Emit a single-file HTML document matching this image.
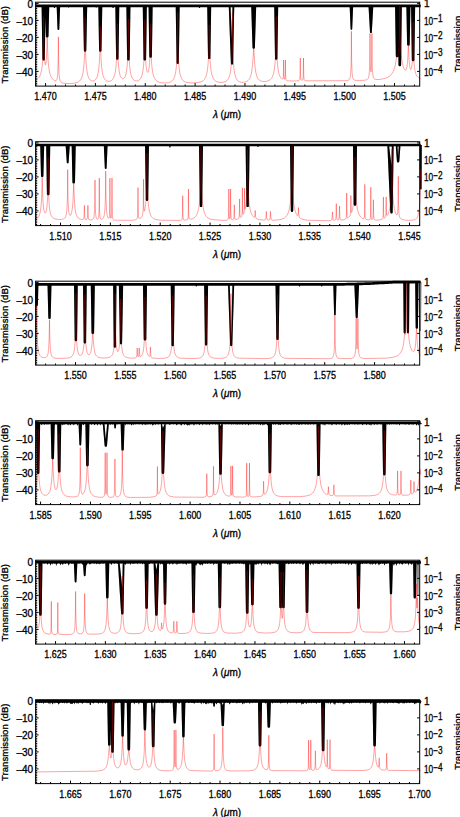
<!DOCTYPE html>
<html><head><meta charset="utf-8"><style>
html,body{margin:0;padding:0;background:#fff;width:460px;height:817px;overflow:hidden}
svg{display:block}
text{font-family:"Liberation Sans", sans-serif;font-size:10px;fill:#000;stroke:#000;stroke-width:0.3px}
.al{font-size:9.6px}
</style></head><body>
<svg width="460" height="817" viewBox="0 0 460 817">
<rect width="460" height="817" fill="#fff"/>
<path d="M35.6,5.9 37.6,5.9 39.6,5.9 41.6,5.9 43.6,5.9 45.6,5.9 47.6,5.9 49.6,5.9 51.6,5.9 53.6,5.9 55.6,5.9 57.6,5.9 59.6,5.9 61.6,5.9 63.6,5.9 65.6,5.9 67.6,5.9 69.6,5.9 71.6,5.9 73.6,5.9 75.6,5.9 77.6,5.9 79.6,5.9 81.6,5.9 83.6,5.9 85.6,5.9 87.6,5.9 89.6,5.9 91.6,5.9 93.6,5.9 95.6,5.9 97.6,5.9 99.6,5.9 101.6,5.9 103.6,5.9 105.6,5.9 107.6,5.9 109.6,5.9 111.6,5.9 113.6,5.9 115.6,5.9 117.6,5.9 119.6,5.9 121.6,5.9 123.6,5.9 125.6,5.9 127.6,5.9 129.6,5.9 131.6,5.9 133.6,5.9 135.6,5.9 137.6,5.9 139.6,5.9 141.6,5.9 143.6,5.9 145.6,5.9 147.6,5.9 149.6,5.9 151.6,5.9 153.6,5.9 155.6,5.9 157.6,5.9 159.6,5.9 161.6,5.9 163.6,5.9 165.6,5.9 167.6,5.9 169.6,5.9 171.6,5.9 173.6,5.9 175.6,5.9 177.6,5.9 179.6,5.9 181.6,5.9 183.6,5.9 185.6,5.9 187.6,5.9 189.6,5.9 191.6,5.9 193.6,5.9 195.6,5.9 197.6,5.9 199.6,5.9 201.6,5.9 203.6,5.9 205.6,5.9 207.6,5.9 209.6,5.9 211.6,5.9 213.6,5.9 215.6,5.9 217.6,5.9 219.6,5.9 221.6,5.9 223.6,5.9 225.6,5.9 227.6,5.9 229.6,5.9 231.6,5.9 233.6,5.9 235.6,5.9 237.6,5.9 239.6,5.9 241.6,5.9 243.6,5.9 245.6,5.9 247.6,5.9 249.6,5.9 251.6,5.9 253.6,5.9 255.6,5.9 257.6,5.9 259.6,5.9 261.6,5.9 263.6,5.9 265.6,5.9 267.6,5.9 269.6,5.9 271.6,5.9 273.6,5.9 275.6,5.9 277.6,5.9 279.6,5.9 281.6,5.9 283.6,5.9 285.6,5.9 287.6,5.9 289.6,5.9 291.6,5.9 293.6,5.9 295.6,5.9 297.6,5.9 299.6,5.9 301.6,5.9 303.6,5.9 305.6,5.9 307.6,5.9 309.6,5.9 311.6,5.9 313.6,5.9 315.6,5.9 317.6,5.9 319.6,5.9 321.6,5.9 323.6,5.9 325.6,5.9 327.6,5.9 329.6,5.9 331.6,5.9 333.6,5.9 335.6,5.9 337.6,5.9 339.6,5.9 341.6,5.9 343.6,5.9 345.6,5.9 347.6,5.9 349.6,5.9 351.6,5.9 353.6,5.9 355.6,5.9 357.6,5.9 359.6,5.9 361.6,5.9 363.6,5.9 365.6,5.9 367.6,5.9 369.6,5.9 371.6,5.9 373.6,5.9 375.6,5.9 377.6,5.9 379.6,5.9 381.6,5.9 383.6,5.9 385.6,5.9 387.6,5.9 389.6,5.9 391.6,5.9 393.6,5.9 395.6,5.9 397.6,5.9 399.6,5.9 401.6,5.9 403.6,5.9 405.6,5.9 407.6,5.9 409.6,5.9 411.6,5.9 413.6,5.9 415.6,5.9 417.6,5.9 419.6,5.9 420.7,5.9" fill="none" stroke="#000" stroke-width="2.7"/>
<path d="M41.6,5.9L42.4,59.3A1.2,1.2 0 0 0 44.8,59.3L45.6,5.9ZM45.15,5.9L45.9,36.2A1.3,1.3 0 0 0 48.5,36.2L49.25,5.9ZM56.65,5.9L57.5,29A0.9,0.9 0 0 0 59.3,29L60.15,5.9ZM83,5.9L83.9,50.5A1.2,1.2 0 0 0 86.3,50.5L87.2,5.9ZM98.3,5.9L99.1,50.5A1.2,1.2 0 0 0 101.5,50.5L102.3,5.9ZM115.3,5.9L116.1,58.6A1.2,1.2 0 0 0 118.5,58.6L119.3,5.9ZM126.35,5.9L127.1,59.2A1.3,1.3 0 0 0 129.7,59.2L130.45,5.9ZM142.75,5.9L143.5,59.2A1.3,1.3 0 0 0 146.1,59.2L146.85,5.9ZM148.55,5.9L149.3,56.4A1.3,1.3 0 0 0 151.9,56.4L152.65,5.9ZM175.7,5.9L176.6,62.9A1.1,1.1 0 0 0 178.8,62.9L179.7,5.9ZM207.2,5.9L208,57.9A1.2,1.2 0 0 0 210.4,57.9L211.2,5.9ZM228.75,5.9L230.9,63.6A1.1,1.1 0 0 0 233.1,63.6L234.25,5.9ZM251.2,5.9L252.5,47.5A1.2,1.2 0 0 0 254.9,47.5L256.2,5.9ZM274.2,5.9L275,58.6A1.2,1.2 0 0 0 277.4,58.6L278.2,5.9ZM349.65,5.9L350.6,29.1A0.8,0.8 0 0 0 352.2,29.1L353.15,5.9ZM368.5,5.9L370,32.2A0.9,0.9 0 0 0 371.8,32.2L373.3,5.9ZM395.05,5.9L395.8,56A1.3,1.3 0 0 0 398.4,56L399.15,5.9ZM397.75,5.9L398.5,64.9A1.3,1.3 0 0 0 401.1,64.9L401.85,5.9ZM406.35,5.9L407.1,44.5A1.3,1.3 0 0 0 409.7,44.5L410.45,5.9ZM411.05,5.9L411.8,59.9A1.3,1.3 0 0 0 414.4,59.9L415.15,5.9ZM53.5,5.9L54,7.5A0.5,0.5 0 0 0 55,7.5L55.5,5.9ZM67.4,5.9L67.9,7A0.5,0.5 0 0 0 68.9,7L69.4,5.9ZM95.2,5.9L95.7,7A0.5,0.5 0 0 0 96.7,7L97.2,5.9ZM112,5.9L112.5,7.5A0.5,0.5 0 0 0 113.5,7.5L114,5.9ZM198.25,5.9L199,7.5A0.5,0.5 0 0 0 200,7.5L200.75,5.9Z" fill="#000"/>
<path d="M230.55,7.3L232.45,7.3L232,40Z" fill="#fff"/>
<path d="M35.6,80.1 36.6,79.64 37.6,78.97 38.1,78.53 38.6,77.98 39.1,77.31 39.6,76.48 40.1,75.42 40.6,74.06 41.19,71.91 41.6,69.85 42.1,66.41 42.6,61.12 42.85,57.24 43.1,51.45 43.22,47.4 43.41,37.58 43.6,16.7 43.79,37.58 43.98,47.37 44.19,53.74 44.35,56.98 44.6,60.52 45.11,64.35 45.6,64.76 45.7,64.49 46.1,61.98 46.45,57.63 46.82,49.18 47.11,39.1 47.2,37.46 47.29,39.1 47.6,49.95 47.95,57.94 48.1,60.3 48.7,66.85 49.1,69.64 49.63,72.34 50.21,74.49 50.6,75.61 51.1,76.77 51.6,77.7 52.6,79.08 53.21,79.69 54.1,80.34 54.6,80.59 55.1,80.75 55.65,80.78 56.1,80.63 56.6,80.12 56.91,79.46 57.1,78.81 57.6,75.34 58.03,66.8 58.21,57.56 58.4,36.89 58.6,58.49 58.77,66.83 59.15,74.87 59.23,75.86 59.6,78.79 59.89,80.09 60.1,80.71 60.6,81.67 61.1,82.23 61.6,82.58 62.1,82.82 63.1,83.13 66.1,83.52 71.6,83.5 74.6,83.15 76.6,82.66 77.6,82.28 78.6,81.74 79.6,80.94 80.1,80.41 80.6,79.75 81.1,78.91 81.6,77.84 82.16,76.27 82.6,74.6 83.1,72.08 83.63,68.25 84.1,63.03 84.36,58.72 84.6,53.17 84.73,48.76 84.92,38.9 85.1,18 85.28,38.9 85.47,48.76 85.6,53.17 85.84,58.72 86.1,63.02 86.6,68.47 87.1,72.02 87.6,74.49 88.1,76.28 88.6,77.6 89.1,78.59 89.6,79.33 90.1,79.89 90.6,80.3 91.1,80.6 91.6,80.8 92.1,80.92 92.6,80.96 93.1,80.94 93.6,80.83 94.1,80.66 94.6,80.39 95.32,79.82 95.6,79.51 96.1,78.85 96.6,77.97 97.1,76.79 97.7,74.84 98.1,73.06 98.6,70.03 99.1,65.52 99.65,57.02 99.97,47.26 100.3,26.4 100.63,47.26 100.95,57.02 101.1,59.94 101.6,66.59 102.1,70.73 102.6,73.56 103.1,75.59 103.6,77.08 104.1,78.2 104.6,79.05 105.1,79.7 105.6,80.19 106.1,80.57 106.6,80.86 107.1,81.07 108.1,81.31 109.1,81.33 110.1,81.15 111.1,80.75 111.6,80.43 112.1,80.02 112.6,79.48 113.1,78.79 113.6,77.9 114.1,76.72 114.6,75.14 115.15,72.75 115.6,69.97 116.1,65.48 116.6,58.01 116.76,54.27 117.1,40.46 117.3,23.6 117.6,46 117.84,54.27 118.1,59.89 118.38,63.98 118.6,66.51 119.1,70.58 119.6,73.32 120.1,75.22 120.6,76.56 121.11,77.51 121.6,78.14 122.18,78.57 122.6,78.72 123.1,78.71 123.6,78.52 124.1,78.13 124.6,77.49 125.1,76.55 125.6,75.2 126.1,73.3 126.6,70.56 127.1,66.49 127.62,59.45 128.01,49.54 128.21,39.7 128.4,18.8 128.6,40.1 128.79,49.54 129.18,59.46 129.6,65.45 130.1,69.94 130.6,72.95 131.1,75.08 131.76,77.04 132.1,77.79 132.6,78.66 133.39,79.63 134.1,80.2 134.62,80.49 135.1,80.69 135.6,80.82 136.6,80.9 137.6,80.75 138.6,80.35 139.1,80.04 139.6,79.63 140.1,79.1 140.84,78.03 141.6,76.37 142.1,74.82 142.6,72.72 143.17,69.24 143.6,65.33 144.1,57.93 144.39,50.21 144.6,40.13 144.8,19.5 145,40.39 145.21,50.2 145.61,59.98 146.1,66.08 146.6,69.66 147.1,71.62 147.6,72.37 148.06,72.12 148.45,71.18 148.6,70.62 149.1,67.77 149.6,62.76 150.1,53.18 150.33,44.46 150.6,23.6 150.87,44.47 151.14,54.24 151.32,58.35 151.68,63.9 152.1,68.26 152.75,72.56 153.1,74.18 153.6,75.97 154.1,77.32 154.6,78.37 155.1,79.2 155.6,79.86 156.1,80.4 157.1,81.21 158.1,81.78 159.6,82.35 161.6,82.78 164.6,83.02 167.1,82.9 168.6,82.65 169.6,82.38 170.6,81.96 171.6,81.33 172.1,80.92 172.6,80.4 173.1,79.76 173.6,78.96 174.1,77.93 174.6,76.6 175.1,74.84 175.64,72.25 176.1,69.11 176.67,63.23 177.18,53.35 177.44,43.29 177.7,12.5 177.83,33.41 177.96,43.29 178.22,53.35 178.6,61.31 179.1,67.36 179.76,72.24 180.1,73.95 180.6,75.92 181.1,77.39 181.83,78.94 182.6,80.06 183.1,80.6 183.6,81.04 184.6,81.68 186.1,82.27 188.1,82.69 192.6,82.92 197.1,82.63 199.6,82.18 201.1,81.77 202.1,81.36 203.1,80.76 203.6,80.35 204.22,79.72 204.6,79.22 205.1,78.42 205.6,77.41 206.1,76.08 206.71,73.88 207.1,71.95 207.6,68.61 208.1,63.63 208.6,55.12 208.89,45.87 209.2,25 209.51,45.87 209.82,55.65 210.1,60.85 210.6,66.88 211.1,70.76 211.69,73.89 212.1,75.46 212.6,76.95 213.1,78.08 213.6,78.97 214.18,79.77 214.6,80.22 215.1,80.67 216.1,81.34 217.1,81.78 218.6,82.19 220.6,82.41 222.6,82.35 224.18,82.07 225.1,81.76 226.1,81.25 226.6,80.9 227.1,80.46 227.6,79.91 228.29,78.89 228.87,77.72 229.14,77.04 229.6,75.59 230.1,73.51 230.6,70.63 231.1,66.43 231.37,63.22 231.6,59.71 231.89,53.35 232.14,43.29 232.4,12.5 232.66,43.29 232.91,53.35 233.1,57.81 233.43,63.23 233.6,65.35 234.1,69.92 234.6,73.02 235.1,75.25 235.6,76.89 236.1,78.14 236.6,79.1 237.1,79.85 237.6,80.44 238.1,80.92 238.6,81.29 239.6,81.84 240.1,82.04 241.6,82.32 243.1,82.34 244.6,82.14 245.6,81.87 246.6,81.45 247.6,80.84 248.1,80.42 248.6,79.91 249.1,79.27 249.6,78.47 250.1,77.46 250.6,76.14 251.1,74.42 251.6,72.12 252.15,68.57 252.6,64.38 253.1,57.49 253.6,49.1 253.7,48.63 253.89,50.26 254.6,61.97 255.25,68.55 255.6,70.94 256.1,73.52 256.8,76.04 257.1,76.83 257.6,77.91 258.1,78.74 258.6,79.38 259.1,79.89 260.1,80.6 261.1,81.04 262.1,81.31 264.1,81.49 266.15,81.34 268.1,80.84 269.1,80.39 270.1,79.75 270.6,79.31 271.1,78.78 271.6,78.12 272.1,77.29 272.6,76.24 273.1,74.88 273.6,73.1 274.1,70.69 274.65,66.93 275.1,62.31 275.42,57.42 275.6,53.73 275.81,47.45 276.01,37.6 276.2,16.7 276.39,37.6 276.6,47.89 276.98,57.42 277.1,59.5 277.6,65.56 278.1,69.45 278.6,72.16 279.31,74.79 279.6,75.61 280.1,76.72 280.6,77.58 281.1,78.23 281.6,78.73 282.1,79.06 282.51,79.16 282.6,79.14 283.05,78.4 283.2,77.45 283.33,75.51 283.46,70.12 283.6,59.99 283.74,70.14 283.9,76.21 284.15,78.59 284.3,79.08 284.6,79.28 284.69,79.18 284.85,78.75 285.12,75.78 285.26,70.25 285.4,60.03 285.6,73.52 285.78,77.74 285.95,79.12 286.1,79.71 286.5,80.37 287.1,80.71 288.1,80.93 296.6,80.93 298.25,80.75 298.6,80.66 299.1,80.42 299.4,80.09 299.6,79.64 299.79,78.75 300.04,74.9 300.3,58.05 300.43,68.69 300.6,76.02 300.81,78.72 301.1,79.83 301.32,80.16 301.6,80.33 302.1,80.37 302.48,80.17 302.6,80.03 303,78.63 303.1,77.71 303.24,74.91 303.5,58.05 303.63,68.7 303.76,74.92 304.01,78.79 304.1,79.29 304.4,80.12 304.6,80.36 305.1,80.63 306.1,80.8 345.1,80.71 347.1,80.49 348.1,80.23 348.6,80 349.22,79.49 349.6,78.94 350.1,77.54 350.31,76.49 350.6,74.11 350.85,70.25 351.13,61.55 351.26,52.07 351.4,31.29 351.6,57.33 351.67,61.55 351.95,70.25 352.1,72.87 352.49,76.47 352.6,77.07 353.1,78.7 353.6,79.46 354.1,79.87 354.6,80.11 356.1,80.42 362.6,80.41 365.1,80.14 366.1,79.91 367.1,79.48 367.6,79.1 368.1,78.45 368.6,77.24 368.74,76.69 369.1,74.52 369.39,71.12 369.6,66.33 369.84,54.06 370,33.38 370.16,54.04 370.31,63.17 370.64,70.67 371.1,71.93 371.27,70.49 371.6,62.59 371.74,54.04 371.9,33.38 372.1,57.31 372.21,63.29 372.6,72.34 373.16,76.56 373.6,77.87 374.1,78.62 374.6,79.03 375.1,79.26 376.1,79.49 378.1,79.54 382.1,79.09 385.1,78.37 387.1,77.61 388.6,76.81 389.6,76.11 391.1,74.71 392.1,73.44 392.6,72.65 393.25,71.44 394.1,69.39 394.6,67.85 395.1,65.94 395.6,63.54 396.67,56.59 397.1,54.88 397.53,55.2 397.6,55.32 397.95,55.48 398.16,54.96 398.6,52.07 398.98,47.15 399.16,43.67 399.39,37.34 399.6,27.18 399.8,6.6 400,27.5 400.21,37.36 400.62,47.37 401.1,53.94 401.6,58.42 402.1,61.65 402.6,64.12 403.1,66.04 403.6,67.55 404.1,68.7 404.6,69.54 405.1,70.05 405.6,70.16 406.13,69.72 406.35,69.3 406.6,68.59 407.1,66.09 407.31,64.43 407.6,61.15 407.85,56.96 408.26,47.26 408.4,45.65 408.54,47.26 408.95,56.98 409.1,59.71 409.62,65.55 410.1,68.28 410.6,69.43 410.73,69.5 411.1,69.21 411.36,68.54 411.6,67.47 412.1,63.41 412.23,61.76 412.66,52.51 412.9,41.8 413.1,22 413.32,42.85 413.6,54.48 413.97,61.99 414.1,63.75 414.6,68.5 415.1,71.38 415.6,73.27 416.1,74.59 416.6,75.56 417.13,76.33 417.6,76.86 418.1,77.31 419.1,78 420.6,78.69" fill="none" stroke="rgb(255,0,0)" stroke-opacity="0.36" stroke-width="1"/>
<path d="M41.6,5.9L42.4,59.3A1.2,1.2 0 0 0 44.8,59.3L45.6,5.9ZM45.15,5.9L45.9,36.2A1.3,1.3 0 0 0 48.5,36.2L49.25,5.9ZM56.65,5.9L57.5,29A0.9,0.9 0 0 0 59.3,29L60.15,5.9ZM83,5.9L83.9,50.5A1.2,1.2 0 0 0 86.3,50.5L87.2,5.9ZM98.3,5.9L99.1,50.5A1.2,1.2 0 0 0 101.5,50.5L102.3,5.9ZM115.3,5.9L116.1,58.6A1.2,1.2 0 0 0 118.5,58.6L119.3,5.9ZM126.35,5.9L127.1,59.2A1.3,1.3 0 0 0 129.7,59.2L130.45,5.9ZM142.75,5.9L143.5,59.2A1.3,1.3 0 0 0 146.1,59.2L146.85,5.9ZM148.55,5.9L149.3,56.4A1.3,1.3 0 0 0 151.9,56.4L152.65,5.9ZM175.7,5.9L176.6,62.9A1.1,1.1 0 0 0 178.8,62.9L179.7,5.9ZM207.2,5.9L208,57.9A1.2,1.2 0 0 0 210.4,57.9L211.2,5.9ZM228.75,5.9L230.9,63.6A1.1,1.1 0 0 0 233.1,63.6L234.25,5.9ZM251.2,5.9L252.5,47.5A1.2,1.2 0 0 0 254.9,47.5L256.2,5.9ZM274.2,5.9L275,58.6A1.2,1.2 0 0 0 277.4,58.6L278.2,5.9ZM349.65,5.9L350.6,29.1A0.8,0.8 0 0 0 352.2,29.1L353.15,5.9ZM368.5,5.9L370,32.2A0.9,0.9 0 0 0 371.8,32.2L373.3,5.9ZM395.05,5.9L395.8,56A1.3,1.3 0 0 0 398.4,56L399.15,5.9ZM397.75,5.9L398.5,64.9A1.3,1.3 0 0 0 401.1,64.9L401.85,5.9ZM406.35,5.9L407.1,44.5A1.3,1.3 0 0 0 409.7,44.5L410.45,5.9ZM411.05,5.9L411.8,59.9A1.3,1.3 0 0 0 414.4,59.9L415.15,5.9ZM53.5,5.9L54,7.5A0.5,0.5 0 0 0 55,7.5L55.5,5.9ZM67.4,5.9L67.9,7A0.5,0.5 0 0 0 68.9,7L69.4,5.9ZM95.2,5.9L95.7,7A0.5,0.5 0 0 0 96.7,7L97.2,5.9ZM112,5.9L112.5,7.5A0.5,0.5 0 0 0 113.5,7.5L114,5.9ZM198.25,5.9L199,7.5A0.5,0.5 0 0 0 200,7.5L200.75,5.9ZM230.55,7.3L232.45,7.3L232,40Z" fill="#000" fill-opacity="0.3" fill-rule="evenodd"/>
<rect x="35.6" y="2.2" width="384.1" height="83.9" fill="none" stroke="#000" stroke-width="1"/>
<path d="M35.6,3.4h3M35.6,5.1h1.6M35.6,6.8h1.6M35.6,8.5h1.6M35.6,10.2h1.6M35.6,11.9h1.6M35.6,13.6h1.6M35.6,15.3h1.6M35.6,17h1.6M35.6,18.7h1.6M35.6,20.4h3M35.6,22.1h1.6M35.6,23.8h1.6M35.6,25.5h1.6M35.6,27.2h1.6M35.6,28.9h1.6M35.6,30.6h1.6M35.6,32.3h1.6M35.6,34h1.6M35.6,35.7h1.6M35.6,37.4h3M35.6,39.1h1.6M35.6,40.8h1.6M35.6,42.5h1.6M35.6,44.2h1.6M35.6,45.9h1.6M35.6,47.6h1.6M35.6,49.3h1.6M35.6,51h1.6M35.6,52.7h1.6M35.6,54.4h3M35.6,56.1h1.6M35.6,57.8h1.6M35.6,59.5h1.6M35.6,61.2h1.6M35.6,62.9h1.6M35.6,64.6h1.6M35.6,66.3h1.6M35.6,68h1.6M35.6,69.7h1.6M35.6,71.4h3M35.6,73.1h1.6M35.6,74.8h1.6M35.6,76.5h1.6M35.6,78.2h1.6M35.6,79.9h1.6M35.6,81.6h1.6M35.6,83.3h1.6M35.6,85h1.6M419.7,3.4h-2.6M419.7,20.4h-2.6M419.7,37.4h-2.6M419.7,54.4h-2.6M419.7,71.4h-2.6M35.6,86.1v-1.6M45.57,86.1v-3M55.54,86.1v-1.6M65.51,86.1v-1.6M75.48,86.1v-1.6M85.45,86.1v-1.6M95.42,86.1v-3M105.39,86.1v-1.6M115.36,86.1v-1.6M125.33,86.1v-1.6M135.3,86.1v-1.6M145.27,86.1v-3M155.24,86.1v-1.6M165.21,86.1v-1.6M175.18,86.1v-1.6M185.15,86.1v-1.6M195.12,86.1v-3M205.09,86.1v-1.6M215.06,86.1v-1.6M225.03,86.1v-1.6M235,86.1v-1.6M244.97,86.1v-3M254.94,86.1v-1.6M264.91,86.1v-1.6M274.88,86.1v-1.6M284.85,86.1v-1.6M294.82,86.1v-3M304.79,86.1v-1.6M314.76,86.1v-1.6M324.73,86.1v-1.6M334.7,86.1v-1.6M344.67,86.1v-3M354.64,86.1v-1.6M364.61,86.1v-1.6M374.58,86.1v-1.6M384.55,86.1v-1.6M394.52,86.1v-3M404.49,86.1v-1.6M414.46,86.1v-1.6" stroke="#000" stroke-width="1" fill="none"/>
<g><text x="34.37" y="100.3" textLength="22.4" lengthAdjust="spacingAndGlyphs">1.470</text><text x="84.22" y="100.3" textLength="22.4" lengthAdjust="spacingAndGlyphs">1.475</text><text x="134.07" y="100.3" textLength="22.4" lengthAdjust="spacingAndGlyphs">1.480</text><text x="183.92" y="100.3" textLength="22.4" lengthAdjust="spacingAndGlyphs">1.485</text><text x="233.77" y="100.3" textLength="22.4" lengthAdjust="spacingAndGlyphs">1.490</text><text x="283.62" y="100.3" textLength="22.4" lengthAdjust="spacingAndGlyphs">1.495</text><text x="333.47" y="100.3" textLength="22.4" lengthAdjust="spacingAndGlyphs">1.500</text><text x="383.32" y="100.3" textLength="22.4" lengthAdjust="spacingAndGlyphs">1.505</text><text x="33.1" y="7.7" text-anchor="end">0</text><text x="33.1" y="24.7" text-anchor="end">–10</text><text x="33.1" y="41.7" text-anchor="end">–20</text><text x="33.1" y="58.7" text-anchor="end">–30</text><text x="33.1" y="75.7" text-anchor="end">–40</text><text x="423.9" y="7">1</text><text x="423.9" y="24.6" textLength="9.2" lengthAdjust="spacingAndGlyphs">10</text><text x="433.2" y="22.4" font-size="7.8" textLength="9.4" lengthAdjust="spacingAndGlyphs">−1</text><text x="423.9" y="41.6" textLength="9.2" lengthAdjust="spacingAndGlyphs">10</text><text x="433.2" y="39.4" font-size="7.8" textLength="9.4" lengthAdjust="spacingAndGlyphs">−2</text><text x="423.9" y="58.6" textLength="9.2" lengthAdjust="spacingAndGlyphs">10</text><text x="433.2" y="56.4" font-size="7.8" textLength="9.4" lengthAdjust="spacingAndGlyphs">−3</text><text x="423.9" y="75.6" textLength="9.2" lengthAdjust="spacingAndGlyphs">10</text><text x="433.2" y="73.4" font-size="7.8" textLength="9.4" lengthAdjust="spacingAndGlyphs">−4</text><text x="227" y="118" text-anchor="middle"><tspan font-style="italic">λ</tspan> (<tspan font-style="italic">μ</tspan>m)</text><text transform="translate(8.0,44.7) rotate(-90)" text-anchor="middle" class="al">Transmission (dB)</text><text transform="translate(460.8,44) rotate(-90)" text-anchor="middle" class="al">Transmission</text></g>
<path d="M35.6,145 37.6,145 39.6,145 41.6,145 43.6,145 45.6,145 47.6,145 49.6,145 51.6,145 53.6,145 55.6,145 57.6,145 59.6,145 61.6,145 63.6,145 65.6,145 67.6,145 69.6,145 71.6,145 73.6,145 75.6,145 77.6,145 79.6,145 81.6,145 83.6,145 85.6,145 87.6,145 89.6,145 91.6,145 93.6,145 95.6,145 97.6,145 99.6,145 101.6,145 103.6,145 105.6,145 107.6,145 109.6,145 111.6,145 113.6,145 115.6,145 117.6,145 119.6,145 121.6,145 123.6,145 125.6,145 127.6,145 129.6,145 131.6,145 133.6,145 135.6,145 137.6,145 139.6,145 141.6,145 143.6,145 145.6,145 147.6,145 149.6,145 151.6,145 153.6,145 155.6,145 157.6,145 159.6,145 161.6,145 163.6,145 165.6,145 167.6,145 169.6,145 171.6,145 173.6,145 175.6,145 177.6,145 179.6,145 181.6,145 183.6,145 185.6,145 187.6,145 189.6,145 191.6,145 193.6,145 195.6,145 197.6,145 199.6,145 201.6,145 203.6,145 205.6,145 207.6,145 209.6,145 211.6,145 213.6,145 215.6,145 217.6,145 219.6,145 221.6,145 223.6,145 225.6,145 227.6,145 229.6,145 231.6,145 233.6,145 235.6,145 237.6,145 239.6,145 241.6,145 243.6,145 245.6,145 247.6,145 249.6,145 251.6,145 253.6,145 255.6,145 257.6,145 259.6,145 261.6,145 263.6,145 265.6,145 267.6,145 269.6,145 271.6,145 273.6,145 275.6,145 277.6,145 279.6,145 281.6,145 283.6,145 285.6,145 287.6,145 289.6,145 291.6,145 293.6,145 295.6,145 297.6,145 299.6,145 301.6,145 303.6,145 305.6,145 307.6,145 309.6,145 311.6,145 313.6,145 315.6,145 317.6,145 319.6,145 321.6,145 323.6,145 325.6,145 327.6,145 329.6,145 331.6,145 333.6,145 335.6,145 337.6,145 339.6,145 341.6,145 343.6,145 345.6,145 347.6,145 349.6,145 351.6,145 353.6,145 355.6,145 357.6,145 359.6,145 361.6,145 363.6,145 365.6,145 367.6,145 369.6,145 371.6,145 373.6,145 375.6,145 377.6,145 379.6,145 381.6,145 383.6,145 385.6,145 387.6,145 389.6,145 391.6,145 393.6,145 395.6,145 397.6,145 399.6,145 401.6,145 403.6,145 405.6,145 407.6,145 409.6,145 411.6,145 413.6,145 415.6,145 417.6,145 419.6,145 420.7,145" fill="none" stroke="#000" stroke-width="2.7"/>
<path d="M40.2,145L41,176A1.2,1.2 0 0 0 43.4,176L44.2,145ZM46.15,145L46.9,194A1.3,1.3 0 0 0 49.5,194L50.25,145ZM65.6,145L66.8,162.4A0.9,0.9 0 0 0 68.6,162.4L69.8,145ZM71.65,145L72.4,182.2A1.3,1.3 0 0 0 75,182.2L75.75,145ZM103.8,145L104.8,168A0.9,0.9 0 0 0 106.6,168L107.6,145ZM145,145L145.8,199.7A1.2,1.2 0 0 0 148.2,199.7L149,145ZM199,145L199.8,205.9A1.2,1.2 0 0 0 202.2,205.9L203,145ZM245.6,145L246.4,205.9A1.2,1.2 0 0 0 248.8,205.9L249.6,145ZM290,145L290.8,210.8A1.2,1.2 0 0 0 293.2,210.8L294,145ZM352.95,145L353.7,204.5A1.3,1.3 0 0 0 356.3,204.5L357.05,145ZM387.35,145L390.3,212.3A1.2,1.2 0 0 0 392.7,212.3L393.65,145ZM395.7,145L396.9,161.3A1.2,1.2 0 0 0 399.3,161.3L400.5,145ZM419.8,145L420,188.7A0.8,0.8 0 0 0 421.6,188.7L421.8,145ZM168.9,145L169.4,147A0.5,0.5 0 0 0 170.4,147L170.9,145ZM257,145L257.5,146.5A0.5,0.5 0 0 0 258.5,146.5L259,145Z" fill="#000"/>
<path d="M389.15,146.4L391.85,146.4L391.5,165.5ZM397.5,146.4L398.7,146.4L398.1,156.5Z" fill="#fff"/>
<path d="M35.6,218.91 36.6,218.46 37.21,218.08 37.6,217.76 38.1,217.26 38.6,216.6 39.1,215.7 39.7,214.14 40.1,212.66 40.6,209.96 41.1,205.63 41.6,197.85 41.89,189.64 42.12,179.51 42.2,177.87 42.6,192.63 42.82,198.33 43.1,203.02 43.45,206.93 43.6,208.17 44.1,211 44.6,212.48 44.78,212.78 45.1,213.04 45.6,212.8 45.76,212.55 46.1,211.71 46.6,209.47 47.1,205.37 47.6,197.41 47.9,187.81 48.12,168.98 48.2,157.1 48.35,177.99 48.6,191.71 48.81,197.66 49.1,202.95 49.42,206.8 49.6,208.43 50.1,211.69 50.64,213.92 51.1,215.23 51.6,216.24 52.19,217.08 52.6,217.52 53.1,217.95 54.1,218.53 55.1,218.91 57.1,219.31 59.6,219.47 61.65,219.35 62.6,219.19 63.6,218.87 64.1,218.61 64.67,218.18 65.1,217.69 65.6,216.82 66.19,214.93 66.6,212.39 66.94,208.57 67.1,205.83 67.32,199.85 67.51,190.36 67.7,169.59 67.89,190.36 68.1,200.57 68.46,208.42 68.6,210.21 69.1,213.72 69.21,214.16 69.6,215.08 69.74,215.26 70.1,215.43 70.6,215.13 71.1,214.26 71.6,212.7 72.1,210.15 72.6,205.95 72.8,203.55 73.1,198.48 73.6,184.76 73.7,183.45 73.81,185.08 74.15,195.13 74.6,203.58 75.1,208.83 75.6,212.06 76.1,214.17 76.6,215.61 77.31,216.97 77.6,217.36 78.1,217.91 78.6,218.32 79.1,218.65 80.1,219.1 81.1,219.39 82.15,219.54 82.6,219.55 83.1,219.46 83.48,219.18 83.6,218.99 83.94,217.61 84.1,215.63 84.4,205.39 84.63,213.99 84.86,217.65 85.1,218.84 85.32,219.27 85.6,219.53 86.23,219.69 86.6,219.63 86.98,219.34 87.1,219.16 87.44,217.74 87.6,215.73 87.9,205.41 88.16,214.88 88.36,217.77 88.6,218.98 88.82,219.42 89.1,219.69 89.73,219.91 90.6,219.97 91.76,219.84 92.6,219.54 93.1,219.14 93.38,218.75 93.6,218.3 94.1,216.19 94.19,215.49 94.6,208.86 94.8,200.39 95,179.97 95.22,201.73 95.4,208.99 95.6,213.04 95.81,215.44 96.11,217.26 96.62,218.58 97.1,219.04 97.6,219.11 97.7,219.08 98.1,218.75 98.24,218.51 98.5,217.66 98.6,217.13 98.9,213.47 99.12,204.97 99.31,178.13 99.4,197.07 99.5,206.09 99.7,213.47 100.1,217.68 100.6,218.91 100.9,219.15 101.1,219.23 101.6,219.26 102.1,219.13 102.62,218.82 103.1,218.34 103.6,217.48 104.1,215.93 104.6,212.92 104.88,209.93 105.1,206.17 105.29,201.25 105.49,191.76 105.7,170.99 105.91,191.76 106.11,201.25 106.6,210.9 106.91,213.8 107.1,214.95 107.36,216.11 107.6,216.9 107.96,217.67 108.1,217.89 108.63,218.28 108.99,218.06 109.1,217.83 109.26,217.22 109.46,215.58 109.6,212.76 109.74,206.01 109.91,178.11 109.98,197.05 110.1,208.72 110.22,213.3 110.54,217.36 110.73,218.06 111.1,218.24 111.17,218.13 111.36,217.48 111.6,215.18 111.68,213.43 111.84,206.08 112.01,178.11 112.16,206.1 112.32,213.53 112.44,216.03 112.64,217.85 113.1,219.35 113.27,219.58 113.73,219.92 114.6,220.18 131.6,220.27 134.6,219.96 135.6,219.75 136.1,219.58 136.65,219.22 136.82,219.04 137.1,218.53 137.33,217.71 137.6,215.13 137.83,207.1 138,187.6 138.17,207.08 138.34,213.8 138.6,217.03 138.67,217.41 138.93,218.14 139.1,218.34 139.35,218.47 139.6,218.5 140.1,218.37 140.69,218.03 141.22,217.59 141.6,217.15 142.1,216.32 142.36,215.69 142.6,214.84 142.93,212.65 143.1,210.19 143.21,207.17 143.39,196.34 143.5,179.24 143.64,199.2 143.79,206.69 144.1,210.89 144.46,210.96 144.64,210.43 145.1,208.28 145.78,202.7 146.1,198.58 146.36,193.67 146.68,183.67 146.84,173.81 147,152.9 147.16,173.81 147.32,183.67 147.64,193.68 148.1,201.38 148.6,206.33 149.1,209.63 149.6,211.96 150.1,213.68 150.6,214.96 151.1,215.95 151.6,216.73 152.1,217.34 152.64,217.86 153.6,218.56 154.6,219.05 156.1,219.55 160.1,220.18 179.18,220.43 180.6,220.3 181.1,220.18 181.6,219.91 181.82,219.64 182.1,218.87 182.26,217.79 182.48,213.32 182.7,195.73 182.92,213.31 183.14,217.76 183.6,219.58 184.1,219.95 184.6,220.05 185.6,220.03 186.6,219.88 187.1,219.7 187.4,219.5 187.6,219.26 187.95,218.23 188.1,217 188.22,214.77 188.36,208.29 188.5,188.99 188.64,208.28 188.78,214.73 189.1,218.32 189.6,219.19 190.1,219.31 191.1,219.18 193.1,218.45 194.1,217.84 195.1,216.98 195.6,216.42 196.1,215.73 196.77,214.56 197.31,213.33 197.6,212.53 198.1,210.86 198.6,208.69 199.1,205.79 199.6,201.73 200.1,195.54 200.46,188.18 200.73,178.1 201,147.3 201.14,168.21 201.27,178.1 201.6,189.7 202.1,198.39 202.6,203.54 203.16,207.42 203.6,209.63 204.1,211.58 204.6,213.09 205.32,214.74 206.1,216.02 206.6,216.66 207.15,217.23 208.1,217.99 209.1,218.56 210.6,219.15 213.1,219.73 223.1,220.35 226.61,220.2 227.1,220.1 227.7,219.79 228.1,219.12 228.25,218.49 228.41,217.13 228.53,214.93 228.66,208.35 228.8,188.99 228.94,208.34 229.1,215.49 229.35,218.24 229.5,218.75 229.6,218.89 229.9,218.74 230.1,217.94 230.33,214.83 230.46,208.31 230.6,188.99 230.75,209.08 230.91,215.64 231.15,218.35 231.6,219.47 231.7,219.55 232.1,219.72 232.79,219.68 233.18,219.49 233.45,219.18 233.6,218.86 233.88,217.42 234.1,213.18 234.3,204.77 234.6,215.72 234.72,217.36 234.98,218.69 235.17,219.06 235.6,219.35 236.1,219.4 237.69,219.05 238.1,218.85 238.6,218.43 238.78,218.15 239.1,217.03 239.32,214.33 239.46,209 239.6,198.95 239.74,208.96 239.88,214.16 240.15,216.82 240.6,217.38 240.71,217.36 241.1,217.13 241.5,216.62 241.81,215.78 241.95,215.07 242.1,213.35 242.17,211.62 242.29,205.31 242.41,187.78 242.51,205.24 242.63,211.29 242.85,214.05 243.1,214.39 243.31,214.21 243.6,213.64 243.8,213.07 244.1,211.58 244.26,209.47 244.38,204.56 244.51,188.32 244.62,204.26 244.74,208.35 244.97,209.19 245.11,208.85 245.6,206.43 246.1,202.72 246.6,197.12 246.98,190.35 247.29,180.29 247.44,170.41 247.6,149.5 247.76,170.41 247.91,180.29 248.29,191.91 248.6,197.12 249.1,202.74 249.64,206.76 250.1,209.24 250.6,211.28 251.1,212.86 251.6,214.1 252.35,215.5 253.1,216.5 253.77,217.1 254.1,217.25 254.44,217.18 254.6,216.93 254.84,215.77 255.2,210.41 255.6,216.45 255.91,217.86 256.1,218.23 256.63,218.75 257.6,219.21 259.6,219.7 263.6,220.08 264.6,220.02 265.1,219.85 265.6,219.22 265.93,217.46 266.3,211.44 266.67,217.47 267.04,219.33 267.1,219.45 267.6,219.93 268.1,220.06 268.6,220.08 269.26,219.91 269.6,219.63 269.76,219.35 270.13,217.49 270.5,211.45 270.87,217.5 271.1,218.95 271.24,219.36 271.6,219.85 272.23,220.1 275.1,220.15 279.1,219.76 281.6,219.22 283.6,218.44 284.6,217.85 285.6,217.04 286.1,216.52 286.6,215.89 287.1,215.14 287.7,214.03 288.1,213.1 288.6,211.71 289.1,209.95 289.61,207.63 290.1,204.71 290.6,200.59 291.1,194.34 291.46,186.9 291.73,176.8 292,146 292.13,166.91 292.27,176.8 292.6,188.48 293.1,197.21 293.6,202.42 294.2,206.63 294.6,208.67 295.1,210.7 295.6,212.29 296.3,214 296.6,214.56 297.1,215.33 297.39,215.65 297.6,215.79 297.94,215.6 298.1,214.99 298.22,213.83 298.5,207.56 298.78,214.17 299.1,216.68 299.61,217.71 300.1,218.17 301.1,218.77 303.1,219.48 307.6,220.25 328.6,220.75 330.6,220.59 331.1,220.45 331.6,220.04 331.74,219.78 332.14,217.76 332.5,211.85 332.88,217.87 333.1,219.27 333.26,219.71 333.6,220.15 334.1,220.33 334.78,220.29 335.1,220.15 335.3,219.99 335.6,219.44 335.82,218.41 335.92,217.43 336.11,212.99 336.3,203.61 336.49,212.98 336.68,217.4 337.12,219.64 337.66,220.04 338.1,220.03 338.6,219.68 339.04,218.14 339.27,214.57 339.5,206.05 339.73,214.56 339.96,218.11 340.1,218.9 340.42,219.64 340.6,219.81 341.1,219.99 342.6,219.95 344.1,219.65 345.27,219.18 345.6,218.92 345.99,218.27 346.1,217.89 346.34,216 346.52,211.03 346.7,192.98 346.88,210.98 347.1,216.27 347.46,217.74 347.6,217.86 348.13,217.82 348.6,217.52 349.18,216.97 349.6,216.43 350.1,215.48 350.47,213.95 350.6,212.56 350.68,210.77 350.9,195.42 351.12,210.24 351.33,212.4 351.6,212.38 351.76,212.05 352.1,211.02 352.62,208.81 353.1,206.05 353.6,202.01 354.1,195.85 354.49,187.84 354.74,178 355,157.1 355.26,178 355.6,190.05 356.1,198.68 356.67,204.36 357.1,207.33 357.79,210.69 358.1,211.85 358.6,213.34 359.17,214.69 359.6,215.48 360.1,216.24 360.68,216.95 361.6,217.8 362.1,218.14 362.6,218.41 363.39,218.66 363.6,218.66 364.01,218.4 364.1,218.23 364.27,217.64 364.45,216.08 364.62,210.82 364.81,184.39 364.89,202.89 364.98,210.85 365.15,216.2 365.5,218.59 365.6,218.82 366.1,219.39 366.6,219.62 367.61,219.84 369.1,219.89 369.6,219.74 369.95,219.4 370.1,219.08 370.38,217.57 370.6,212.38 370.81,187.17 370.91,205.44 371.01,212.93 371.12,216.09 371.22,217.56 371.47,218.96 371.65,219.36 372.1,219.64 372.26,219.62 372.5,219.45 372.6,219.31 372.83,218.64 373.11,215.53 373.26,209.96 373.4,199.73 373.6,212.9 373.69,215.55 373.97,218.71 374.2,219.42 374.6,219.88 375.1,220.06 376.1,220.15 379.1,219.97 381.1,219.58 381.6,219.41 382.1,219.14 382.6,218.54 382.93,217.26 383.1,215.17 383.28,207.53 383.4,197.01 383.64,213.46 383.87,216.93 384.1,217.74 384.34,217.97 384.6,217.97 385.1,217.63 385.29,217.38 385.6,216.62 385.73,215.98 385.96,212.69 386.2,196.91 386.32,207.05 386.44,212.43 386.6,214.79 386.67,215.19 387.1,215.61 387.3,215.44 387.6,215.02 388.1,214.07 388.62,212.75 389.1,211.16 389.65,208.76 390.1,206.12 390.6,202.07 391.1,195.89 391.41,189.76 391.71,179.69 391.85,169.81 392,148.9 392.15,169.81 392.29,179.69 392.6,190.06 393.18,199.66 393.74,204.96 394.35,208.73 394.6,209.9 395.1,211.79 395.6,213.21 396.1,214.24 396.6,214.87 396.7,214.94 397.1,214.87 397.6,213.02 397.69,212.11 398,205.56 398.15,196.86 398.3,176.37 398.48,199.46 398.6,205.67 398.91,212.64 399.1,214.6 399.51,216.66 399.6,216.92 400.1,217.92 400.72,218.59 401.6,219.14 402.6,219.54 404.6,220 408.6,220.35 411.6,220.27 413.6,219.97 414.6,219.66 415.6,219.16 416.1,218.78 416.6,218.29 417.1,217.61 417.6,216.68 418.1,215.34 418.6,213.38 419.1,210.36 419.6,205.42 419.94,199.9 420.27,190.3 420.6,169.49 420.77,181.35" fill="none" stroke="rgb(255,0,0)" stroke-opacity="0.36" stroke-width="1"/>
<path d="M40.2,145L41,176A1.2,1.2 0 0 0 43.4,176L44.2,145ZM46.15,145L46.9,194A1.3,1.3 0 0 0 49.5,194L50.25,145ZM65.6,145L66.8,162.4A0.9,0.9 0 0 0 68.6,162.4L69.8,145ZM71.65,145L72.4,182.2A1.3,1.3 0 0 0 75,182.2L75.75,145ZM103.8,145L104.8,168A0.9,0.9 0 0 0 106.6,168L107.6,145ZM145,145L145.8,199.7A1.2,1.2 0 0 0 148.2,199.7L149,145ZM199,145L199.8,205.9A1.2,1.2 0 0 0 202.2,205.9L203,145ZM245.6,145L246.4,205.9A1.2,1.2 0 0 0 248.8,205.9L249.6,145ZM290,145L290.8,210.8A1.2,1.2 0 0 0 293.2,210.8L294,145ZM352.95,145L353.7,204.5A1.3,1.3 0 0 0 356.3,204.5L357.05,145ZM387.35,145L390.3,212.3A1.2,1.2 0 0 0 392.7,212.3L393.65,145ZM395.7,145L396.9,161.3A1.2,1.2 0 0 0 399.3,161.3L400.5,145ZM419.8,145L420,188.7A0.8,0.8 0 0 0 421.6,188.7L421.8,145ZM168.9,145L169.4,147A0.5,0.5 0 0 0 170.4,147L170.9,145ZM257,145L257.5,146.5A0.5,0.5 0 0 0 258.5,146.5L259,145ZM389.15,146.4L391.85,146.4L391.5,165.5ZM397.5,146.4L398.7,146.4L398.1,156.5Z" fill="#000" fill-opacity="0.3" fill-rule="evenodd"/>
<rect x="35.6" y="141.7" width="384.1" height="83.9" fill="none" stroke="#000" stroke-width="1"/>
<path d="M35.6,142.9h3M35.6,144.6h1.6M35.6,146.3h1.6M35.6,148h1.6M35.6,149.7h1.6M35.6,151.4h1.6M35.6,153.1h1.6M35.6,154.8h1.6M35.6,156.5h1.6M35.6,158.2h1.6M35.6,159.9h3M35.6,161.6h1.6M35.6,163.3h1.6M35.6,165h1.6M35.6,166.7h1.6M35.6,168.4h1.6M35.6,170.1h1.6M35.6,171.8h1.6M35.6,173.5h1.6M35.6,175.2h1.6M35.6,176.9h3M35.6,178.6h1.6M35.6,180.3h1.6M35.6,182h1.6M35.6,183.7h1.6M35.6,185.4h1.6M35.6,187.1h1.6M35.6,188.8h1.6M35.6,190.5h1.6M35.6,192.2h1.6M35.6,193.9h3M35.6,195.6h1.6M35.6,197.3h1.6M35.6,199h1.6M35.6,200.7h1.6M35.6,202.4h1.6M35.6,204.1h1.6M35.6,205.8h1.6M35.6,207.5h1.6M35.6,209.2h1.6M35.6,210.9h3M35.6,212.6h1.6M35.6,214.3h1.6M35.6,216h1.6M35.6,217.7h1.6M35.6,219.4h1.6M35.6,221.1h1.6M35.6,222.8h1.6M35.6,224.5h1.6M419.7,142.9h-2.6M419.7,159.9h-2.6M419.7,176.9h-2.6M419.7,193.9h-2.6M419.7,210.9h-2.6M40.58,225.6v-1.6M50.55,225.6v-1.6M60.52,225.6v-3M70.49,225.6v-1.6M80.46,225.6v-1.6M90.43,225.6v-1.6M100.4,225.6v-1.6M110.37,225.6v-3M120.34,225.6v-1.6M130.31,225.6v-1.6M140.28,225.6v-1.6M150.25,225.6v-1.6M160.22,225.6v-3M170.19,225.6v-1.6M180.16,225.6v-1.6M190.13,225.6v-1.6M200.1,225.6v-1.6M210.07,225.6v-3M220.04,225.6v-1.6M230.01,225.6v-1.6M239.98,225.6v-1.6M249.95,225.6v-1.6M259.92,225.6v-3M269.89,225.6v-1.6M279.86,225.6v-1.6M289.83,225.6v-1.6M299.8,225.6v-1.6M309.77,225.6v-3M319.74,225.6v-1.6M329.71,225.6v-1.6M339.68,225.6v-1.6M349.65,225.6v-1.6M359.62,225.6v-3M369.59,225.6v-1.6M379.56,225.6v-1.6M389.53,225.6v-1.6M399.5,225.6v-1.6M409.47,225.6v-3M419.44,225.6v-1.6" stroke="#000" stroke-width="1" fill="none"/>
<g><text x="49.32" y="239.8" textLength="22.4" lengthAdjust="spacingAndGlyphs">1.510</text><text x="99.17" y="239.8" textLength="22.4" lengthAdjust="spacingAndGlyphs">1.515</text><text x="149.02" y="239.8" textLength="22.4" lengthAdjust="spacingAndGlyphs">1.520</text><text x="198.87" y="239.8" textLength="22.4" lengthAdjust="spacingAndGlyphs">1.525</text><text x="248.72" y="239.8" textLength="22.4" lengthAdjust="spacingAndGlyphs">1.530</text><text x="298.57" y="239.8" textLength="22.4" lengthAdjust="spacingAndGlyphs">1.535</text><text x="348.42" y="239.8" textLength="22.4" lengthAdjust="spacingAndGlyphs">1.540</text><text x="398.27" y="239.8" textLength="22.4" lengthAdjust="spacingAndGlyphs">1.545</text><text x="33.1" y="147.2" text-anchor="end">0</text><text x="33.1" y="164.2" text-anchor="end">–10</text><text x="33.1" y="181.2" text-anchor="end">–20</text><text x="33.1" y="198.2" text-anchor="end">–30</text><text x="33.1" y="215.2" text-anchor="end">–40</text><text x="423.9" y="146.5">1</text><text x="423.9" y="164.1" textLength="9.2" lengthAdjust="spacingAndGlyphs">10</text><text x="433.2" y="161.9" font-size="7.8" textLength="9.4" lengthAdjust="spacingAndGlyphs">−1</text><text x="423.9" y="181.1" textLength="9.2" lengthAdjust="spacingAndGlyphs">10</text><text x="433.2" y="178.9" font-size="7.8" textLength="9.4" lengthAdjust="spacingAndGlyphs">−2</text><text x="423.9" y="198.1" textLength="9.2" lengthAdjust="spacingAndGlyphs">10</text><text x="433.2" y="195.9" font-size="7.8" textLength="9.4" lengthAdjust="spacingAndGlyphs">−3</text><text x="423.9" y="215.1" textLength="9.2" lengthAdjust="spacingAndGlyphs">10</text><text x="433.2" y="212.9" font-size="7.8" textLength="9.4" lengthAdjust="spacingAndGlyphs">−4</text><text x="227" y="257.5" text-anchor="middle"><tspan font-style="italic">λ</tspan> (<tspan font-style="italic">μ</tspan>m)</text><text transform="translate(8.0,184.2) rotate(-90)" text-anchor="middle" class="al">Transmission (dB)</text><text transform="translate(460.8,183.5) rotate(-90)" text-anchor="middle" class="al">Transmission</text></g>
<path d="M35.6,284.3 37.6,284.3 39.6,284.3 41.6,284.3 43.6,284.3 45.6,284.3 47.6,284.3 49.6,284.3 51.6,284.31 53.6,284.31 55.6,284.31 57.6,284.31 59.6,284.31 61.6,284.31 63.6,284.31 65.6,284.31 67.6,284.31 69.6,284.31 71.6,284.31 73.6,284.31 75.6,284.31 77.6,284.31 79.6,284.31 81.6,284.32 83.6,284.32 85.6,284.32 87.6,284.32 89.6,284.32 91.6,284.32 93.6,284.32 95.6,284.32 97.6,284.32 99.6,284.32 101.6,284.32 103.6,284.32 105.6,284.32 107.6,284.32 109.6,284.32 111.6,284.33 113.6,284.33 115.6,284.33 117.6,284.33 119.6,284.33 121.6,284.33 123.6,284.33 125.6,284.33 127.6,284.33 129.6,284.33 131.6,284.33 133.6,284.33 135.6,284.33 137.6,284.33 139.6,284.33 141.6,284.33 143.6,284.34 145.6,284.34 147.6,284.34 149.6,284.34 151.6,284.34 153.6,284.34 155.6,284.34 157.6,284.34 159.6,284.34 161.6,284.34 163.6,284.34 165.6,284.34 167.6,284.34 169.6,284.34 171.6,284.34 173.6,284.35 175.6,284.35 177.6,284.35 179.6,284.35 181.6,284.35 183.6,284.35 185.6,284.35 187.6,284.35 189.6,284.35 191.6,284.35 193.6,284.35 195.6,284.35 197.6,284.35 199.6,284.35 201.6,284.35 203.6,284.36 205.6,284.36 207.6,284.36 209.6,284.36 211.6,284.36 213.6,284.36 215.6,284.36 217.6,284.36 219.6,284.36 221.6,284.36 223.6,284.36 225.6,284.36 227.6,284.36 229.6,284.36 231.6,284.36 233.6,284.37 235.6,284.37 237.6,284.37 239.6,284.37 241.6,284.37 243.6,284.37 245.6,284.37 247.6,284.37 249.6,284.37 251.6,284.37 253.6,284.37 255.6,284.37 257.6,284.37 259.6,284.37 261.6,284.37 263.6,284.37 265.6,284.38 267.6,284.38 269.6,284.38 271.6,284.38 273.6,284.38 275.6,284.38 277.6,284.38 279.6,284.38 281.6,284.38 283.6,284.38 285.6,284.38 287.6,284.38 289.6,284.38 291.6,284.38 293.6,284.38 295.6,284.39 297.6,284.39 299.6,284.39 301.6,284.39 303.6,284.39 305.6,284.39 307.6,284.39 309.6,284.39 311.6,284.39 313.6,284.39 315.6,284.39 317.6,284.39 319.6,284.39 321.6,284.39 323.6,284.39 325.6,284.4 327.6,284.4 329.6,284.4 331.6,284.4 333.6,284.4 335.6,284.4 337.6,284.4 339.6,284.4 341.6,284.36 343.6,284.3 345.6,284.25 347.6,284.2 349.6,284.14 351.6,284.09 353.6,284.04 355.6,283.98 357.6,283.93 359.6,283.88 361.6,283.82 363.6,283.77 365.6,283.72 367.6,283.66 369.6,283.61 371.6,283.5 373.6,283.38 375.6,283.26 377.6,283.14 379.6,283.02 381.6,282.9 383.6,282.78 385.6,282.66 387.6,282.54 389.6,282.42 391.6,282.3 393.6,282.18 395.6,282.1 397.6,282.09 399.6,282.08 401.6,282.07 403.6,282.07 405.6,282.06 407.6,282.05 409.6,282.04 411.6,282.03 413.6,282.03 415.6,282.02 417.6,282.01 419.6,282 420.7,282" fill="none" stroke="#000" stroke-width="2.7"/>
<path d="M35,284.3L35.5,304.8A1.2,1.2 0 0 0 37.9,304.8L38.4,284.3ZM47.5,284.3L48.3,317.8A1.2,1.2 0 0 0 50.7,317.8L51.5,284.3ZM74,284.31L74.7,340.1A1.2,1.2 0 0 0 77.1,340.1L77.8,284.31ZM83,284.32L83.7,342.2A1.2,1.2 0 0 0 86.1,342.2L86.8,284.32ZM90.75,284.32L91.5,332.7A1.3,1.3 0 0 0 94.1,332.7L94.85,284.32ZM113.1,284.33L113.7,346.7A1.1,1.1 0 0 0 115.9,346.7L116.5,284.33ZM118.85,284.33L119.9,343.3A1.1,1.1 0 0 0 122.1,343.3L123.15,284.33ZM142.95,284.34L143.7,339.3A1.3,1.3 0 0 0 146.3,339.3L147.05,284.34ZM170.7,284.35L171.5,345A1.2,1.2 0 0 0 173.9,345L174.7,284.35ZM204.1,284.36L204.9,344.3A1.2,1.2 0 0 0 207.3,344.3L208.1,284.36ZM228,284.36L230.1,345.1A1.1,1.1 0 0 0 232.3,345.1L234.2,284.36ZM275.5,284.38L276.3,338.7A1.2,1.2 0 0 0 278.7,338.7L279.5,284.38ZM333.3,284.4L334.1,314.8A0.8,0.8 0 0 0 335.7,314.8L336.5,284.4ZM354.3,283.95L355.7,317.3A1,1 0 0 0 357.7,317.3L359.1,283.95ZM403.25,282.06L403.65,332.35A1.05,1.05 0 0 0 405.75,332.35L406.15,282.06ZM406.55,282.05L406.95,332.35A1.05,1.05 0 0 0 409.05,332.35L409.45,282.05ZM415.15,282.01L415.65,327.65A1.15,1.15 0 0 0 417.95,327.65L418.45,282.01ZM195.3,284.35L195.8,286A0.5,0.5 0 0 0 196.8,286L197.3,284.35ZM298.4,284.39L298.9,286A0.5,0.5 0 0 0 299.9,286L300.4,284.39ZM320.7,284.39L321.2,286A0.5,0.5 0 0 0 322.2,286L322.7,284.39Z" fill="#000"/>
<path d="M229.8,285.76L232.4,285.76L231.2,337Z" fill="#fff"/>
<path d="M418.6,282.01L421.6,282.01L421,331L419.2,331Z" fill="#000" fill-opacity="0.45"/>
<path d="M35.6,346.07 36.1,338.16 36.29,332.88 36.43,326.82 36.7,305.99 36.97,326.82 37.23,336.45 37.6,343.56 37.76,345.61 38.1,348.84 38.6,351.88 39.1,353.76 39.6,354.99 40.1,355.83 40.6,356.41 41.1,356.82 41.6,357.12 42.8,357.53 43.6,357.65 44.6,357.64 45.18,357.55 45.6,357.43 46.15,357.17 46.6,356.82 47.1,356.2 47.6,355.13 47.82,354.41 48.1,353.16 48.66,348.38 49.1,339.4 49.5,319.66 49.71,331.39 49.92,340 50.1,344.51 50.34,348.39 50.6,351.15 51.18,354.47 51.6,355.73 52.1,356.62 52.6,357.17 53.1,357.53 53.67,357.8 54.6,358.08 58.1,358.44 65.6,358.3 68.6,357.91 70.1,357.49 71.1,357 71.6,356.65 72.1,356.18 72.63,355.48 73.1,354.63 73.6,353.29 74.1,351.24 74.6,347.9 75.1,341.94 75.49,332.64 75.7,322.66 75.91,293.56 76,312.8 76.1,322.66 76.32,333.02 76.72,342.18 77.1,346.92 77.6,350.55 77.86,351.8 78.1,352.67 78.67,354.09 79.17,354.81 79.6,355.19 80.1,355.4 80.6,355.4 81.1,355.21 81.6,354.79 82.1,354.06 82.6,352.88 83.14,350.76 83.6,347.75 84.1,341.88 84.46,333.68 84.68,323.74 84.91,294.64 85.01,313.9 85.12,323.74 85.34,333.68 85.6,340.1 85.78,343.08 86.1,346.83 86.66,350.69 87.1,352.44 87.6,353.65 88.1,354.34 88.42,354.58 88.6,354.66 89.1,354.68 89.27,354.62 89.6,354.39 90.1,353.76 90.6,352.62 91.1,350.73 91.6,347.57 92.1,342.33 92.6,335.04 92.8,333.72 93.02,335.3 93.68,344.6 94.1,348.46 94.6,351.44 95.1,353.34 95.6,354.6 96.1,355.47 96.6,356.09 97.1,356.54 97.6,356.88 98.6,357.34 100.1,357.72 103.1,358 107.1,357.82 109.1,357.41 110.1,357.01 110.6,356.72 111.38,356.08 112.1,355.16 112.6,354.18 113.1,352.75 113.67,350.14 114.1,346.87 114.48,342.13 114.89,332.61 115.1,322.36 115.31,293.56 115.4,312.8 115.6,328.2 115.9,337.89 116.12,342.02 116.6,347.39 116.93,349.45 117.1,350.17 117.6,351.38 117.9,351.57 118.1,351.49 118.6,350.52 119.1,348.12 119.6,343.25 119.84,339.27 120.17,329.64 120.33,319.87 120.5,299 120.67,319.87 120.83,329.65 121.16,339.33 121.6,345.86 121.83,348.03 122.1,349.96 122.6,352.4 123.14,354.06 123.6,355.02 124.1,355.76 124.6,356.3 125.1,356.7 126.1,357.25 127.1,357.59 129.1,357.97 133.1,358.17 134.6,358.09 135.6,357.89 136.1,357.61 136.54,356.86 136.87,354.65 137.2,348.04 137.6,355.23 137.87,356.52 138.1,356.8 138.53,356.4 138.6,356.2 138.87,354.35 139.2,347.92 139.6,354.94 139.87,356.19 140.1,356.52 140.39,356.61 140.65,356.55 141.1,356.27 141.6,355.73 142.1,354.93 142.69,353.42 143.1,351.83 143.6,348.8 143.85,346.59 144.1,343.52 144.42,337.54 144.71,327.71 144.86,317.89 145,297 145.14,317.89 145.29,327.71 145.6,338.09 146.15,346.59 146.6,350.21 147.1,352.7 147.6,354.27 148.1,355.31 148.6,355.98 149.18,356.4 149.31,356.43 149.61,356.29 149.85,355.74 150.1,353.7 150.4,346.96 150.7,353.94 151.01,356.41 151.1,356.71 151.62,357.51 152.1,357.79 153.1,358.07 159.1,358.45 164.1,358.24 166.1,357.9 167.1,357.59 167.6,357.37 168.1,357.07 168.6,356.69 169.1,356.16 169.6,355.42 170.1,354.35 170.6,352.76 171.1,350.25 171.6,346.05 171.76,344.1 172.1,338.09 172.23,334.68 172.46,324.75 172.71,295.65 172.82,314.9 172.94,324.75 173.17,334.68 173.64,344.1 174.1,348.84 174.6,351.9 175.1,353.8 175.6,355.05 176.1,355.91 176.6,356.51 177.1,356.95 177.6,357.28 178.6,357.73 180.6,358.2 193.6,358.55 198.1,358.22 199.6,357.92 200.6,357.58 201.1,357.34 201.6,357.03 202.34,356.37 202.6,356.05 203.1,355.25 203.6,354.1 204.22,351.81 204.6,349.58 205.16,344.1 205.63,334.68 205.86,324.75 206.11,295.65 206.22,314.9 206.34,324.75 206.6,335.54 207.1,344.87 207.6,349.58 208.1,352.35 208.6,354.09 209.1,355.24 209.6,356.04 210.1,356.6 210.6,357.01 211.1,357.32 212.1,357.74 214.1,358.16 219.6,358.39 223.1,358.14 224.6,357.83 225.6,357.48 226.1,357.22 226.6,356.87 227.1,356.41 227.63,355.71 228.1,354.85 228.6,353.49 229.1,351.41 229.6,348.02 230.1,341.99 230.49,332.65 230.7,322.67 230.91,293.56 231,312.8 231.1,322.67 231.31,332.65 231.72,342.26 232.1,347.09 232.6,350.86 233.1,353.16 233.6,354.63 234.17,355.73 234.6,356.32 235.1,356.82 235.6,357.2 236.6,357.7 238.1,358.12 265.1,358.64 269.61,358.28 271.1,357.96 272.1,357.61 272.6,357.35 273.1,357.02 273.6,356.58 274.1,355.97 274.6,355.11 275.1,353.85 275.6,351.93 276.1,348.86 276.6,343.54 277.01,335.36 277.25,325.44 277.5,294.7 277.62,315.59 277.75,325.44 277.99,335.36 278.1,338.1 278.6,346.07 279.1,350.28 279.6,352.8 280.1,354.41 280.6,355.49 281.1,356.24 281.6,356.77 282.1,357.17 282.6,357.47 283.6,357.88 285.6,358.32 328.1,358.73 330.6,358.5 331.6,358.24 332.1,358.01 332.6,357.62 333.14,356.85 333.6,355.49 334.02,352.85 334.1,352.02 334.46,345.67 334.68,336.74 334.9,316.18 335.12,336.74 335.34,345.67 335.6,350.78 335.78,352.85 336.1,355.03 336.66,356.84 337.1,357.5 337.6,357.93 338.6,358.34 340.6,358.62 350.1,358.53 352.13,358.2 353.1,357.84 353.6,357.5 354.17,356.85 354.6,355.98 355.1,353.97 355.19,353.39 355.6,348.84 355.87,342.02 356.2,318.26 356.45,338.49 356.71,346.36 356.88,348.56 357.1,349.13 357.22,348.56 357.39,346.36 357.65,338.49 357.9,318.26 358.15,338.59 358.41,347.05 358.6,350.36 358.92,353.43 359.1,354.51 359.6,356.21 360.1,357.07 360.6,357.55 361.1,357.86 362.1,358.2 365.1,358.54 387.1,358.08 392.1,357.45 395.1,356.7 396.63,356.09 397.6,355.57 398.6,354.89 399.6,353.98 400.1,353.41 400.6,352.75 401.6,351 402.1,349.82 402.6,348.34 403.2,345.9 403.6,343.63 404.1,339.3 404.7,331.71 404.8,331.25 405.01,332.18 405.21,333.9 405.6,334.53 406.1,330.11 406.6,318.88 406.76,311.35 407.01,282.24 407.24,311.3 407.47,320.91 407.6,323.72 407.79,326.13 408.1,328.38 408.9,337.95 409.1,339.65 409.65,343.21 410.1,345.35 410.8,347.81 411.6,349.74 412.1,350.58 412.6,351.16 413.1,351.49 413.6,351.5 414.1,351.09 414.6,350.02 415.1,347.86 415.26,346.82 415.6,343.65 415.88,339.76 416.34,330.21 416.5,328.61 416.6,329.33 417.12,339.83 417.6,345.99 418.1,349.64 418.6,351.86 419.1,353.31 419.6,354.3 420.1,355.01 420.6,355.55" fill="none" stroke="rgb(255,0,0)" stroke-opacity="0.36" stroke-width="1"/>
<path d="M35,284.3L35.5,304.8A1.2,1.2 0 0 0 37.9,304.8L38.4,284.3ZM47.5,284.3L48.3,317.8A1.2,1.2 0 0 0 50.7,317.8L51.5,284.3ZM74,284.31L74.7,340.1A1.2,1.2 0 0 0 77.1,340.1L77.8,284.31ZM83,284.32L83.7,342.2A1.2,1.2 0 0 0 86.1,342.2L86.8,284.32ZM90.75,284.32L91.5,332.7A1.3,1.3 0 0 0 94.1,332.7L94.85,284.32ZM113.1,284.33L113.7,346.7A1.1,1.1 0 0 0 115.9,346.7L116.5,284.33ZM118.85,284.33L119.9,343.3A1.1,1.1 0 0 0 122.1,343.3L123.15,284.33ZM142.95,284.34L143.7,339.3A1.3,1.3 0 0 0 146.3,339.3L147.05,284.34ZM170.7,284.35L171.5,345A1.2,1.2 0 0 0 173.9,345L174.7,284.35ZM204.1,284.36L204.9,344.3A1.2,1.2 0 0 0 207.3,344.3L208.1,284.36ZM228,284.36L230.1,345.1A1.1,1.1 0 0 0 232.3,345.1L234.2,284.36ZM275.5,284.38L276.3,338.7A1.2,1.2 0 0 0 278.7,338.7L279.5,284.38ZM333.3,284.4L334.1,314.8A0.8,0.8 0 0 0 335.7,314.8L336.5,284.4ZM354.3,283.95L355.7,317.3A1,1 0 0 0 357.7,317.3L359.1,283.95ZM403.25,282.06L403.65,332.35A1.05,1.05 0 0 0 405.75,332.35L406.15,282.06ZM406.55,282.05L406.95,332.35A1.05,1.05 0 0 0 409.05,332.35L409.45,282.05ZM415.15,282.01L415.65,327.65A1.15,1.15 0 0 0 417.95,327.65L418.45,282.01ZM195.3,284.35L195.8,286A0.5,0.5 0 0 0 196.8,286L197.3,284.35ZM298.4,284.39L298.9,286A0.5,0.5 0 0 0 299.9,286L300.4,284.39ZM320.7,284.39L321.2,286A0.5,0.5 0 0 0 322.2,286L322.7,284.39ZM229.8,285.76L232.4,285.76L231.2,337Z" fill="#000" fill-opacity="0.3" fill-rule="evenodd"/>
<rect x="35.6" y="281.2" width="384.1" height="83.9" fill="none" stroke="#000" stroke-width="1"/>
<path d="M35.6,282.4h3M35.6,284.1h1.6M35.6,285.8h1.6M35.6,287.5h1.6M35.6,289.2h1.6M35.6,290.9h1.6M35.6,292.6h1.6M35.6,294.3h1.6M35.6,296h1.6M35.6,297.7h1.6M35.6,299.4h3M35.6,301.1h1.6M35.6,302.8h1.6M35.6,304.5h1.6M35.6,306.2h1.6M35.6,307.9h1.6M35.6,309.6h1.6M35.6,311.3h1.6M35.6,313h1.6M35.6,314.7h1.6M35.6,316.4h3M35.6,318.1h1.6M35.6,319.8h1.6M35.6,321.5h1.6M35.6,323.2h1.6M35.6,324.9h1.6M35.6,326.6h1.6M35.6,328.3h1.6M35.6,330h1.6M35.6,331.7h1.6M35.6,333.4h3M35.6,335.1h1.6M35.6,336.8h1.6M35.6,338.5h1.6M35.6,340.2h1.6M35.6,341.9h1.6M35.6,343.6h1.6M35.6,345.3h1.6M35.6,347h1.6M35.6,348.7h1.6M35.6,350.4h3M35.6,352.1h1.6M35.6,353.8h1.6M35.6,355.5h1.6M35.6,357.2h1.6M35.6,358.9h1.6M35.6,360.6h1.6M35.6,362.3h1.6M35.6,364h1.6M419.7,282.4h-2.6M419.7,299.4h-2.6M419.7,316.4h-2.6M419.7,333.4h-2.6M419.7,350.4h-2.6M35.6,365.1v-1.6M45.57,365.1v-1.6M55.54,365.1v-1.6M65.51,365.1v-1.6M75.48,365.1v-3M85.45,365.1v-1.6M95.42,365.1v-1.6M105.39,365.1v-1.6M115.36,365.1v-1.6M125.33,365.1v-3M135.3,365.1v-1.6M145.27,365.1v-1.6M155.24,365.1v-1.6M165.21,365.1v-1.6M175.18,365.1v-3M185.15,365.1v-1.6M195.12,365.1v-1.6M205.09,365.1v-1.6M215.06,365.1v-1.6M225.03,365.1v-3M235,365.1v-1.6M244.97,365.1v-1.6M254.94,365.1v-1.6M264.91,365.1v-1.6M274.88,365.1v-3M284.85,365.1v-1.6M294.82,365.1v-1.6M304.79,365.1v-1.6M314.76,365.1v-1.6M324.73,365.1v-3M334.7,365.1v-1.6M344.67,365.1v-1.6M354.64,365.1v-1.6M364.61,365.1v-1.6M374.58,365.1v-3M384.55,365.1v-1.6M394.52,365.1v-1.6M404.49,365.1v-1.6M414.46,365.1v-1.6" stroke="#000" stroke-width="1" fill="none"/>
<g><text x="64.28" y="379.3" textLength="22.4" lengthAdjust="spacingAndGlyphs">1.550</text><text x="114.13" y="379.3" textLength="22.4" lengthAdjust="spacingAndGlyphs">1.555</text><text x="163.98" y="379.3" textLength="22.4" lengthAdjust="spacingAndGlyphs">1.560</text><text x="213.83" y="379.3" textLength="22.4" lengthAdjust="spacingAndGlyphs">1.565</text><text x="263.68" y="379.3" textLength="22.4" lengthAdjust="spacingAndGlyphs">1.570</text><text x="313.53" y="379.3" textLength="22.4" lengthAdjust="spacingAndGlyphs">1.575</text><text x="363.38" y="379.3" textLength="22.4" lengthAdjust="spacingAndGlyphs">1.580</text><text x="33.1" y="286.7" text-anchor="end">0</text><text x="33.1" y="303.7" text-anchor="end">–10</text><text x="33.1" y="320.7" text-anchor="end">–20</text><text x="33.1" y="337.7" text-anchor="end">–30</text><text x="33.1" y="354.7" text-anchor="end">–40</text><text x="423.9" y="286">1</text><text x="423.9" y="303.6" textLength="9.2" lengthAdjust="spacingAndGlyphs">10</text><text x="433.2" y="301.4" font-size="7.8" textLength="9.4" lengthAdjust="spacingAndGlyphs">−1</text><text x="423.9" y="320.6" textLength="9.2" lengthAdjust="spacingAndGlyphs">10</text><text x="433.2" y="318.4" font-size="7.8" textLength="9.4" lengthAdjust="spacingAndGlyphs">−2</text><text x="423.9" y="337.6" textLength="9.2" lengthAdjust="spacingAndGlyphs">10</text><text x="433.2" y="335.4" font-size="7.8" textLength="9.4" lengthAdjust="spacingAndGlyphs">−3</text><text x="423.9" y="354.6" textLength="9.2" lengthAdjust="spacingAndGlyphs">10</text><text x="433.2" y="352.4" font-size="7.8" textLength="9.4" lengthAdjust="spacingAndGlyphs">−4</text><text x="227" y="397" text-anchor="middle"><tspan font-style="italic">λ</tspan> (<tspan font-style="italic">μ</tspan>m)</text><text transform="translate(8.0,323.7) rotate(-90)" text-anchor="middle" class="al">Transmission (dB)</text><text transform="translate(460.8,323) rotate(-90)" text-anchor="middle" class="al">Transmission</text></g>
<path d="M35.6,422.9 37.6,422.9 39.6,422.9 41.6,422.9 43.6,422.9 45.6,422.9 47.6,422.9 49.6,422.9 51.6,422.9 53.6,422.9 55.6,422.9 57.6,422.9 59.6,422.9 61.6,422.9 63.6,422.9 65.6,422.9 67.6,422.9 69.6,422.9 71.6,422.9 73.6,422.9 75.6,422.9 77.6,422.9 79.6,422.9 81.6,422.9 83.6,422.9 85.6,422.9 87.6,422.9 89.6,422.9 91.6,422.9 93.6,422.9 95.6,422.9 97.6,422.9 99.6,422.9 101.6,422.9 103.6,422.9 105.6,422.9 107.6,422.9 109.6,422.9 111.6,422.9 113.6,422.9 115.6,422.9 117.6,422.9 119.6,422.9 121.6,422.9 123.6,422.9 125.6,422.9 127.6,422.9 129.6,422.9 131.6,422.9 133.6,422.9 135.6,422.9 137.6,422.9 139.6,422.9 141.6,422.9 143.6,422.9 145.6,422.9 147.6,422.9 149.6,422.9 151.6,422.9 153.6,422.9 155.6,422.9 157.6,422.9 159.6,422.9 161.6,422.9 163.6,422.9 165.6,422.9 167.6,422.9 169.6,422.9 171.6,422.9 173.6,422.9 175.6,422.9 177.6,422.9 179.6,422.9 181.6,422.9 183.6,422.9 185.6,422.9 187.6,422.9 189.6,422.9 191.6,422.9 193.6,422.9 195.6,422.9 197.6,422.9 199.6,422.9 201.6,422.9 203.6,422.9 205.6,422.9 207.6,422.9 209.6,422.9 211.6,422.9 213.6,422.9 215.6,422.9 217.6,422.9 219.6,422.9 221.6,422.9 223.6,422.9 225.6,422.9 227.6,422.9 229.6,422.9 231.6,422.9 233.6,422.9 235.6,422.9 237.6,422.9 239.6,422.9 241.6,422.9 243.6,422.9 245.6,422.9 247.6,422.9 249.6,422.9 251.6,422.9 253.6,422.9 255.6,422.9 257.6,422.9 259.6,422.9 261.6,422.9 263.6,422.9 265.6,422.9 267.6,422.9 269.6,422.9 271.6,422.9 273.6,422.9 275.6,422.9 277.6,422.9 279.6,422.9 281.6,422.9 283.6,422.9 285.6,422.9 287.6,422.9 289.6,422.9 291.6,422.9 293.6,422.9 295.6,422.9 297.6,422.9 299.6,422.9 301.6,422.9 303.6,422.9 305.6,422.9 307.6,422.9 309.6,422.9 311.6,422.9 313.6,422.9 315.6,422.9 317.6,422.9 319.6,422.9 321.6,422.9 323.6,422.9 325.6,422.9 327.6,422.9 329.6,422.9 331.6,422.9 333.6,422.9 335.6,422.9 337.6,422.9 339.6,422.9 341.6,422.9 343.6,422.9 345.6,422.9 347.6,422.9 349.6,422.9 351.6,422.9 353.6,422.9 355.6,422.9 357.6,422.9 359.6,422.9 361.6,422.9 363.6,422.9 365.6,422.9 367.6,422.9 369.6,422.9 371.6,422.9 373.6,422.9 375.6,422.9 377.6,422.9 379.6,422.9 381.6,422.9 383.6,422.9 385.6,422.9 387.6,422.9 389.6,422.9 391.6,422.9 393.6,422.9 395.6,422.9 397.6,422.9 399.6,422.9 401.6,422.9 403.6,422.9 405.6,422.9 407.6,422.9 409.6,422.9 411.6,422.9 413.6,422.9 415.6,422.9 417.6,422.9 419.6,422.9 420.7,422.9" fill="none" stroke="#000" stroke-width="2.7"/>
<path d="M36.05,422.9L36.8,472.7A1.3,1.3 0 0 0 39.4,472.7L40.15,422.9ZM50.65,422.9L51.4,458.1A1.3,1.3 0 0 0 54,458.1L54.75,422.9ZM57.15,422.9L57.9,471.3A1.3,1.3 0 0 0 60.5,471.3L61.25,422.9ZM78.5,422.9L79.4,444.6A0.9,0.9 0 0 0 81.2,444.6L82.1,422.9ZM85.35,422.9L86.1,465.1A1.3,1.3 0 0 0 88.7,465.1L89.45,422.9ZM102.7,422.9L104.6,445.5A1.2,1.2 0 0 0 107,445.5L108.9,422.9ZM113.8,422.9L114.35,427.65A0.75,0.75 0 0 0 115.85,427.65L116.4,422.9ZM120.6,422.9L121.4,449.4A1.2,1.2 0 0 0 123.8,449.4L124.6,422.9ZM160.9,422.9L161.6,472.7A1.3,1.3 0 0 0 164.2,472.7L165.7,422.9ZM218.4,422.9L219.2,473.4A1.3,1.3 0 0 0 221.8,473.4L222.8,422.9ZM267.85,422.9L268.6,472A1.3,1.3 0 0 0 271.2,472L271.95,422.9ZM316.45,422.9L317.2,474.8A1.3,1.3 0 0 0 319.8,474.8L320.55,422.9ZM382.25,422.9L383,474.1A1.3,1.3 0 0 0 385.6,474.1L386.35,422.9ZM37.92,422.9L38.76,424.53L39.61,422.9ZM40.42,422.9L41.66,425.31L42.9,422.9ZM43.27,422.9L44.25,425.33L45.23,422.9ZM45.77,422.9L47,424.82L48.23,422.9ZM47.1,422.9L48.31,424.55L49.53,422.9ZM49.73,422.9L51.17,424.47L52.61,422.9ZM51.15,422.9L52.48,424.44L53.81,422.9ZM53.73,422.9L54.79,425.35L55.86,422.9ZM55.3,422.9L56.42,424.76L57.55,422.9ZM57.8,422.9L58.76,425.46L59.72,422.9ZM60.34,422.9L61.19,425.39L62.04,422.9ZM61.55,422.9L62.89,425.52L64.24,422.9ZM63.37,422.9L64.8,424.77L66.23,422.9ZM66.04,422.9L67.44,424.75L68.85,422.9ZM67.86,422.9L68.79,425.48L69.73,422.9ZM69.16,422.9L70.47,425.47L71.77,422.9ZM72.28,422.9L73.26,425.51L74.25,422.9ZM73.5,422.9L74.5,424.73L75.5,422.9ZM76.33,422.9L77.52,425.65L78.71,422.9ZM77.93,422.9L78.99,424.8L80.06,422.9ZM81.06,422.9L81.86,424.54L82.67,422.9ZM81.84,422.9L83.34,425.23L84.85,422.9ZM85.72,422.9L86.61,424.99L87.51,422.9ZM86.98,422.9L88.31,425.04L89.64,422.9ZM90.26,422.9L91.39,425.11L92.51,422.9ZM93.12,422.9L94.57,425.31L96.03,422.9ZM96.43,422.9L97.42,425.79L98.41,422.9ZM99.32,422.9L100.28,425.52L101.24,422.9ZM100.76,422.9L102.21,424.44L103.65,422.9ZM102.61,422.9L103.61,425.1L104.61,422.9ZM105.53,422.9L106.97,425.19L108.42,422.9ZM109.09,422.9L110.19,425.15L111.29,422.9ZM111.44,422.9L112.69,424.68L113.94,422.9ZM112.95,422.9L114.18,424.81L115.41,422.9ZM116.53,422.9L117.64,424.48L118.76,422.9ZM120,422.9L121.07,425.15L122.14,422.9ZM122.24,422.9L123.36,424.45L124.49,422.9ZM124.64,422.9L125.44,425.62L126.25,422.9ZM126.45,422.9L127.28,424.59L128.1,422.9ZM128.29,422.9L129.16,424.69L130.04,422.9ZM130.46,422.9L131.43,425.7L132.4,422.9ZM131.65,422.9L133.24,424.96L134.82,422.9ZM134.3,422.9L135.75,424.48L137.2,422.9ZM137.47,422.9L139.06,424.45L140.65,422.9ZM141.34,422.9L142.24,425.38L143.15,422.9ZM143.85,422.9L145.14,425.16L146.44,422.9ZM145.66,422.9L146.95,424.63L148.24,422.9ZM146.71,422.9L148.16,424.43L149.61,422.9ZM149.07,422.9L150.52,424.56L151.96,422.9ZM151.28,422.9L152.83,425.74L154.37,422.9ZM154.34,422.9L155.24,425.18L156.15,422.9ZM157.11,422.9L158.14,424.81L159.17,422.9ZM160.71,422.9L161.54,425.32L162.38,422.9ZM161.96,422.9L163.35,425.1L164.75,422.9ZM165.47,422.9L166.47,424.41L167.46,422.9ZM168.05,422.9L169.48,425.12L170.91,422.9ZM169.51,422.9L170.7,424.42L171.88,422.9ZM172.48,422.9L173.31,424.44L174.14,422.9ZM175.54,422.9L176.66,425.6L177.78,422.9ZM177.05,422.9L177.87,424.68L178.7,422.9ZM179.72,422.9L181.16,425.65L182.61,422.9ZM183.34,422.9L184.58,425L185.82,422.9ZM185.75,422.9L187.23,425.65L188.7,422.9ZM187.64,422.9L189.07,425.82L190.49,422.9ZM189.33,422.9L190.32,424.47L191.3,422.9ZM190.77,422.9L191.88,424.58L193,422.9ZM192.75,422.9L193.94,425.65L195.13,422.9ZM195.11,422.9L196.48,424.44L197.84,422.9ZM198.04,422.9L199.28,425.37L200.51,422.9ZM201.86,422.9L202.76,425.49L203.67,422.9ZM204.94,422.9L206.13,425.03L207.31,422.9ZM206.21,422.9L207.47,424.62L208.74,422.9ZM208.25,422.9L209.27,425.54L210.29,422.9ZM210.83,422.9L212.41,424.54L213.99,422.9ZM214.22,422.9L215.63,424.67L217.05,422.9ZM216.43,422.9L217.24,425.06L218.04,422.9ZM217.95,422.9L218.77,425.12L219.6,422.9ZM220.67,422.9L222.14,424.4L223.61,422.9ZM224.31,422.9L225.41,424.49L226.51,422.9ZM227.64,422.9L228.51,424.55L229.38,422.9ZM230.68,422.9L231.67,424.68L232.67,422.9ZM232.3,422.9L233.47,424.46L234.64,422.9ZM234.67,422.9L235.86,424.61L237.06,422.9ZM236.36,422.9L237.17,425.26L237.97,422.9ZM238.75,422.9L239.89,424.69L241.04,422.9ZM241.07,422.9L242.29,424.99L243.52,422.9ZM243.68,422.9L245.28,424.64L246.88,422.9ZM247.17,422.9L248.52,425.42L249.87,422.9ZM249.7,422.9L250.9,424.8L252.1,422.9ZM252.32,422.9L253.71,424.5L255.11,422.9ZM255.7,422.9L256.55,424.78L257.4,422.9ZM257.72,422.9L258.77,424.7L259.81,422.9ZM259.28,422.9L260.33,425.42L261.39,422.9ZM261.85,422.9L262.87,425.65L263.89,422.9ZM262.96,422.9L264.14,424.91L265.32,422.9ZM266.01,422.9L267.56,425.39L269.12,422.9ZM268.92,422.9L270.35,425.17L271.77,422.9ZM272.25,422.9L273.45,424.64L274.65,422.9ZM274.34,422.9L275.62,424.7L276.91,422.9ZM277.41,422.9L278.8,425.33L280.2,422.9ZM279.01,422.9L280.31,425.33L281.61,422.9ZM282.29,422.9L283.15,425.27L284,422.9ZM285.02,422.9L286.2,424.46L287.39,422.9ZM286.34,422.9L287.88,424.68L289.41,422.9ZM289.97,422.9L291.14,425.15L292.31,422.9ZM291.35,422.9L292.49,424.48L293.63,422.9ZM293.48,422.9L294.67,424.43L295.86,422.9ZM295.85,422.9L296.84,424.97L297.84,422.9ZM297.48,422.9L299.01,425.36L300.54,422.9ZM300.23,422.9L301.77,424.73L303.32,422.9ZM304.15,422.9L305.14,424.9L306.12,422.9ZM306.63,422.9L308.06,424.88L309.49,422.9ZM309.25,422.9L310.41,424.7L311.57,422.9ZM312.47,422.9L313.77,424.72L315.06,422.9ZM316.07,422.9L317.07,425.03L318.08,422.9ZM318.21,422.9L319.73,424.98L321.25,422.9ZM322.11,422.9L323.07,425.22L324.02,422.9ZM323.87,422.9L324.95,425.72L326.04,422.9ZM327.28,422.9L328.31,424.59L329.33,422.9ZM328.55,422.9L329.94,424.61L331.33,422.9ZM330.64,422.9L331.95,425.55L333.26,422.9ZM333.81,422.9L335.19,424.55L336.58,422.9ZM335.54,422.9L336.41,425.15L337.28,422.9ZM337.73,422.9L339.1,424.68L340.47,422.9ZM340.8,422.9L341.91,425.67L343.02,422.9ZM343.3,422.9L344.79,425.56L346.29,422.9ZM345.68,422.9L347.14,425.2L348.59,422.9ZM347.73,422.9L349.31,424.88L350.89,422.9ZM351.79,422.9L352.66,424.41L353.52,422.9ZM353.47,422.9L354.58,424.69L355.69,422.9ZM354.69,422.9L355.8,424.45L356.91,422.9ZM356.22,422.9L357.47,424.84L358.73,422.9ZM357.81,422.9L359,424.64L360.18,422.9ZM361.03,422.9L362.37,425.27L363.71,422.9ZM362.92,422.9L363.97,424.8L365.03,422.9ZM365.35,422.9L366.7,425.14L368.04,422.9ZM367.26,422.9L368.3,424.48L369.34,422.9ZM368.64,422.9L369.56,425.37L370.48,422.9ZM369.83,422.9L371.02,425.73L372.22,422.9ZM372.76,422.9L374.3,425.02L375.85,422.9ZM375.05,422.9L376.59,424.54L378.13,422.9ZM377.05,422.9L377.91,424.89L378.77,422.9ZM379.78,422.9L381.02,424.7L382.26,422.9ZM383.34,422.9L384.23,425.48L385.13,422.9ZM386.29,422.9L387.26,424.64L388.22,422.9ZM388.09,422.9L389.52,424.73L390.96,422.9ZM389.95,422.9L391.34,424.6L392.73,422.9ZM392.55,422.9L393.42,424.45L394.28,422.9ZM394.03,422.9L395.06,424.55L396.1,422.9ZM395.66,422.9L396.95,424.65L398.24,422.9ZM398.55,422.9L399.58,425.52L400.61,422.9ZM402.07,422.9L402.95,424.48L403.82,422.9ZM403.31,422.9L404.53,424.46L405.74,422.9ZM405.06,422.9L405.96,424.89L406.86,422.9ZM407.71,422.9L409.01,425.19L410.32,422.9ZM411.07,422.9L411.96,424.93L412.86,422.9ZM411.91,422.9L413.26,424.64L414.61,422.9ZM415.44,422.9L416.65,425.73L417.87,422.9ZM417.49,422.9L418.48,425.81L419.47,422.9ZM420.2,422.9L421.01,424.41L421.83,422.9Z" fill="#000"/>
<path d="M104.5,424.3L107.1,424.3L105.8,439.5ZM162,424.3L164.6,424.3L162.9,428ZM219.7,424.3L221.5,424.3L220.5,426Z" fill="#fff"/>
<path d="M35.6,490.39 36.22,487.43 36.6,484.81 37.16,478.7 37.63,468.92 37.87,458.88 38.11,429.76 38.22,449.01 38.33,458.88 38.6,469.84 39.1,479.55 39.6,484.77 40.1,488.05 40.6,490.24 41.1,491.77 41.6,492.86 42.1,493.64 42.6,494.2 43.1,494.61 43.6,494.9 44.1,495.09 45.1,495.25 45.61,495.23 46.1,495.15 46.6,495 47.1,494.78 47.6,494.47 48.17,493.97 48.78,493.24 49.1,492.73 49.6,491.71 50.1,490.31 50.74,487.63 51.1,485.42 51.6,480.96 52.1,473.42 52.6,460.48 52.7,459.35 52.82,460.98 53.19,471.02 53.69,479.52 54.1,483.63 54.66,486.99 55.1,488.51 55.6,489.38 56.1,489.52 56.44,489.2 56.62,488.89 57.14,487.34 57.6,484.93 57.82,483.27 58.1,480.52 58.6,472.32 58.86,464.42 59.03,454.59 59.2,433.7 59.37,454.59 59.6,466.56 59.89,474.29 60.1,477.98 60.6,483.71 61.1,487.25 61.6,489.63 62.1,491.29 62.6,492.51 63.1,493.42 63.6,494.11 64.1,494.65 64.71,495.17 65.6,495.71 66.6,496.13 68.6,496.63 72.6,496.95 75.1,496.83 76.12,496.66 77.1,496.35 77.6,496.07 78.21,495.5 78.6,494.87 79.1,493.32 79.26,492.49 79.6,489.35 79.84,485.06 80.1,474.18 80.3,447.59 80.43,468.35 80.6,479.61 80.82,486.29 81.1,490.26 81.34,492.04 81.6,493.07 82.1,493.92 82.39,494.05 82.6,494.04 83.1,493.79 83.62,493.21 84.1,492.38 84.6,491.15 85.1,489.37 85.6,486.79 86.1,482.89 86.45,478.73 86.6,476.47 86.93,469.26 87.16,460.34 87.4,448.49 87.64,460.34 87.87,469.26 88.1,474.64 88.35,478.73 88.66,482.48 89.1,486.18 89.6,489.01 90.1,490.97 90.6,492.38 91.18,493.56 91.6,494.2 92.1,494.8 92.6,495.27 93.1,495.64 94.1,496.18 95.6,496.68 98.6,497.16 101.67,497.25 102.6,497.16 103.1,497.02 103.6,496.75 103.87,496.47 104.1,496.06 104.33,495.36 104.6,493.68 104.87,489.08 105.03,481.04 105.21,452.73 105.28,471.77 105.37,481.01 105.6,490.56 105.67,491.72 105.87,493.61 106.1,494.2 106.33,493.61 106.53,491.73 106.67,488.95 106.83,481.02 107.01,452.72 107.17,481.04 107.33,489.08 107.67,494.26 107.87,495.38 108.1,496.1 108.33,496.51 108.6,496.79 109.1,497.08 109.67,497.23 111.1,497.34 112.33,497.24 113.1,496.98 113.6,496.53 113.88,495.98 114.1,495.18 114.39,492.73 114.65,486.28 114.77,477.69 114.92,458.91 115.15,486.27 115.44,493.14 115.6,494.54 115.92,495.87 116.1,496.24 116.6,496.7 117.1,496.84 117.66,496.82 118.6,496.55 119.1,496.24 119.6,495.76 120.1,494.96 120.39,494.27 120.6,493.57 121.1,490.93 121.34,488.76 121.6,485.26 121.82,480.47 122.1,468.71 122.3,450.39 122.6,474.18 122.78,480.47 123.1,486.82 123.26,488.77 123.6,491.63 124.1,493.94 124.6,495.19 125.1,495.93 125.6,496.4 126.13,496.72 127.1,497.08 129.1,497.4 149.1,497.32 153.6,496.79 155.32,496.28 156.1,495.81 156.36,495.53 156.6,495.12 156.88,494.07 157.1,491.54 157.27,484.13 157.42,466.49 157.53,484.08 157.66,490.37 157.92,493.45 158.1,493.92 158.22,494.02 158.44,494.01 158.6,493.91 159.1,493.31 159.6,492.37 160.1,491.06 160.6,489.22 161.1,486.57 161.6,482.6 162.1,476.06 162.31,471.65 162.61,461.66 162.75,451.8 162.9,430.9 163.1,456.2 163.19,461.66 163.49,471.65 163.6,474.19 164.1,481.57 164.6,485.91 165.24,489.41 165.71,491.11 166.1,492.19 166.6,493.23 167.1,494.03 167.6,494.63 168.1,495.11 168.6,495.48 169.6,496.03 171.1,496.53 174.6,497.08 203.1,497.23 205.1,496.98 205.6,496.75 205.83,496.52 206.1,495.98 206.32,494.89 206.56,490.81 206.8,473.68 206.92,484.42 207.1,492.38 207.28,494.84 207.6,496.14 207.77,496.4 208.1,496.64 208.87,496.77 210.1,496.68 211.18,496.48 211.6,496.35 212.1,496.11 212.42,495.85 212.6,495.61 212.92,494.7 213.1,493.34 213.21,491.5 213.36,485.34 213.5,466.27 213.64,485.31 213.79,491.38 214.1,494.4 214.54,495 214.66,495.02 215.1,494.88 215.82,494.33 216.6,493.33 217.1,492.41 217.6,491.16 218.13,489.29 218.6,486.97 219.1,483.33 219.6,477.47 220,469.3 220.25,459.28 220.5,428.5 220.63,449.4 220.75,459.28 221.1,471.78 221.6,480.19 222.1,484.97 222.6,488.06 223.1,490.19 223.6,491.7 224.1,492.81 224.6,493.64 225.1,494.27 225.6,494.76 226.1,495.15 227.1,495.69 228.1,496.03 229.1,496.17 229.6,496.1 229.89,495.93 230.1,495.64 230.4,494.54 230.6,491.94 230.77,483.77 230.92,465.84 231.03,483.77 231.15,490.64 231.4,494.42 231.6,495.16 231.91,495.16 232.1,494.44 232.35,490.69 232.47,483.79 232.62,465.84 232.73,483.8 232.92,492.46 233.1,494.75 233.61,496.29 234.1,496.65 235.1,496.89 243.6,497.07 244.6,496.99 245.1,496.88 245.6,496.61 245.86,496.26 246.14,495.3 246.28,494.18 246.49,489.21 246.71,463.07 246.8,481.47 246.91,489.2 247.12,494.14 247.54,496.15 247.82,496.44 248.1,496.51 248.38,496.44 248.66,496.13 249.1,493.9 249.29,489.18 249.51,463.07 249.6,481.47 249.73,490.07 249.92,494.15 250.1,495.49 250.34,496.21 250.6,496.55 251.18,496.83 253.6,496.95 259.1,496.58 261.1,496.2 262.1,495.79 262.6,495.35 262.73,495.15 263.1,493.9 263.17,493.41 263.38,489.77 263.6,481.23 263.82,489.66 264.03,493.07 264.16,493.75 264.47,494.29 264.6,494.34 265.1,494.14 265.6,493.65 266.1,492.94 266.6,491.97 267.1,490.65 267.6,488.81 268.1,486.16 268.6,482.2 269.18,474.14 269.36,470.23 269.6,461.67 269.81,445.38 269.9,433.5 270.1,455.91 270.26,464.23 270.62,474.14 271.1,481.16 271.6,485.5 272.1,488.36 272.77,490.87 273.1,491.75 273.6,492.8 274.1,493.58 274.6,494.19 275.1,494.66 275.64,495.05 276.6,495.57 278.1,496.07 282.1,496.64 300.1,496.63 305.6,496.07 308.1,495.55 309.6,495.04 310.6,494.57 311.6,493.93 312.6,493.05 313.12,492.45 313.6,491.77 314.1,490.92 314.85,489.25 315.6,486.86 316.1,484.68 316.6,481.76 317.15,477.16 317.6,471.51 317.83,467.34 318.16,457.29 318.33,447.41 318.5,426.5 318.67,447.41 318.84,457.29 319.17,467.33 319.6,474.35 320.1,479.5 320.6,483.03 321.19,486 321.6,487.55 322.1,489.07 322.6,490.26 323.1,491.22 324.1,492.61 324.6,493.13 325.6,493.9 326.1,494.18 326.6,494.38 327.1,494.46 327.6,494.22 327.67,494.11 328.04,492.46 328.4,486.69 328.76,492.6 329.14,494.49 329.27,494.74 329.6,495.11 330.1,495.37 331.6,495.66 332.1,495.67 332.71,495.52 333.1,495.12 333.3,494.56 333.6,491.98 333.9,484.71 334.21,492.17 334.5,494.64 334.6,495 335.1,495.72 335.6,495.94 369.6,495.86 375.1,495.24 376.6,494.85 377.6,494.46 378.6,493.9 379.21,493.42 379.6,493.03 380.1,492.42 380.6,491.62 381.1,490.56 381.75,488.59 382.34,485.91 382.66,483.89 383.1,479.93 383.28,477.78 383.66,471.21 383.98,461.25 384.14,451.4 384.3,430.5 384.46,451.4 384.62,461.25 384.94,471.21 385.1,474.42 385.6,480.96 386.1,484.93 386.63,487.72 387.1,489.41 387.6,490.74 388.1,491.72 388.6,492.46 389.6,493.47 390.6,494.09 391.6,494.5 393.1,494.86 395.1,495.07 395.81,495.03 396.1,494.97 396.6,494.68 396.73,494.52 397.1,493.21 397.38,488.42 397.6,470.92 397.82,488.42 398.1,493.22 398.5,494.56 398.6,494.69 399.1,494.95 399.6,494.93 400.1,494.58 400.55,492.82 400.78,488.43 401,470.92 401.22,488.44 401.45,492.83 401.6,493.83 401.9,494.63 402.1,494.86 402.6,495.11 404.1,495.25 407.6,495.06 408.6,494.9 409.1,494.76 409.6,494.5 409.93,494.12 410.1,493.74 410.36,492.39 410.6,487.99 410.8,479.92 411.1,490.48 411.24,492.25 411.6,493.66 411.97,493.94 412.1,493.96 412.6,493.84 412.98,493.53 413.1,493.37 413.49,492.17 413.6,491.35 413.75,489.2 414,481.5 414.32,490.13 414.51,491.71 414.6,492.04 415.02,492.44 415.37,492.28 415.6,492.08 416.1,491.47 416.6,490.6 417.1,489.42 417.65,487.63 418.1,485.58 418.6,482.44 419.1,477.99 419.71,471.17 420,469.58 420.1,469.78 420.29,471.17 420.6,474.62" fill="none" stroke="rgb(255,0,0)" stroke-opacity="0.36" stroke-width="1"/>
<path d="M36.05,422.9L36.8,472.7A1.3,1.3 0 0 0 39.4,472.7L40.15,422.9ZM50.65,422.9L51.4,458.1A1.3,1.3 0 0 0 54,458.1L54.75,422.9ZM57.15,422.9L57.9,471.3A1.3,1.3 0 0 0 60.5,471.3L61.25,422.9ZM78.5,422.9L79.4,444.6A0.9,0.9 0 0 0 81.2,444.6L82.1,422.9ZM85.35,422.9L86.1,465.1A1.3,1.3 0 0 0 88.7,465.1L89.45,422.9ZM102.7,422.9L104.6,445.5A1.2,1.2 0 0 0 107,445.5L108.9,422.9ZM113.8,422.9L114.35,427.65A0.75,0.75 0 0 0 115.85,427.65L116.4,422.9ZM120.6,422.9L121.4,449.4A1.2,1.2 0 0 0 123.8,449.4L124.6,422.9ZM160.9,422.9L161.6,472.7A1.3,1.3 0 0 0 164.2,472.7L165.7,422.9ZM218.4,422.9L219.2,473.4A1.3,1.3 0 0 0 221.8,473.4L222.8,422.9ZM267.85,422.9L268.6,472A1.3,1.3 0 0 0 271.2,472L271.95,422.9ZM316.45,422.9L317.2,474.8A1.3,1.3 0 0 0 319.8,474.8L320.55,422.9ZM382.25,422.9L383,474.1A1.3,1.3 0 0 0 385.6,474.1L386.35,422.9ZM37.92,422.9L38.76,424.53L39.61,422.9ZM40.42,422.9L41.66,425.31L42.9,422.9ZM43.27,422.9L44.25,425.33L45.23,422.9ZM45.77,422.9L47,424.82L48.23,422.9ZM47.1,422.9L48.31,424.55L49.53,422.9ZM49.73,422.9L51.17,424.47L52.61,422.9ZM51.15,422.9L52.48,424.44L53.81,422.9ZM53.73,422.9L54.79,425.35L55.86,422.9ZM55.3,422.9L56.42,424.76L57.55,422.9ZM57.8,422.9L58.76,425.46L59.72,422.9ZM60.34,422.9L61.19,425.39L62.04,422.9ZM61.55,422.9L62.89,425.52L64.24,422.9ZM63.37,422.9L64.8,424.77L66.23,422.9ZM66.04,422.9L67.44,424.75L68.85,422.9ZM67.86,422.9L68.79,425.48L69.73,422.9ZM69.16,422.9L70.47,425.47L71.77,422.9ZM72.28,422.9L73.26,425.51L74.25,422.9ZM73.5,422.9L74.5,424.73L75.5,422.9ZM76.33,422.9L77.52,425.65L78.71,422.9ZM77.93,422.9L78.99,424.8L80.06,422.9ZM81.06,422.9L81.86,424.54L82.67,422.9ZM81.84,422.9L83.34,425.23L84.85,422.9ZM85.72,422.9L86.61,424.99L87.51,422.9ZM86.98,422.9L88.31,425.04L89.64,422.9ZM90.26,422.9L91.39,425.11L92.51,422.9ZM93.12,422.9L94.57,425.31L96.03,422.9ZM96.43,422.9L97.42,425.79L98.41,422.9ZM99.32,422.9L100.28,425.52L101.24,422.9ZM100.76,422.9L102.21,424.44L103.65,422.9ZM102.61,422.9L103.61,425.1L104.61,422.9ZM105.53,422.9L106.97,425.19L108.42,422.9ZM109.09,422.9L110.19,425.15L111.29,422.9ZM111.44,422.9L112.69,424.68L113.94,422.9ZM112.95,422.9L114.18,424.81L115.41,422.9ZM116.53,422.9L117.64,424.48L118.76,422.9ZM120,422.9L121.07,425.15L122.14,422.9ZM122.24,422.9L123.36,424.45L124.49,422.9ZM124.64,422.9L125.44,425.62L126.25,422.9ZM126.45,422.9L127.28,424.59L128.1,422.9ZM128.29,422.9L129.16,424.69L130.04,422.9ZM130.46,422.9L131.43,425.7L132.4,422.9ZM131.65,422.9L133.24,424.96L134.82,422.9ZM134.3,422.9L135.75,424.48L137.2,422.9ZM137.47,422.9L139.06,424.45L140.65,422.9ZM141.34,422.9L142.24,425.38L143.15,422.9ZM143.85,422.9L145.14,425.16L146.44,422.9ZM145.66,422.9L146.95,424.63L148.24,422.9ZM146.71,422.9L148.16,424.43L149.61,422.9ZM149.07,422.9L150.52,424.56L151.96,422.9ZM151.28,422.9L152.83,425.74L154.37,422.9ZM154.34,422.9L155.24,425.18L156.15,422.9ZM157.11,422.9L158.14,424.81L159.17,422.9ZM160.71,422.9L161.54,425.32L162.38,422.9ZM161.96,422.9L163.35,425.1L164.75,422.9ZM165.47,422.9L166.47,424.41L167.46,422.9ZM168.05,422.9L169.48,425.12L170.91,422.9ZM169.51,422.9L170.7,424.42L171.88,422.9ZM172.48,422.9L173.31,424.44L174.14,422.9ZM175.54,422.9L176.66,425.6L177.78,422.9ZM177.05,422.9L177.87,424.68L178.7,422.9ZM179.72,422.9L181.16,425.65L182.61,422.9ZM183.34,422.9L184.58,425L185.82,422.9ZM185.75,422.9L187.23,425.65L188.7,422.9ZM187.64,422.9L189.07,425.82L190.49,422.9ZM189.33,422.9L190.32,424.47L191.3,422.9ZM190.77,422.9L191.88,424.58L193,422.9ZM192.75,422.9L193.94,425.65L195.13,422.9ZM195.11,422.9L196.48,424.44L197.84,422.9ZM198.04,422.9L199.28,425.37L200.51,422.9ZM201.86,422.9L202.76,425.49L203.67,422.9ZM204.94,422.9L206.13,425.03L207.31,422.9ZM206.21,422.9L207.47,424.62L208.74,422.9ZM208.25,422.9L209.27,425.54L210.29,422.9ZM210.83,422.9L212.41,424.54L213.99,422.9ZM214.22,422.9L215.63,424.67L217.05,422.9ZM216.43,422.9L217.24,425.06L218.04,422.9ZM217.95,422.9L218.77,425.12L219.6,422.9ZM220.67,422.9L222.14,424.4L223.61,422.9ZM224.31,422.9L225.41,424.49L226.51,422.9ZM227.64,422.9L228.51,424.55L229.38,422.9ZM230.68,422.9L231.67,424.68L232.67,422.9ZM232.3,422.9L233.47,424.46L234.64,422.9ZM234.67,422.9L235.86,424.61L237.06,422.9ZM236.36,422.9L237.17,425.26L237.97,422.9ZM238.75,422.9L239.89,424.69L241.04,422.9ZM241.07,422.9L242.29,424.99L243.52,422.9ZM243.68,422.9L245.28,424.64L246.88,422.9ZM247.17,422.9L248.52,425.42L249.87,422.9ZM249.7,422.9L250.9,424.8L252.1,422.9ZM252.32,422.9L253.71,424.5L255.11,422.9ZM255.7,422.9L256.55,424.78L257.4,422.9ZM257.72,422.9L258.77,424.7L259.81,422.9ZM259.28,422.9L260.33,425.42L261.39,422.9ZM261.85,422.9L262.87,425.65L263.89,422.9ZM262.96,422.9L264.14,424.91L265.32,422.9ZM266.01,422.9L267.56,425.39L269.12,422.9ZM268.92,422.9L270.35,425.17L271.77,422.9ZM272.25,422.9L273.45,424.64L274.65,422.9ZM274.34,422.9L275.62,424.7L276.91,422.9ZM277.41,422.9L278.8,425.33L280.2,422.9ZM279.01,422.9L280.31,425.33L281.61,422.9ZM282.29,422.9L283.15,425.27L284,422.9ZM285.02,422.9L286.2,424.46L287.39,422.9ZM286.34,422.9L287.88,424.68L289.41,422.9ZM289.97,422.9L291.14,425.15L292.31,422.9ZM291.35,422.9L292.49,424.48L293.63,422.9ZM293.48,422.9L294.67,424.43L295.86,422.9ZM295.85,422.9L296.84,424.97L297.84,422.9ZM297.48,422.9L299.01,425.36L300.54,422.9ZM300.23,422.9L301.77,424.73L303.32,422.9ZM304.15,422.9L305.14,424.9L306.12,422.9ZM306.63,422.9L308.06,424.88L309.49,422.9ZM309.25,422.9L310.41,424.7L311.57,422.9ZM312.47,422.9L313.77,424.72L315.06,422.9ZM316.07,422.9L317.07,425.03L318.08,422.9ZM318.21,422.9L319.73,424.98L321.25,422.9ZM322.11,422.9L323.07,425.22L324.02,422.9ZM323.87,422.9L324.95,425.72L326.04,422.9ZM327.28,422.9L328.31,424.59L329.33,422.9ZM328.55,422.9L329.94,424.61L331.33,422.9ZM330.64,422.9L331.95,425.55L333.26,422.9ZM333.81,422.9L335.19,424.55L336.58,422.9ZM335.54,422.9L336.41,425.15L337.28,422.9ZM337.73,422.9L339.1,424.68L340.47,422.9ZM340.8,422.9L341.91,425.67L343.02,422.9ZM343.3,422.9L344.79,425.56L346.29,422.9ZM345.68,422.9L347.14,425.2L348.59,422.9ZM347.73,422.9L349.31,424.88L350.89,422.9ZM351.79,422.9L352.66,424.41L353.52,422.9ZM353.47,422.9L354.58,424.69L355.69,422.9ZM354.69,422.9L355.8,424.45L356.91,422.9ZM356.22,422.9L357.47,424.84L358.73,422.9ZM357.81,422.9L359,424.64L360.18,422.9ZM361.03,422.9L362.37,425.27L363.71,422.9ZM362.92,422.9L363.97,424.8L365.03,422.9ZM365.35,422.9L366.7,425.14L368.04,422.9ZM367.26,422.9L368.3,424.48L369.34,422.9ZM368.64,422.9L369.56,425.37L370.48,422.9ZM369.83,422.9L371.02,425.73L372.22,422.9ZM372.76,422.9L374.3,425.02L375.85,422.9ZM375.05,422.9L376.59,424.54L378.13,422.9ZM377.05,422.9L377.91,424.89L378.77,422.9ZM379.78,422.9L381.02,424.7L382.26,422.9ZM383.34,422.9L384.23,425.48L385.13,422.9ZM386.29,422.9L387.26,424.64L388.22,422.9ZM388.09,422.9L389.52,424.73L390.96,422.9ZM389.95,422.9L391.34,424.6L392.73,422.9ZM392.55,422.9L393.42,424.45L394.28,422.9ZM394.03,422.9L395.06,424.55L396.1,422.9ZM395.66,422.9L396.95,424.65L398.24,422.9ZM398.55,422.9L399.58,425.52L400.61,422.9ZM402.07,422.9L402.95,424.48L403.82,422.9ZM403.31,422.9L404.53,424.46L405.74,422.9ZM405.06,422.9L405.96,424.89L406.86,422.9ZM407.71,422.9L409.01,425.19L410.32,422.9ZM411.07,422.9L411.96,424.93L412.86,422.9ZM411.91,422.9L413.26,424.64L414.61,422.9ZM415.44,422.9L416.65,425.73L417.87,422.9ZM417.49,422.9L418.48,425.81L419.47,422.9ZM420.2,422.9L421.01,424.41L421.83,422.9ZM104.5,424.3L107.1,424.3L105.8,439.5ZM162,424.3L164.6,424.3L162.9,428ZM219.7,424.3L221.5,424.3L220.5,426Z" fill="#000" fill-opacity="0.3" fill-rule="evenodd"/>
<rect x="35.6" y="420.7" width="384.1" height="83.9" fill="none" stroke="#000" stroke-width="1"/>
<path d="M35.6,421.9h3M35.6,423.6h1.6M35.6,425.3h1.6M35.6,427h1.6M35.6,428.7h1.6M35.6,430.4h1.6M35.6,432.1h1.6M35.6,433.8h1.6M35.6,435.5h1.6M35.6,437.2h1.6M35.6,438.9h3M35.6,440.6h1.6M35.6,442.3h1.6M35.6,444h1.6M35.6,445.7h1.6M35.6,447.4h1.6M35.6,449.1h1.6M35.6,450.8h1.6M35.6,452.5h1.6M35.6,454.2h1.6M35.6,455.9h3M35.6,457.6h1.6M35.6,459.3h1.6M35.6,461h1.6M35.6,462.7h1.6M35.6,464.4h1.6M35.6,466.1h1.6M35.6,467.8h1.6M35.6,469.5h1.6M35.6,471.2h1.6M35.6,472.9h3M35.6,474.6h1.6M35.6,476.3h1.6M35.6,478h1.6M35.6,479.7h1.6M35.6,481.4h1.6M35.6,483.1h1.6M35.6,484.8h1.6M35.6,486.5h1.6M35.6,488.2h1.6M35.6,489.9h3M35.6,491.6h1.6M35.6,493.3h1.6M35.6,495h1.6M35.6,496.7h1.6M35.6,498.4h1.6M35.6,500.1h1.6M35.6,501.8h1.6M35.6,503.5h1.6M419.7,421.9h-2.6M419.7,438.9h-2.6M419.7,455.9h-2.6M419.7,472.9h-2.6M419.7,489.9h-2.6M40.58,504.6v-3M50.56,504.6v-1.6M60.52,504.6v-1.6M70.5,504.6v-1.6M80.46,504.6v-1.6M90.44,504.6v-3M100.4,504.6v-1.6M110.38,504.6v-1.6M120.34,504.6v-1.6M130.32,504.6v-1.6M140.28,504.6v-3M150.26,504.6v-1.6M160.22,504.6v-1.6M170.2,504.6v-1.6M180.16,504.6v-1.6M190.14,504.6v-3M200.1,504.6v-1.6M210.08,504.6v-1.6M220.04,504.6v-1.6M230.02,504.6v-1.6M239.98,504.6v-3M249.96,504.6v-1.6M259.92,504.6v-1.6M269.9,504.6v-1.6M279.86,504.6v-1.6M289.84,504.6v-3M299.8,504.6v-1.6M309.78,504.6v-1.6M319.74,504.6v-1.6M329.72,504.6v-1.6M339.68,504.6v-3M349.66,504.6v-1.6M359.62,504.6v-1.6M369.6,504.6v-1.6M379.56,504.6v-1.6M389.54,504.6v-3M399.5,504.6v-1.6M409.48,504.6v-1.6M419.44,504.6v-1.6" stroke="#000" stroke-width="1" fill="none"/>
<g><text x="29.38" y="518.8" textLength="22.4" lengthAdjust="spacingAndGlyphs">1.585</text><text x="79.24" y="518.8" textLength="22.4" lengthAdjust="spacingAndGlyphs">1.590</text><text x="129.08" y="518.8" textLength="22.4" lengthAdjust="spacingAndGlyphs">1.595</text><text x="178.94" y="518.8" textLength="22.4" lengthAdjust="spacingAndGlyphs">1.600</text><text x="228.78" y="518.8" textLength="22.4" lengthAdjust="spacingAndGlyphs">1.605</text><text x="278.64" y="518.8" textLength="22.4" lengthAdjust="spacingAndGlyphs">1.610</text><text x="328.48" y="518.8" textLength="22.4" lengthAdjust="spacingAndGlyphs">1.615</text><text x="378.34" y="518.8" textLength="22.4" lengthAdjust="spacingAndGlyphs">1.620</text><text x="33.1" y="426.2" text-anchor="end">0</text><text x="33.1" y="443.2" text-anchor="end">–10</text><text x="33.1" y="460.2" text-anchor="end">–20</text><text x="33.1" y="477.2" text-anchor="end">–30</text><text x="33.1" y="494.2" text-anchor="end">–40</text><text x="423.9" y="425.5">1</text><text x="423.9" y="443.1" textLength="9.2" lengthAdjust="spacingAndGlyphs">10</text><text x="433.2" y="440.9" font-size="7.8" textLength="9.4" lengthAdjust="spacingAndGlyphs">−1</text><text x="423.9" y="460.1" textLength="9.2" lengthAdjust="spacingAndGlyphs">10</text><text x="433.2" y="457.9" font-size="7.8" textLength="9.4" lengthAdjust="spacingAndGlyphs">−2</text><text x="423.9" y="477.1" textLength="9.2" lengthAdjust="spacingAndGlyphs">10</text><text x="433.2" y="474.9" font-size="7.8" textLength="9.4" lengthAdjust="spacingAndGlyphs">−3</text><text x="423.9" y="494.1" textLength="9.2" lengthAdjust="spacingAndGlyphs">10</text><text x="433.2" y="491.9" font-size="7.8" textLength="9.4" lengthAdjust="spacingAndGlyphs">−4</text><text x="227" y="536.5" text-anchor="middle"><tspan font-style="italic">λ</tspan> (<tspan font-style="italic">μ</tspan>m)</text><text transform="translate(8.0,463.2) rotate(-90)" text-anchor="middle" class="al">Transmission (dB)</text><text transform="translate(460.8,462.5) rotate(-90)" text-anchor="middle" class="al">Transmission</text></g>
<path d="M35.6,562.1 37.6,562.1 39.6,562.1 41.6,562.1 43.6,562.1 45.6,562.1 47.6,562.1 49.6,562.1 51.6,562.1 53.6,562.1 55.6,562.1 57.6,562.1 59.6,562.1 61.6,562.1 63.6,562.1 65.6,562.1 67.6,562.1 69.6,562.1 71.6,562.1 73.6,562.1 75.6,562.1 77.6,562.1 79.6,562.1 81.6,562.1 83.6,562.1 85.6,562.1 87.6,562.1 89.6,562.1 91.6,562.1 93.6,562.1 95.6,562.1 97.6,562.1 99.6,562.1 101.6,562.1 103.6,562.1 105.6,562.1 107.6,562.1 109.6,562.1 111.6,562.1 113.6,562.1 115.6,562.1 117.6,562.1 119.6,562.1 121.6,562.1 123.6,562.1 125.6,562.1 127.6,562.1 129.6,562.1 131.6,562.1 133.6,562.1 135.6,562.1 137.6,562.1 139.6,562.1 141.6,562.1 143.6,562.1 145.6,562.1 147.6,562.1 149.6,562.1 151.6,562.1 153.6,562.1 155.6,562.1 157.6,562.1 159.6,562.1 161.6,562.1 163.6,562.1 165.6,562.1 167.6,562.1 169.6,562.1 171.6,562.1 173.6,562.1 175.6,562.1 177.6,562.1 179.6,562.1 181.6,562.1 183.6,562.1 185.6,562.1 187.6,562.1 189.6,562.1 191.6,562.1 193.6,562.1 195.6,562.1 197.6,562.1 199.6,562.1 201.6,562.1 203.6,562.1 205.6,562.1 207.6,562.1 209.6,562.1 211.6,562.1 213.6,562.1 215.6,562.1 217.6,562.1 219.6,562.1 221.6,562.1 223.6,562.1 225.6,562.1 227.6,562.1 229.6,562.1 231.6,562.1 233.6,562.1 235.6,562.1 237.6,562.1 239.6,562.1 241.6,562.1 243.6,562.1 245.6,562.1 247.6,562.1 249.6,562.1 251.6,562.1 253.6,562.1 255.6,562.1 257.6,562.1 259.6,562.1 261.6,562.1 263.6,562.1 265.6,562.1 267.6,562.1 269.6,562.1 271.6,562.1 273.6,562.1 275.6,562.1 277.6,562.1 279.6,562.1 281.6,562.1 283.6,562.1 285.6,562.1 287.6,562.1 289.6,562.1 291.6,562.1 293.6,562.1 295.6,562.1 297.6,562.1 299.6,562.1 301.6,562.1 303.6,562.1 305.6,562.1 307.6,562.1 309.6,562.1 311.6,562.1 313.6,562.1 315.6,562.1 317.6,562.1 319.6,562.1 321.6,562.1 323.6,562.1 325.6,562.1 327.6,562.1 329.6,562.1 331.6,562.1 333.6,562.1 335.6,562.1 337.6,562.1 339.6,562.1 341.6,562.1 343.6,562.1 345.6,562.1 347.6,562.1 349.6,562.1 351.6,562.1 353.6,562.1 355.6,562.1 357.6,562.1 359.6,562.1 361.6,562.1 363.6,562.1 365.6,562.1 367.6,562.1 369.6,562.1 371.6,562.1 373.6,562.1 375.6,562.1 377.6,562.1 379.6,562.1 381.6,562.1 383.6,562.1 385.6,562.1 387.6,562.1 389.6,562.1 391.6,562.1 393.6,562.1 395.6,562.1 397.6,562.1 399.6,562.1 401.6,562.1 403.6,562.1 405.6,562.1 407.6,562.1 409.6,562.1 411.6,562.1 413.6,562.1 415.6,562.1 417.6,562.1 419.6,562.1 420.7,562.1" fill="none" stroke="#000" stroke-width="2.7"/>
<path d="M38.35,562.1L39.1,614.5A1.3,1.3 0 0 0 41.7,614.5L42.45,562.1ZM73.8,562.1L74.7,581.5A0.9,0.9 0 0 0 76.5,581.5L77.4,562.1ZM82.9,562.1L83.8,575.3A0.9,0.9 0 0 0 85.6,575.3L86.5,562.1ZM105.3,562.1L106.1,597.2A1.2,1.2 0 0 0 108.5,597.2L109.3,562.1ZM117.9,562.1L121.1,613.2A1.2,1.2 0 0 0 123.5,613.2L124.5,562.1ZM144.55,562.1L145.3,607.6A1.3,1.3 0 0 0 147.9,607.6L148.65,562.1ZM153.6,562.1L155.1,614.5A1.3,1.3 0 0 0 157.7,614.5L159.2,562.1ZM163,562.1L163.8,603.5A1.2,1.2 0 0 0 166.2,603.5L167,562.1ZM191.45,562.1L192.2,611.7A1.3,1.3 0 0 0 194.8,611.7L195.55,562.1ZM217.75,562.1L218.5,606.9A1.3,1.3 0 0 0 221.1,606.9L221.85,562.1ZM245.15,562.1L245.9,612.4A1.3,1.3 0 0 0 248.5,612.4L249.25,562.1ZM250.35,562.1L251.1,604.1A1.3,1.3 0 0 0 253.7,604.1L254.45,562.1ZM278.55,562.1L279.3,606.9A1.3,1.3 0 0 0 281.9,606.9L282.65,562.1ZM281.35,562.1L282.1,606.9A1.3,1.3 0 0 0 284.7,606.9L285.45,562.1ZM304.95,562.1L305.7,611.7A1.3,1.3 0 0 0 308.3,611.7L309.05,562.1ZM356.45,562.1L357.2,607.6A1.3,1.3 0 0 0 359.8,607.6L360.55,562.1ZM389.05,562.1L389.9,593.4A1.1,1.1 0 0 0 392.1,593.4L392.95,562.1ZM413.1,562.1L413.6,597.2A1.2,1.2 0 0 0 416,597.2L416.5,562.1ZM38.78,562.1L39.96,565.31L41.14,562.1ZM40.57,562.1L41.9,564.25L43.24,562.1ZM43.19,562.1L44.09,564.13L44.98,562.1ZM46.08,562.1L47.54,564.8L49,562.1ZM49.28,562.1L50.43,565.64L51.58,562.1ZM51.22,562.1L52.14,564.8L53.07,562.1ZM52.94,562.1L54.51,563.81L56.08,562.1ZM55.27,562.1L56.31,565.93L57.36,562.1ZM56.74,562.1L57.64,563.87L58.54,562.1ZM59.03,562.1L60.57,565.27L62.1,562.1ZM61.62,562.1L62.83,565.31L64.04,562.1ZM63.78,562.1L65.31,564.05L66.84,562.1ZM67.44,562.1L68.75,565.79L70.05,562.1ZM70.47,562.1L71.33,564.01L72.2,562.1ZM71.29,562.1L72.6,563.84L73.91,562.1ZM72.59,562.1L74.1,564.49L75.6,562.1ZM74.21,562.1L75.52,564.81L76.82,562.1ZM77.01,562.1L78.04,563.79L79.06,562.1ZM78.58,562.1L79.4,563.77L80.22,562.1ZM81.19,562.1L82.73,565.05L84.27,562.1ZM84.25,562.1L85.34,565.83L86.43,562.1ZM85.28,562.1L86.66,565.47L88.03,562.1ZM88.63,562.1L89.62,564.67L90.6,562.1ZM89.75,562.1L90.83,564.55L91.91,562.1ZM92.77,562.1L94.14,563.69L95.51,562.1ZM95.6,562.1L96.79,564.46L97.99,562.1ZM97.55,562.1L99.08,564.54L100.61,562.1ZM99.5,562.1L100.57,563.97L101.64,562.1ZM102.07,562.1L103.03,564.15L103.99,562.1ZM104.13,562.1L105.7,563.79L107.28,562.1ZM107.54,562.1L108.6,563.75L109.66,562.1ZM110.19,562.1L111.34,565.32L112.49,562.1ZM113.55,562.1L114.37,564.07L115.2,562.1ZM116.39,562.1L117.27,564.32L118.15,562.1ZM117.88,562.1L119.18,564.69L120.48,562.1ZM121.22,562.1L122.56,564.43L123.9,562.1ZM123.1,562.1L124.35,564.69L125.6,562.1ZM124.56,562.1L125.7,565.35L126.84,562.1ZM126.77,562.1L128.01,564.09L129.25,562.1ZM129.44,562.1L130.29,565.27L131.13,562.1ZM131.24,562.1L132.44,563.81L133.64,562.1ZM132.75,562.1L133.97,564.3L135.19,562.1ZM136.54,562.1L137.35,564.6L138.17,562.1ZM139.42,562.1L140.43,563.85L141.44,562.1ZM141.42,562.1L142.73,564.41L144.05,562.1ZM142.97,562.1L144.35,563.85L145.73,562.1ZM145.45,562.1L146.56,564.47L147.66,562.1ZM147.86,562.1L149.45,564.27L151.03,562.1ZM151.49,562.1L152.47,563.68L153.44,562.1ZM153.39,562.1L154.89,565.49L156.39,562.1ZM155.99,562.1L157.32,564.91L158.65,562.1ZM159.39,562.1L160.81,564.8L162.22,562.1ZM161.63,562.1L162.44,564.81L163.25,562.1ZM162.32,562.1L163.74,565.17L165.16,562.1ZM165.41,562.1L166.24,564.33L167.06,562.1ZM166.45,562.1L167.94,563.89L169.43,562.1ZM168.45,562.1L169.73,564.76L171.01,562.1ZM171.46,562.1L172.84,564.84L174.22,562.1ZM175.24,562.1L176.17,564.99L177.11,562.1ZM176.79,562.1L177.87,564.85L178.95,562.1ZM178.97,562.1L180.03,564.22L181.1,562.1ZM181.98,562.1L183.02,564.42L184.06,562.1ZM183.96,562.1L185.08,564.13L186.2,562.1ZM185.33,562.1L186.31,565.3L187.29,562.1ZM187.73,562.1L189.01,563.82L190.3,562.1ZM190.05,562.1L191.57,563.79L193.09,562.1ZM193.06,562.1L194.37,564.77L195.69,562.1ZM194.65,562.1L196.09,565.93L197.53,562.1ZM198.47,562.1L199.34,565.34L200.22,562.1ZM199.24,562.1L200.78,565.42L202.33,562.1ZM201.04,562.1L202.36,565.81L203.67,562.1ZM203.06,562.1L203.93,563.71L204.8,562.1ZM204.37,562.1L205.28,564.27L206.2,562.1ZM206.4,562.1L207.43,564.28L208.45,562.1ZM209.58,562.1L210.87,564.07L212.16,562.1ZM212.75,562.1L213.66,565.56L214.57,562.1ZM213.4,562.1L214.89,563.73L216.38,562.1ZM215.38,562.1L216.29,564.2L217.2,562.1ZM218.52,562.1L219.7,564.89L220.87,562.1ZM220.48,562.1L221.4,565.16L222.31,562.1ZM223.62,562.1L224.82,564.09L226.02,562.1ZM226.58,562.1L227.85,564.94L229.13,562.1ZM228.46,562.1L229.85,564.91L231.25,562.1ZM230.56,562.1L231.51,563.82L232.45,562.1ZM231.72,562.1L232.75,564.25L233.79,562.1ZM234.7,562.1L235.92,564.11L237.13,562.1ZM238.25,562.1L239.33,563.9L240.42,562.1ZM239.93,562.1L241.37,563.75L242.81,562.1ZM241.79,562.1L243.27,564.45L244.75,562.1ZM243.92,562.1L244.92,564.61L245.91,562.1ZM245.81,562.1L247.3,564.79L248.79,562.1ZM249.12,562.1L249.96,565.21L250.8,562.1ZM251.24,562.1L252.6,564.95L253.96,562.1ZM253.83,562.1L255.12,565.31L256.41,562.1ZM255.46,562.1L256.76,564.92L258.07,562.1ZM257.46,562.1L258.35,564.63L259.24,562.1ZM260.78,562.1L261.69,565.74L262.6,562.1ZM264.16,562.1L264.99,564.83L265.83,562.1ZM265.86,562.1L267.4,564.72L268.94,562.1ZM268.55,562.1L270.07,565.41L271.59,562.1ZM271.12,562.1L272.68,563.7L274.25,562.1ZM274.73,562.1L275.82,563.83L276.91,562.1ZM275.8,562.1L277.33,564.62L278.86,562.1ZM277.72,562.1L278.62,564.45L279.52,562.1ZM279.74,562.1L281.13,565.83L282.53,562.1ZM283.08,562.1L284.26,564.93L285.44,562.1ZM284.76,562.1L286.3,563.97L287.84,562.1ZM287.25,562.1L288.76,564.54L290.27,562.1ZM290.71,562.1L291.68,564.29L292.66,562.1ZM292.7,562.1L293.58,564.36L294.45,562.1ZM295.72,562.1L296.68,564.22L297.64,562.1ZM298.82,562.1L299.99,564.55L301.17,562.1ZM301.57,562.1L302.96,565.13L304.35,562.1ZM304.56,562.1L305.67,565.6L306.77,562.1ZM305.43,562.1L306.89,564.03L308.35,562.1ZM309.19,562.1L310.32,565.44L311.44,562.1ZM312.26,562.1L313.15,565.44L314.03,562.1ZM314.6,562.1L315.72,563.7L316.84,562.1ZM316.67,562.1L317.93,564.19L319.18,562.1ZM317.88,562.1L319.33,564.17L320.78,562.1ZM321.66,562.1L322.72,564.35L323.78,562.1ZM324.85,562.1L325.92,565.03L326.98,562.1ZM328.08,562.1L329.15,564.01L330.21,562.1ZM330.33,562.1L331.24,565.58L332.15,562.1ZM331.93,562.1L332.8,563.68L333.67,562.1ZM334.1,562.1L335.47,564.08L336.85,562.1ZM336.61,562.1L337.61,563.88L338.6,562.1ZM339.28,562.1L340.52,563.68L341.76,562.1ZM342.05,562.1L343.11,563.72L344.16,562.1ZM344.3,562.1L345.52,564.48L346.73,562.1ZM347.75,562.1L348.76,565.48L349.77,562.1ZM350.21,562.1L351.59,565.29L352.96,562.1ZM353.04,562.1L353.94,563.84L354.85,562.1ZM354.19,562.1L355.18,564.67L356.17,562.1ZM356.97,562.1L358.18,564.15L359.39,562.1ZM359.66,562.1L360.88,564.14L362.1,562.1ZM361.15,562.1L362.49,564.34L363.83,562.1ZM363.85,562.1L364.93,564.11L366.01,562.1ZM365.68,562.1L366.87,564.03L368.07,562.1ZM368.95,562.1L370.07,565.05L371.18,562.1ZM370.87,562.1L372.2,564.88L373.53,562.1ZM372.25,562.1L373.79,563.99L375.34,562.1ZM374.45,562.1L375.69,565.02L376.94,562.1ZM377.46,562.1L378.97,565.42L380.47,562.1ZM379.58,562.1L380.55,564.22L381.52,562.1ZM381.1,562.1L382.29,564.01L383.49,562.1ZM383.16,562.1L384.54,565.57L385.92,562.1ZM385.47,562.1L386.72,564.04L387.96,562.1ZM388.56,562.1L390.03,563.68L391.51,562.1ZM391.04,562.1L392.35,563.8L393.66,562.1ZM392.43,562.1L393.94,565.67L395.45,562.1ZM395.05,562.1L396.46,565.79L397.88,562.1ZM398.76,562.1L399.61,564.7L400.46,562.1ZM400.6,562.1L402.15,564.96L403.7,562.1ZM403.97,562.1L405.45,563.69L406.92,562.1ZM407.68,562.1L408.5,565.64L409.32,562.1ZM409.12,562.1L410.55,563.75L411.97,562.1ZM410.67,562.1L411.79,565.31L412.91,562.1ZM412.59,562.1L413.46,564.59L414.34,562.1ZM414.17,562.1L415,565.9L415.84,562.1ZM416.54,562.1L418,565.43L419.46,562.1ZM418.99,562.1L420.05,564.3L421.11,562.1Z" fill="#000"/>
<path d="M119.7,563.5L122.7,563.5L122.3,588ZM155.4,563.5L157.4,563.5L156.4,570Z" fill="#fff"/>
<path d="M416.5,562.1L419.2,562.1L418.6,596L417.1,596Z" fill="#000" fill-opacity="0.45"/>
<path d="M35.6,610.3 36.32,620.58 36.6,623.33 37.14,626.51 37.6,627.71 38.05,627.9 38.6,626.88 38.78,626.16 39.1,624.31 39.22,623.31 39.6,618.87 39.81,614.85 40.11,605.11 40.25,595.08 40.41,565.95 40.6,599.55 40.69,605.11 40.99,614.89 41.1,617.24 41.6,623.87 42.1,627.38 42.6,629.47 43.1,630.81 43.6,631.7 44.17,632.4 44.6,632.78 45.1,633.12 46.1,633.58 47.74,633.98 49.16,634.1 49.6,634.07 50.1,633.91 50.41,633.61 50.6,633.2 50.85,631.78 51.1,626.13 51.31,601.36 51.41,619.65 51.52,627.16 51.6,629.57 51.75,631.82 52.1,633.53 52.19,633.7 52.6,634.1 53.1,634.28 55.1,634.43 56.1,634.33 56.6,634.13 56.72,634.04 57.1,633.37 57.26,632.66 57.53,628.86 57.66,622.03 57.8,602.5 57.94,622.03 58.1,629.65 58.34,632.67 58.43,633.13 58.65,633.76 58.88,634.07 59.1,634.23 59.6,634.4 69.1,634.45 71.1,634.25 72.18,634 72.6,633.83 73.1,633.51 73.6,632.96 73.89,632.44 74.1,631.91 74.6,629.55 74.75,628.32 75.1,622.9 75.39,612.06 75.6,591.48 75.81,612.05 76.1,622.89 76.45,628.3 76.79,630.64 77.1,631.85 77.31,632.37 77.6,632.87 78.1,633.38 78.6,633.66 79.1,633.81 80.1,633.91 81.1,633.82 81.6,633.67 82.1,633.42 82.72,632.8 83.1,632.07 83.6,630.12 83.71,629.39 84.1,624.87 84.21,622.73 84.45,614.04 84.7,593.57 84.95,614.04 85.19,622.73 85.6,628.67 85.69,629.39 86.1,631.49 86.68,632.82 87.1,633.3 87.6,633.64 88.1,633.85 89.6,634.13 97.1,634.11 100.1,633.77 101.6,633.4 102.6,632.96 103.1,632.64 103.6,632.19 104.26,631.33 104.6,630.69 105.1,629.37 105.6,627.27 106.1,623.77 106.6,617.39 106.92,610 107.2,599.98 107.3,598.34 107.39,599.98 107.68,610 108.1,619.03 108.6,624.62 108.82,626.2 109.1,627.73 109.6,629.61 110.1,630.8 110.6,631.59 111.1,632.12 111.6,632.5 112.1,632.76 113.6,633.17 115.1,633.24 116.1,633.13 117.1,632.87 117.62,632.65 118.1,632.37 118.6,631.96 119.1,631.37 119.62,630.47 120.1,629.19 120.6,627.09 121.1,623.53 121.63,616.28 121.96,606.64 122.13,596.87 122.3,576 122.47,596.87 122.64,606.64 122.97,616.28 123.1,618.6 123.64,624.76 124.1,627.6 124.6,629.52 125.1,630.73 125.6,631.54 126.1,632.1 126.6,632.5 127.1,632.8 128.1,633.19 129.6,633.5 134.6,633.74 138.6,633.49 140.6,633.09 141.6,632.71 142.1,632.44 142.6,632.07 143.14,631.53 143.6,630.87 144.1,629.84 144.6,628.26 144.87,627.04 145.1,625.7 145.6,621.22 145.74,619.43 146.17,610.11 146.38,600.44 146.6,579.6 146.82,600.44 147.1,612.12 147.47,619.41 147.6,621.19 148.1,625.61 148.33,626.92 148.6,628.09 149.1,629.57 149.6,630.48 150.1,631.04 150.61,631.38 151.1,631.54 151.6,631.56 152.25,631.4 152.6,631.2 153.1,630.77 153.6,630.06 154.1,628.94 154.6,627.13 155.1,624.04 155.36,621.52 155.6,618.31 156.01,608.62 156.27,592.89 156.42,573.64 156.66,602.7 156.92,612.51 157.1,616.56 157.44,621.5 157.6,623.15 158.1,626.57 158.6,628.51 159.1,629.66 159.6,630.31 160.1,630.61 160.44,630.61 160.61,630.53 160.91,630.12 161.1,629.51 161.26,628.42 161.6,622.83 161.94,628.01 162.1,628.81 162.29,629.07 162.6,628.79 162.97,627.85 163.1,627.4 163.6,624.73 163.9,622.13 164.1,619.77 164.45,613.32 164.73,603.78 165,582.99 165.27,603.78 165.6,614.54 166.1,622.22 166.6,626.18 167.19,628.8 167.6,629.92 168.1,630.86 168.6,631.51 169.39,632.17 170.1,632.55 171.1,632.86 171.6,632.94 172.1,632.96 172.69,632.79 173.1,632.22 173.24,631.69 173.52,628.86 173.8,621.21 174.1,629.28 174.36,631.74 174.67,632.63 174.91,632.89 175.1,632.98 175.6,633.01 175.79,632.93 176.1,632.58 176.34,631.83 176.62,628.95 176.9,621.25 177.18,628.97 177.46,631.89 177.6,632.44 178.01,633.1 178.25,633.25 178.6,633.38 180.1,633.54 185.1,633.37 187.1,633.05 188.6,632.53 189.1,632.25 189.6,631.86 190.1,631.33 190.6,630.57 191.1,629.44 191.6,627.68 192.1,624.8 192.6,619.68 192.87,615.07 193.18,605.36 193.34,595.58 193.5,574.7 193.66,595.58 193.82,605.36 194.13,615.06 194.6,622.12 194.77,623.72 195.1,626.13 195.6,628.47 196.1,629.93 196.6,630.88 197.1,631.54 197.6,632 198.1,632.33 199.1,632.77 200.6,633.13 207.6,633.44 211.6,633.22 213.62,632.86 214.6,632.53 215.1,632.29 215.6,631.97 216.1,631.53 216.71,630.75 217.1,630.03 217.6,628.69 218.1,626.57 218.6,622.99 219.1,616.29 219.41,608.09 219.61,598.35 219.8,577.5 219.99,598.35 220.19,608.09 220.6,618.05 221.1,623.88 221.34,625.65 221.6,627.07 222.1,628.99 222.6,630.22 223.1,631.03 223.6,631.6 224.1,632 224.6,632.29 225.6,632.69 227.6,633.07 235.6,633.22 239.1,632.92 240.6,632.64 241.6,632.33 242.6,631.84 243.1,631.48 243.69,630.88 244.1,630.32 244.6,629.36 245.1,627.92 245.6,625.62 246.1,621.68 246.32,618.94 246.6,613.98 246.76,609.63 246.98,599.73 247.21,570.65 247.31,589.9 247.42,599.73 247.64,609.61 248.1,619.13 248.6,623.86 248.95,625.64 249.1,626.14 249.6,627.05 250.1,626.95 250.6,625.8 251.1,623.15 251.6,617.68 251.97,609.47 252.18,599.82 252.4,578.99 252.62,599.83 252.83,609.49 253.1,616.05 253.26,618.75 253.6,622.64 254.21,626.7 254.6,628.22 255.1,629.54 255.6,630.42 256.1,631.04 256.6,631.49 257.1,631.82 258.1,632.27 259.6,632.65 265.6,633.06 271.6,632.8 273.6,632.49 275.1,632.06 276.1,631.58 276.65,631.2 277.1,630.79 277.6,630.2 278.1,629.38 278.6,628.22 279.1,626.47 279.6,623.69 279.91,620.98 280.1,618.78 280.46,612.29 280.73,602.63 281,572 281.14,592.86 281.27,602.59 281.6,613.16 282.1,618.35 282.31,618.31 282.6,616.25 282.86,611.95 283.17,600.07 283.4,572 283.6,598.28 283.67,602.63 283.94,612.29 284.1,615.63 284.6,622.07 285.1,625.51 285.6,627.59 286.1,628.94 286.6,629.87 287.1,630.54 287.75,631.15 288.6,631.69 289.69,632.13 291.6,632.54 296.1,632.81 299.1,632.66 300.6,632.42 301.6,632.13 302.1,631.91 302.6,631.63 303.1,631.25 303.65,630.66 304.1,629.96 304.6,628.83 305.1,627.07 305.32,625.97 305.6,624.19 306.16,618.16 306.6,608.04 306.79,598.75 307.01,569.65 307.1,588.9 307.21,598.75 307.42,608.7 307.6,613.71 307.84,618.16 308.1,621.51 308.68,625.97 309.1,627.87 309.6,629.33 310.1,630.29 310.6,630.95 311.1,631.41 311.6,631.75 312.6,632.2 314.1,632.56 347.1,632.64 351.1,632.25 352.6,631.9 353.6,631.49 354.1,631.2 354.6,630.8 355.1,630.26 355.6,629.48 356.1,628.34 356.6,626.57 357.1,623.67 357.6,618.53 357.75,616.15 358.13,606.6 358.31,596.86 358.5,576 358.69,596.86 358.87,606.6 359.1,613.19 359.25,616.15 359.6,620.98 360.1,625 360.63,627.48 361.1,628.82 361.6,629.78 362.1,630.44 362.6,630.9 363.1,631.24 364.1,631.68 365.6,632.04 381.6,632.28 385.1,631.96 386.1,631.75 387.12,631.35 387.6,631.04 388.1,630.57 388.6,629.82 389.1,628.56 389.6,626.24 389.95,623.27 390.1,621.48 390.43,615.16 390.66,606.65 390.9,594.95 391.14,606.65 391.37,615.16 391.6,619.95 391.85,623.27 392.1,625.54 392.6,628.17 392.79,628.81 393.1,629.57 393.6,630.37 394.1,630.87 394.83,631.31 395.6,631.57 397.6,631.86 404.6,631.79 408.1,631.37 409.6,630.99 411.1,630.31 411.6,629.97 412.1,629.54 412.6,628.97 413.1,628.21 413.62,627.14 414.1,625.71 414.6,623.54 415.1,620.09 415.63,613.33 415.96,604.39 416.3,583.95 416.64,603.72 416.97,608.07 417.1,606.67 417.39,599.21 417.5,597.7 418.1,612.54 418.37,616.69 418.6,619.29 419.1,623.02 419.6,625.35 420.1,626.91 420.6,628.01" fill="none" stroke="rgb(255,0,0)" stroke-opacity="0.36" stroke-width="1"/>
<path d="M38.35,562.1L39.1,614.5A1.3,1.3 0 0 0 41.7,614.5L42.45,562.1ZM73.8,562.1L74.7,581.5A0.9,0.9 0 0 0 76.5,581.5L77.4,562.1ZM82.9,562.1L83.8,575.3A0.9,0.9 0 0 0 85.6,575.3L86.5,562.1ZM105.3,562.1L106.1,597.2A1.2,1.2 0 0 0 108.5,597.2L109.3,562.1ZM117.9,562.1L121.1,613.2A1.2,1.2 0 0 0 123.5,613.2L124.5,562.1ZM144.55,562.1L145.3,607.6A1.3,1.3 0 0 0 147.9,607.6L148.65,562.1ZM153.6,562.1L155.1,614.5A1.3,1.3 0 0 0 157.7,614.5L159.2,562.1ZM163,562.1L163.8,603.5A1.2,1.2 0 0 0 166.2,603.5L167,562.1ZM191.45,562.1L192.2,611.7A1.3,1.3 0 0 0 194.8,611.7L195.55,562.1ZM217.75,562.1L218.5,606.9A1.3,1.3 0 0 0 221.1,606.9L221.85,562.1ZM245.15,562.1L245.9,612.4A1.3,1.3 0 0 0 248.5,612.4L249.25,562.1ZM250.35,562.1L251.1,604.1A1.3,1.3 0 0 0 253.7,604.1L254.45,562.1ZM278.55,562.1L279.3,606.9A1.3,1.3 0 0 0 281.9,606.9L282.65,562.1ZM281.35,562.1L282.1,606.9A1.3,1.3 0 0 0 284.7,606.9L285.45,562.1ZM304.95,562.1L305.7,611.7A1.3,1.3 0 0 0 308.3,611.7L309.05,562.1ZM356.45,562.1L357.2,607.6A1.3,1.3 0 0 0 359.8,607.6L360.55,562.1ZM389.05,562.1L389.9,593.4A1.1,1.1 0 0 0 392.1,593.4L392.95,562.1ZM413.1,562.1L413.6,597.2A1.2,1.2 0 0 0 416,597.2L416.5,562.1ZM38.78,562.1L39.96,565.31L41.14,562.1ZM40.57,562.1L41.9,564.25L43.24,562.1ZM43.19,562.1L44.09,564.13L44.98,562.1ZM46.08,562.1L47.54,564.8L49,562.1ZM49.28,562.1L50.43,565.64L51.58,562.1ZM51.22,562.1L52.14,564.8L53.07,562.1ZM52.94,562.1L54.51,563.81L56.08,562.1ZM55.27,562.1L56.31,565.93L57.36,562.1ZM56.74,562.1L57.64,563.87L58.54,562.1ZM59.03,562.1L60.57,565.27L62.1,562.1ZM61.62,562.1L62.83,565.31L64.04,562.1ZM63.78,562.1L65.31,564.05L66.84,562.1ZM67.44,562.1L68.75,565.79L70.05,562.1ZM70.47,562.1L71.33,564.01L72.2,562.1ZM71.29,562.1L72.6,563.84L73.91,562.1ZM72.59,562.1L74.1,564.49L75.6,562.1ZM74.21,562.1L75.52,564.81L76.82,562.1ZM77.01,562.1L78.04,563.79L79.06,562.1ZM78.58,562.1L79.4,563.77L80.22,562.1ZM81.19,562.1L82.73,565.05L84.27,562.1ZM84.25,562.1L85.34,565.83L86.43,562.1ZM85.28,562.1L86.66,565.47L88.03,562.1ZM88.63,562.1L89.62,564.67L90.6,562.1ZM89.75,562.1L90.83,564.55L91.91,562.1ZM92.77,562.1L94.14,563.69L95.51,562.1ZM95.6,562.1L96.79,564.46L97.99,562.1ZM97.55,562.1L99.08,564.54L100.61,562.1ZM99.5,562.1L100.57,563.97L101.64,562.1ZM102.07,562.1L103.03,564.15L103.99,562.1ZM104.13,562.1L105.7,563.79L107.28,562.1ZM107.54,562.1L108.6,563.75L109.66,562.1ZM110.19,562.1L111.34,565.32L112.49,562.1ZM113.55,562.1L114.37,564.07L115.2,562.1ZM116.39,562.1L117.27,564.32L118.15,562.1ZM117.88,562.1L119.18,564.69L120.48,562.1ZM121.22,562.1L122.56,564.43L123.9,562.1ZM123.1,562.1L124.35,564.69L125.6,562.1ZM124.56,562.1L125.7,565.35L126.84,562.1ZM126.77,562.1L128.01,564.09L129.25,562.1ZM129.44,562.1L130.29,565.27L131.13,562.1ZM131.24,562.1L132.44,563.81L133.64,562.1ZM132.75,562.1L133.97,564.3L135.19,562.1ZM136.54,562.1L137.35,564.6L138.17,562.1ZM139.42,562.1L140.43,563.85L141.44,562.1ZM141.42,562.1L142.73,564.41L144.05,562.1ZM142.97,562.1L144.35,563.85L145.73,562.1ZM145.45,562.1L146.56,564.47L147.66,562.1ZM147.86,562.1L149.45,564.27L151.03,562.1ZM151.49,562.1L152.47,563.68L153.44,562.1ZM153.39,562.1L154.89,565.49L156.39,562.1ZM155.99,562.1L157.32,564.91L158.65,562.1ZM159.39,562.1L160.81,564.8L162.22,562.1ZM161.63,562.1L162.44,564.81L163.25,562.1ZM162.32,562.1L163.74,565.17L165.16,562.1ZM165.41,562.1L166.24,564.33L167.06,562.1ZM166.45,562.1L167.94,563.89L169.43,562.1ZM168.45,562.1L169.73,564.76L171.01,562.1ZM171.46,562.1L172.84,564.84L174.22,562.1ZM175.24,562.1L176.17,564.99L177.11,562.1ZM176.79,562.1L177.87,564.85L178.95,562.1ZM178.97,562.1L180.03,564.22L181.1,562.1ZM181.98,562.1L183.02,564.42L184.06,562.1ZM183.96,562.1L185.08,564.13L186.2,562.1ZM185.33,562.1L186.31,565.3L187.29,562.1ZM187.73,562.1L189.01,563.82L190.3,562.1ZM190.05,562.1L191.57,563.79L193.09,562.1ZM193.06,562.1L194.37,564.77L195.69,562.1ZM194.65,562.1L196.09,565.93L197.53,562.1ZM198.47,562.1L199.34,565.34L200.22,562.1ZM199.24,562.1L200.78,565.42L202.33,562.1ZM201.04,562.1L202.36,565.81L203.67,562.1ZM203.06,562.1L203.93,563.71L204.8,562.1ZM204.37,562.1L205.28,564.27L206.2,562.1ZM206.4,562.1L207.43,564.28L208.45,562.1ZM209.58,562.1L210.87,564.07L212.16,562.1ZM212.75,562.1L213.66,565.56L214.57,562.1ZM213.4,562.1L214.89,563.73L216.38,562.1ZM215.38,562.1L216.29,564.2L217.2,562.1ZM218.52,562.1L219.7,564.89L220.87,562.1ZM220.48,562.1L221.4,565.16L222.31,562.1ZM223.62,562.1L224.82,564.09L226.02,562.1ZM226.58,562.1L227.85,564.94L229.13,562.1ZM228.46,562.1L229.85,564.91L231.25,562.1ZM230.56,562.1L231.51,563.82L232.45,562.1ZM231.72,562.1L232.75,564.25L233.79,562.1ZM234.7,562.1L235.92,564.11L237.13,562.1ZM238.25,562.1L239.33,563.9L240.42,562.1ZM239.93,562.1L241.37,563.75L242.81,562.1ZM241.79,562.1L243.27,564.45L244.75,562.1ZM243.92,562.1L244.92,564.61L245.91,562.1ZM245.81,562.1L247.3,564.79L248.79,562.1ZM249.12,562.1L249.96,565.21L250.8,562.1ZM251.24,562.1L252.6,564.95L253.96,562.1ZM253.83,562.1L255.12,565.31L256.41,562.1ZM255.46,562.1L256.76,564.92L258.07,562.1ZM257.46,562.1L258.35,564.63L259.24,562.1ZM260.78,562.1L261.69,565.74L262.6,562.1ZM264.16,562.1L264.99,564.83L265.83,562.1ZM265.86,562.1L267.4,564.72L268.94,562.1ZM268.55,562.1L270.07,565.41L271.59,562.1ZM271.12,562.1L272.68,563.7L274.25,562.1ZM274.73,562.1L275.82,563.83L276.91,562.1ZM275.8,562.1L277.33,564.62L278.86,562.1ZM277.72,562.1L278.62,564.45L279.52,562.1ZM279.74,562.1L281.13,565.83L282.53,562.1ZM283.08,562.1L284.26,564.93L285.44,562.1ZM284.76,562.1L286.3,563.97L287.84,562.1ZM287.25,562.1L288.76,564.54L290.27,562.1ZM290.71,562.1L291.68,564.29L292.66,562.1ZM292.7,562.1L293.58,564.36L294.45,562.1ZM295.72,562.1L296.68,564.22L297.64,562.1ZM298.82,562.1L299.99,564.55L301.17,562.1ZM301.57,562.1L302.96,565.13L304.35,562.1ZM304.56,562.1L305.67,565.6L306.77,562.1ZM305.43,562.1L306.89,564.03L308.35,562.1ZM309.19,562.1L310.32,565.44L311.44,562.1ZM312.26,562.1L313.15,565.44L314.03,562.1ZM314.6,562.1L315.72,563.7L316.84,562.1ZM316.67,562.1L317.93,564.19L319.18,562.1ZM317.88,562.1L319.33,564.17L320.78,562.1ZM321.66,562.1L322.72,564.35L323.78,562.1ZM324.85,562.1L325.92,565.03L326.98,562.1ZM328.08,562.1L329.15,564.01L330.21,562.1ZM330.33,562.1L331.24,565.58L332.15,562.1ZM331.93,562.1L332.8,563.68L333.67,562.1ZM334.1,562.1L335.47,564.08L336.85,562.1ZM336.61,562.1L337.61,563.88L338.6,562.1ZM339.28,562.1L340.52,563.68L341.76,562.1ZM342.05,562.1L343.11,563.72L344.16,562.1ZM344.3,562.1L345.52,564.48L346.73,562.1ZM347.75,562.1L348.76,565.48L349.77,562.1ZM350.21,562.1L351.59,565.29L352.96,562.1ZM353.04,562.1L353.94,563.84L354.85,562.1ZM354.19,562.1L355.18,564.67L356.17,562.1ZM356.97,562.1L358.18,564.15L359.39,562.1ZM359.66,562.1L360.88,564.14L362.1,562.1ZM361.15,562.1L362.49,564.34L363.83,562.1ZM363.85,562.1L364.93,564.11L366.01,562.1ZM365.68,562.1L366.87,564.03L368.07,562.1ZM368.95,562.1L370.07,565.05L371.18,562.1ZM370.87,562.1L372.2,564.88L373.53,562.1ZM372.25,562.1L373.79,563.99L375.34,562.1ZM374.45,562.1L375.69,565.02L376.94,562.1ZM377.46,562.1L378.97,565.42L380.47,562.1ZM379.58,562.1L380.55,564.22L381.52,562.1ZM381.1,562.1L382.29,564.01L383.49,562.1ZM383.16,562.1L384.54,565.57L385.92,562.1ZM385.47,562.1L386.72,564.04L387.96,562.1ZM388.56,562.1L390.03,563.68L391.51,562.1ZM391.04,562.1L392.35,563.8L393.66,562.1ZM392.43,562.1L393.94,565.67L395.45,562.1ZM395.05,562.1L396.46,565.79L397.88,562.1ZM398.76,562.1L399.61,564.7L400.46,562.1ZM400.6,562.1L402.15,564.96L403.7,562.1ZM403.97,562.1L405.45,563.69L406.92,562.1ZM407.68,562.1L408.5,565.64L409.32,562.1ZM409.12,562.1L410.55,563.75L411.97,562.1ZM410.67,562.1L411.79,565.31L412.91,562.1ZM412.59,562.1L413.46,564.59L414.34,562.1ZM414.17,562.1L415,565.9L415.84,562.1ZM416.54,562.1L418,565.43L419.46,562.1ZM418.99,562.1L420.05,564.3L421.11,562.1ZM119.7,563.5L122.7,563.5L122.3,588ZM155.4,563.5L157.4,563.5L156.4,570Z" fill="#000" fill-opacity="0.3" fill-rule="evenodd"/>
<rect x="35.6" y="560.2" width="384.1" height="83.9" fill="none" stroke="#000" stroke-width="1"/>
<path d="M35.6,561.4h3M35.6,563.1h1.6M35.6,564.8h1.6M35.6,566.5h1.6M35.6,568.2h1.6M35.6,569.9h1.6M35.6,571.6h1.6M35.6,573.3h1.6M35.6,575h1.6M35.6,576.7h1.6M35.6,578.4h3M35.6,580.1h1.6M35.6,581.8h1.6M35.6,583.5h1.6M35.6,585.2h1.6M35.6,586.9h1.6M35.6,588.6h1.6M35.6,590.3h1.6M35.6,592h1.6M35.6,593.7h1.6M35.6,595.4h3M35.6,597.1h1.6M35.6,598.8h1.6M35.6,600.5h1.6M35.6,602.2h1.6M35.6,603.9h1.6M35.6,605.6h1.6M35.6,607.3h1.6M35.6,609h1.6M35.6,610.7h1.6M35.6,612.4h3M35.6,614.1h1.6M35.6,615.8h1.6M35.6,617.5h1.6M35.6,619.2h1.6M35.6,620.9h1.6M35.6,622.6h1.6M35.6,624.3h1.6M35.6,626h1.6M35.6,627.7h1.6M35.6,629.4h3M35.6,631.1h1.6M35.6,632.8h1.6M35.6,634.5h1.6M35.6,636.2h1.6M35.6,637.9h1.6M35.6,639.6h1.6M35.6,641.3h1.6M35.6,643h1.6M419.7,561.4h-2.6M419.7,578.4h-2.6M419.7,595.4h-2.6M419.7,612.4h-2.6M419.7,629.4h-2.6M35.6,644.1v-1.6M45.57,644.1v-1.6M55.54,644.1v-3M65.51,644.1v-1.6M75.48,644.1v-1.6M85.45,644.1v-1.6M95.42,644.1v-1.6M105.39,644.1v-3M115.36,644.1v-1.6M125.33,644.1v-1.6M135.3,644.1v-1.6M145.27,644.1v-1.6M155.24,644.1v-3M165.21,644.1v-1.6M175.18,644.1v-1.6M185.15,644.1v-1.6M195.12,644.1v-1.6M205.09,644.1v-3M215.06,644.1v-1.6M225.03,644.1v-1.6M235,644.1v-1.6M244.97,644.1v-1.6M254.94,644.1v-3M264.91,644.1v-1.6M274.88,644.1v-1.6M284.85,644.1v-1.6M294.82,644.1v-1.6M304.79,644.1v-3M314.76,644.1v-1.6M324.73,644.1v-1.6M334.7,644.1v-1.6M344.67,644.1v-1.6M354.64,644.1v-3M364.61,644.1v-1.6M374.58,644.1v-1.6M384.55,644.1v-1.6M394.52,644.1v-1.6M404.49,644.1v-3M414.46,644.1v-1.6" stroke="#000" stroke-width="1" fill="none"/>
<g><text x="44.34" y="658.3" textLength="22.4" lengthAdjust="spacingAndGlyphs">1.625</text><text x="94.19" y="658.3" textLength="22.4" lengthAdjust="spacingAndGlyphs">1.630</text><text x="144.04" y="658.3" textLength="22.4" lengthAdjust="spacingAndGlyphs">1.635</text><text x="193.89" y="658.3" textLength="22.4" lengthAdjust="spacingAndGlyphs">1.640</text><text x="243.74" y="658.3" textLength="22.4" lengthAdjust="spacingAndGlyphs">1.645</text><text x="293.59" y="658.3" textLength="22.4" lengthAdjust="spacingAndGlyphs">1.650</text><text x="343.44" y="658.3" textLength="22.4" lengthAdjust="spacingAndGlyphs">1.655</text><text x="393.29" y="658.3" textLength="22.4" lengthAdjust="spacingAndGlyphs">1.660</text><text x="33.1" y="565.7" text-anchor="end">0</text><text x="33.1" y="582.7" text-anchor="end">–10</text><text x="33.1" y="599.7" text-anchor="end">–20</text><text x="33.1" y="616.7" text-anchor="end">–30</text><text x="33.1" y="633.7" text-anchor="end">–40</text><text x="423.9" y="565">1</text><text x="423.9" y="582.6" textLength="9.2" lengthAdjust="spacingAndGlyphs">10</text><text x="433.2" y="580.4" font-size="7.8" textLength="9.4" lengthAdjust="spacingAndGlyphs">−1</text><text x="423.9" y="599.6" textLength="9.2" lengthAdjust="spacingAndGlyphs">10</text><text x="433.2" y="597.4" font-size="7.8" textLength="9.4" lengthAdjust="spacingAndGlyphs">−2</text><text x="423.9" y="616.6" textLength="9.2" lengthAdjust="spacingAndGlyphs">10</text><text x="433.2" y="614.4" font-size="7.8" textLength="9.4" lengthAdjust="spacingAndGlyphs">−3</text><text x="423.9" y="633.6" textLength="9.2" lengthAdjust="spacingAndGlyphs">10</text><text x="433.2" y="631.4" font-size="7.8" textLength="9.4" lengthAdjust="spacingAndGlyphs">−4</text><text x="227" y="676" text-anchor="middle"><tspan font-style="italic">λ</tspan> (<tspan font-style="italic">μ</tspan>m)</text><text transform="translate(8.0,602.7) rotate(-90)" text-anchor="middle" class="al">Transmission (dB)</text><text transform="translate(460.8,602) rotate(-90)" text-anchor="middle" class="al">Transmission</text></g>
<path d="M35.6,701.3 37.6,701.3 39.6,701.3 41.6,701.3 43.6,701.3 45.6,701.3 47.6,701.3 49.6,701.3 51.6,701.3 53.6,701.3 55.6,701.3 57.6,701.3 59.6,701.3 61.6,701.3 63.6,701.3 65.6,701.3 67.6,701.3 69.6,701.3 71.6,701.3 73.6,701.3 75.6,701.3 77.6,701.3 79.6,701.3 81.6,701.3 83.6,701.3 85.6,701.3 87.6,701.3 89.6,701.3 91.6,701.3 93.6,701.3 95.6,701.3 97.6,701.3 99.6,701.3 101.6,701.3 103.6,701.3 105.6,701.3 107.6,701.3 109.6,701.3 111.6,701.3 113.6,701.3 115.6,701.3 117.6,701.3 119.6,701.3 121.6,701.3 123.6,701.3 125.6,701.3 127.6,701.3 129.6,701.3 131.6,701.3 133.6,701.3 135.6,701.3 137.6,701.3 139.6,701.3 141.6,701.3 143.6,701.3 145.6,701.3 147.6,701.3 149.6,701.3 151.6,701.3 153.6,701.3 155.6,701.3 157.6,701.3 159.6,701.3 161.6,701.3 163.6,701.3 165.6,701.3 167.6,701.3 169.6,701.3 171.6,701.3 173.6,701.3 175.6,701.3 177.6,701.3 179.6,701.3 181.6,701.3 183.6,701.3 185.6,701.3 187.6,701.3 189.6,701.3 191.6,701.3 193.6,701.3 195.6,701.3 197.6,701.3 199.6,701.3 201.6,701.3 203.6,701.3 205.6,701.3 207.6,701.3 209.6,701.3 211.6,701.3 213.6,701.3 215.6,701.3 217.6,701.3 219.6,701.3 221.6,701.3 223.6,701.3 225.6,701.3 227.6,701.3 229.6,701.3 231.6,701.3 233.6,701.3 235.6,701.3 237.6,701.3 239.6,701.3 241.6,701.3 243.6,701.3 245.6,701.3 247.6,701.3 249.6,701.3 251.6,701.3 253.6,701.3 255.6,701.3 257.6,701.3 259.6,701.3 261.6,701.3 263.6,701.3 265.6,701.3 267.6,701.3 269.6,701.3 271.6,701.3 273.6,701.3 275.6,701.3 277.6,701.3 279.6,701.3 281.6,701.3 283.6,701.3 285.6,701.3 287.6,701.3 289.6,701.3 291.6,701.3 293.6,701.3 295.6,701.3 297.6,701.3 299.6,701.3 301.6,701.3 303.6,701.3 305.6,701.3 307.6,701.3 309.6,701.3 311.6,701.3 313.6,701.3 315.6,701.3 317.6,701.3 319.6,701.3 321.6,701.3 323.6,701.3 325.6,701.3 327.6,701.3 329.6,701.3 331.6,701.3 333.6,701.3 335.6,701.3 337.6,701.3 339.6,701.3 341.6,701.3 343.6,701.3 345.6,701.3 347.6,701.3 349.6,701.3 351.6,701.3 353.6,701.3 355.6,701.3 357.6,701.3 359.6,701.3 361.6,701.3 363.6,701.3 365.6,701.3 367.6,701.3 369.6,701.3 371.6,701.3 373.6,701.3 375.6,701.3 377.6,701.3 379.6,701.3 381.6,701.3 383.6,701.3 385.6,701.3 387.6,701.3 389.6,701.3 391.6,701.3 393.6,701.3 395.6,701.3 397.6,701.3 399.6,701.3 401.6,701.3 403.6,701.3 405.6,701.3 407.6,701.3 409.6,701.3 411.6,701.3 413.6,701.3 415.6,701.3 417.6,701.3 419.6,701.3 420.7,701.3" fill="none" stroke="#000" stroke-width="2.7"/>
<path d="M68,701.3L71,703A1,1 0 0 0 73,703L76,701.3ZM89.3,701.3L89.8,704.5A0.5,0.5 0 0 0 90.8,704.5L91.3,701.3ZM107.25,701.3L108,744.5A1.3,1.3 0 0 0 110.6,744.5L111.35,701.3ZM110.45,701.3L111.2,751.4A1.3,1.3 0 0 0 113.8,751.4L114.55,701.3ZM120.6,701.3L121.4,735.5A1.2,1.2 0 0 0 123.8,735.5L124.6,701.3ZM126.75,701.3L127.5,749.3A1.3,1.3 0 0 0 130.1,749.3L130.85,701.3ZM142.9,701.3L143.7,729.3A1.2,1.2 0 0 0 146.1,729.3L146.9,701.3ZM151,701.3L151.9,745.9A1.3,1.3 0 0 0 154.5,745.9L155.4,701.3ZM172.6,701.3L173.6,722.3A1.2,1.2 0 0 0 176,722.3L177,701.3ZM181.4,701.3L182.2,736.2A1.2,1.2 0 0 0 184.6,736.2L185.4,701.3ZM212.85,701.3L213.35,706.05A0.75,0.75 0 0 0 214.85,706.05L215.35,701.3ZM220.4,701.3L221.6,725.1A1.2,1.2 0 0 0 224,725.1L224.8,701.3ZM257.95,701.3L258.7,745.2A1.3,1.3 0 0 0 261.3,745.2L262.05,701.3ZM266.7,701.3L267.5,726.4A1.3,1.3 0 0 0 270.1,726.4L270.9,701.3ZM321.05,701.3L321.8,750A1.3,1.3 0 0 0 324.4,750L325.15,701.3ZM372.55,701.3L373.3,745.2A1.3,1.3 0 0 0 375.9,745.2L376.65,701.3ZM333.9,701.3L334.4,704A0.5,0.5 0 0 0 335.4,704L335.9,701.3ZM38.34,701.3L39.73,703.28L41.13,701.3ZM40.12,701.3L41.64,703.3L43.15,701.3ZM42.64,701.3L43.58,704.37L44.52,701.3ZM44.66,701.3L45.61,702.91L46.56,701.3ZM47.23,701.3L48.32,703.76L49.41,701.3ZM48.92,701.3L50,704.53L51.08,701.3ZM50.99,701.3L52.59,704.43L54.18,701.3ZM53.85,701.3L54.95,703.64L56.05,701.3ZM55.66,701.3L56.98,703.1L58.29,701.3ZM57.17,701.3L58.47,704.63L59.77,701.3ZM58.4,701.3L59.71,703.85L61.02,701.3ZM61.22,701.3L62.45,703.19L63.69,701.3ZM63.12,701.3L64.16,703.73L65.2,701.3ZM65.55,701.3L66.94,703.8L68.34,701.3ZM69.01,701.3L70.38,704.34L71.76,701.3ZM70.7,701.3L72.09,703.53L73.48,701.3ZM73.5,701.3L74.5,704.58L75.49,701.3ZM75.74,701.3L76.67,703.82L77.6,701.3ZM77.05,701.3L78.12,704.2L79.2,701.3ZM79.3,701.3L80.12,702.99L80.94,701.3ZM80.74,701.3L82.21,704.07L83.67,701.3ZM82.78,701.3L83.62,703.28L84.46,701.3ZM85.69,701.3L87,703.38L88.31,701.3ZM87.29,701.3L88.3,703.29L89.31,701.3ZM89.44,701.3L90.41,703.9L91.37,701.3ZM91.25,701.3L92.36,703.15L93.46,701.3ZM92.18,701.3L93.59,703.85L95,701.3ZM95.56,701.3L97.09,702.85L98.63,701.3ZM97.41,701.3L98.58,703.94L99.75,701.3ZM99.49,701.3L100.64,703.29L101.79,701.3ZM101.07,701.3L102.25,703.73L103.42,701.3ZM103.84,701.3L105.37,704.04L106.89,701.3ZM107.25,701.3L108.76,703.84L110.27,701.3ZM111.07,701.3L112,704.26L112.93,701.3ZM114.13,701.3L115.26,703.42L116.39,701.3ZM116.53,701.3L117.58,703.43L118.62,701.3ZM119.28,701.3L120.22,702.89L121.17,701.3ZM122.59,701.3L123.41,703.64L124.24,701.3ZM124.64,701.3L126.02,703.27L127.4,701.3ZM126.36,701.3L127.76,703.75L129.17,701.3ZM129.74,701.3L130.86,703.76L131.97,701.3ZM133.21,701.3L134.24,704.42L135.28,701.3ZM135.12,701.3L136.28,703.34L137.44,701.3ZM137.84,701.3L138.86,704.58L139.88,701.3ZM140.5,701.3L141.37,702.93L142.24,701.3ZM141.48,701.3L142.83,703.28L144.18,701.3ZM142.67,701.3L144.12,703.37L145.57,701.3ZM144.39,701.3L145.85,703L147.32,701.3ZM146.56,701.3L147.71,703.47L148.86,701.3ZM148.52,701.3L150.03,703.19L151.53,701.3ZM150.48,701.3L151.28,704.18L152.08,701.3ZM152.2,701.3L153.43,703.22L154.66,701.3ZM155.49,701.3L156.62,703.4L157.74,701.3ZM158.16,701.3L159.51,703.3L160.87,701.3ZM160.72,701.3L161.83,703.25L162.94,701.3ZM162.05,701.3L163.06,703.51L164.07,701.3ZM165,701.3L166.04,703.08L167.08,701.3ZM166.78,701.3L167.91,702.9L169.05,701.3ZM169.85,701.3L170.91,703.76L171.97,701.3ZM172.4,701.3L173.44,703.65L174.47,701.3ZM173.28,701.3L174.8,704.2L176.32,701.3ZM175.56,701.3L176.46,704.16L177.37,701.3ZM177.66,701.3L179.07,703.96L180.49,701.3ZM181,701.3L182.19,703.25L183.37,701.3ZM184.06,701.3L185.45,702.91L186.85,701.3ZM187.34,701.3L188.92,703.32L190.49,701.3ZM190.49,701.3L191.46,703.17L192.43,701.3ZM191.72,701.3L193.15,703.38L194.57,701.3ZM193.07,701.3L194.48,703.87L195.89,701.3ZM196.33,701.3L197.79,702.89L199.25,701.3ZM200.15,701.3L201.18,704.57L202.21,701.3ZM202.3,701.3L203.6,703.76L204.9,701.3ZM204.04,701.3L205.59,704.14L207.14,701.3ZM205.36,701.3L206.8,704.58L208.24,701.3ZM207.48,701.3L208.85,703.97L210.21,701.3ZM209.13,701.3L210.61,703.21L212.09,701.3ZM211.09,701.3L212,704.32L212.9,701.3ZM214.43,701.3L215.25,703.2L216.07,701.3ZM214.98,701.3L216.55,704.6L218.13,701.3ZM217.24,701.3L218.79,703.03L220.34,701.3ZM219.12,701.3L220.01,704.55L220.89,701.3ZM220.53,701.3L221.91,704.13L223.28,701.3ZM224.12,701.3L225.1,703.21L226.07,701.3ZM226.83,701.3L227.66,703.25L228.49,701.3ZM228.17,701.3L229.68,704.57L231.19,701.3ZM231.53,701.3L233.01,703L234.5,701.3ZM235.51,701.3L236.35,703.81L237.18,701.3ZM236.16,701.3L237.59,703.21L239.02,701.3ZM238.38,701.3L239.72,703.36L241.05,701.3ZM241.21,701.3L242.73,704.5L244.25,701.3ZM242.96,701.3L244.14,703.89L245.32,701.3ZM245.94,701.3L246.75,703.55L247.56,701.3ZM248.69,701.3L249.78,704.06L250.87,701.3ZM251.53,701.3L252.59,703.36L253.66,701.3ZM254.36,701.3L255.88,702.83L257.4,701.3ZM257.54,701.3L258.98,704.48L260.41,701.3ZM261.38,701.3L262.25,703.31L263.13,701.3ZM264.26,701.3L265.5,703.64L266.75,701.3ZM265.71,701.3L266.88,703.22L268.05,701.3ZM268.01,701.3L269.53,704.01L271.06,701.3ZM271.47,701.3L272.59,703.65L273.72,701.3ZM274.6,701.3L275.52,703.02L276.44,701.3ZM276.4,701.3L277.72,702.91L279.04,701.3ZM279.36,701.3L280.88,703.71L282.41,701.3ZM282,701.3L283.02,703.16L284.04,701.3ZM283.46,701.3L284.39,702.84L285.32,701.3ZM286.49,701.3L287.32,704.41L288.14,701.3ZM289.15,701.3L290.31,703.19L291.47,701.3ZM292.29,701.3L293.24,703.1L294.18,701.3ZM294.98,701.3L296.35,703.67L297.72,701.3ZM297.56,701.3L299,702.86L300.44,701.3ZM300.29,701.3L301.84,704.65L303.4,701.3ZM301.66,701.3L303.26,704.14L304.85,701.3ZM304.92,701.3L306.22,704.26L307.53,701.3ZM307.8,701.3L308.97,703.5L310.13,701.3ZM310.16,701.3L311.34,703.5L312.51,701.3ZM312.26,701.3L313.47,703.12L314.68,701.3ZM313.88,701.3L314.7,703.26L315.53,701.3ZM315.18,701.3L316.25,704.33L317.32,701.3ZM317.86,701.3L319.15,702.92L320.44,701.3ZM321.31,701.3L322.63,702.84L323.95,701.3ZM325.28,701.3L326.11,703.4L326.94,701.3ZM326.9,701.3L328.13,703.72L329.36,701.3ZM329.66,701.3L330.59,704.52L331.51,701.3ZM332.89,701.3L333.76,704.26L334.62,701.3ZM334.22,701.3L335.41,703.54L336.6,701.3ZM335.87,701.3L337.46,702.85L339.05,701.3ZM338,701.3L338.84,703.62L339.68,701.3ZM339.83,701.3L340.85,703.62L341.88,701.3ZM341.89,701.3L343.23,704.41L344.57,701.3ZM343.88,701.3L344.86,704.29L345.84,701.3ZM345.17,701.3L346.14,703.14L347.12,701.3ZM346.52,701.3L348.08,702.91L349.63,701.3ZM348.06,701.3L349.56,703.75L351.06,701.3ZM350.33,701.3L351.57,703.68L352.81,701.3ZM352.11,701.3L353.2,703.02L354.29,701.3ZM355.55,701.3L356.49,703.32L357.43,701.3ZM358.35,701.3L359.92,703.47L361.48,701.3ZM361.77,701.3L363.22,703.05L364.67,701.3ZM364.73,701.3L365.63,703.63L366.53,701.3ZM366.88,701.3L368.01,703.12L369.14,701.3ZM369.36,701.3L370.77,704.57L372.19,701.3ZM373.29,701.3L374.13,703.47L374.97,701.3ZM376.32,701.3L377.43,703.29L378.54,701.3ZM378.55,701.3L379.89,703.84L381.22,701.3ZM382.16,701.3L383.26,703.27L384.36,701.3ZM383.8,701.3L384.93,703.8L386.07,701.3ZM386.8,701.3L387.73,703.92L388.65,701.3ZM389.23,701.3L390.51,703L391.79,701.3ZM391.24,701.3L392.57,702.9L393.91,701.3ZM393.04,701.3L393.85,703.6L394.66,701.3ZM395.57,701.3L396.78,703.27L398,701.3ZM396.84,701.3L398.18,703.91L399.53,701.3ZM398.36,701.3L399.74,703.73L401.12,701.3ZM401.55,701.3L403.02,703.68L404.5,701.3ZM403.14,701.3L404.25,703.8L405.36,701.3ZM405.56,701.3L406.53,703.48L407.49,701.3ZM408.59,701.3L409.88,703.21L411.17,701.3ZM411.82,701.3L412.89,702.94L413.97,701.3ZM413.15,701.3L414.53,704.5L415.91,701.3ZM414.55,701.3L415.94,703.99L417.32,701.3ZM417.17,701.3L418.1,702.84L419.04,701.3ZM418.97,701.3L420.29,703.76L421.6,701.3Z" fill="#000"/>
<path d="M152.3,702.7L154.1,702.7L153.2,710.5ZM221.6,702.7L223.6,702.7L222.8,705Z" fill="#fff"/>
<path d="M35.6,771.95 96.1,771.18 100.1,770.72 102.12,770.25 103.1,769.89 104.1,769.36 104.6,769 105.1,768.54 105.71,767.79 106.1,767.17 106.6,766.11 107.15,764.43 107.6,762.45 108.1,759.13 108.6,753.85 109.1,746.72 109.3,745.43 109.52,746.96 110.2,755.47 110.6,757.9 111.1,757.93 111.16,757.69 111.6,754.27 111.83,750.72 112.17,741.24 112.33,731.26 112.51,702.14 112.67,731.26 112.89,743.41 113.17,750.96 113.6,757.29 113.84,759.51 114.1,761.37 114.6,763.81 115.17,765.54 115.6,766.38 116.1,767.05 116.6,767.48 117.28,767.77 117.85,767.8 118.1,767.75 118.82,767.37 119.1,767.11 119.6,766.44 120.1,765.38 120.66,763.5 121.1,761.11 121.63,756.34 122.11,748.18 122.48,738.24 122.6,736.62 122.72,738.24 123.1,748.49 123.65,757.17 124.1,760.87 124.6,763.24 125.1,764.5 125.6,765 126.1,764.86 126.49,764.32 126.6,764.08 127.1,762.48 127.6,759.73 128.6,750.75 128.8,750.08 129.11,751.62 129.6,756.52 130.1,760.65 130.6,763.44 131.1,765.31 131.6,766.58 132.1,767.48 132.6,768.13 133.1,768.6 133.79,769.06 134.63,769.42 135.6,769.66 136.6,769.76 138.15,769.68 139.1,769.46 140.1,769.01 140.6,768.66 141.1,768.18 141.6,767.51 142.1,766.55 142.6,765.16 143.1,763.03 143.62,759.49 144.1,753.73 144.26,750.89 144.6,741.45 144.82,732.11 144.9,730.47 145.22,742.22 145.6,752 146.18,759.41 146.6,762.33 147.12,764.58 147.6,765.85 148.1,766.64 148.6,767.05 149.1,767.16 149.6,766.99 150.16,766.43 150.6,765.63 151.1,764.15 151.68,761.17 152.1,757.51 152.44,752.77 152.6,749.55 152.82,743.14 153.01,733.37 153.2,712.5 153.39,733.37 153.69,746.79 154.1,755.03 154.6,760.41 155.17,763.89 155.6,765.56 156.24,767.19 156.6,767.82 157.1,768.49 157.6,768.98 158.1,769.35 159.28,769.94 160.6,770.33 164.6,770.8 169.6,770.82 171.1,770.67 171.6,770.57 172.1,770.4 172.6,770.08 173.1,769.37 173.34,768.65 173.6,767 173.77,764.75 173.98,757.73 174.21,730.02 174.31,748.89 174.42,757.67 174.63,764.43 175.06,767.1 175.14,767.01 175.47,764.38 175.6,761.24 175.79,748.87 175.91,730.02 176.01,748.88 176.12,757.68 176.33,764.58 176.6,767.48 176.76,768.25 177.1,769.02 177.65,769.38 178.1,769.38 178.6,769.21 179.35,768.68 179.6,768.42 180.1,767.75 180.6,766.78 181.1,765.35 181.6,763.2 182.1,759.79 182.37,757.14 182.88,748.92 183.27,738.95 183.4,737.33 183.53,738.95 183.92,748.92 184.1,752.47 184.43,757.14 184.78,760.5 185.1,762.66 185.6,765.02 186.1,766.59 186.6,767.67 187.1,768.43 187.6,768.98 188.1,769.4 188.6,769.72 189.6,770.16 191.1,770.55 210.1,771.12 212.1,770.96 212.72,770.78 213.1,770.48 213.41,769.85 213.6,768.89 213.76,767.05 213.93,761.1 214.11,734.11 214.19,752.76 214.27,761.1 214.44,767.04 214.6,768.86 214.79,769.79 215.1,770.39 215.6,770.68 217.1,770.71 218.1,770.52 218.6,770.36 219.1,770.13 219.61,769.79 220.1,769.29 220.6,768.47 221.1,767.05 221.6,764.39 222.1,758.71 222.49,748.09 222.8,727.48 223.11,748.09 223.42,757.14 223.6,760.26 224.12,765.18 224.6,767.4 225.1,768.66 225.6,769.4 226.1,769.87 226.6,770.18 227.72,770.59 230.6,770.95 248.6,770.83 252.1,770.44 253.6,770.07 254.6,769.66 255.1,769.37 255.6,768.99 256.1,768.49 256.6,767.8 257.1,766.85 257.6,765.48 258.1,763.43 258.6,760.21 259.1,754.75 259.27,751.9 259.64,742.17 259.82,732.38 260,711.5 260.18,732.38 260.36,742.17 260.73,751.9 261.1,757.32 261.6,761.68 262.1,764.34 262.6,766.07 263.18,767.38 263.6,768.05 264.1,768.64 264.6,769.06 265.1,769.37 266.1,769.73 266.6,769.79 267.1,769.7 267.39,769.53 267.6,769.29 268.1,767.66 268.45,762.87 268.62,755.22 268.8,735.24 268.98,755.23 269.15,762.9 269.5,767.8 269.6,768.37 270.1,769.73 270.6,770.21 271.1,770.44 272.1,770.66 305.6,770.77 306.6,770.65 307.1,770.5 307.41,770.32 307.6,770.14 308.01,769.11 308.1,768.54 308.3,765.73 308.45,759.33 308.6,740.08 308.75,759.32 308.9,765.68 309.1,768.42 309.19,768.95 309.61,769.74 309.79,769.73 310.1,769.29 310.21,768.91 310.36,767.86 310.5,765.64 310.65,759.29 310.8,740.08 310.97,760.89 311.1,765.74 311.39,768.97 311.6,769.63 311.99,770.09 312.6,770.27 313.6,770.19 314.14,769.97 314.6,769.41 314.77,768.91 315.1,765.73 315.24,760.77 315.4,750.75 315.6,762.74 315.71,765.97 316.03,768.72 316.1,768.94 316.6,769.5 317.1,769.52 317.6,769.38 318.1,769.14 318.6,768.81 319.1,768.35 319.6,767.72 320.1,766.84 320.6,765.57 321.1,763.69 321.6,760.76 322.1,755.89 322.6,746.45 322.82,738.23 322.96,728.39 323.1,707.5 323.24,728.39 323.38,738.23 323.66,748.12 324.1,755.89 324.6,760.74 325.23,764.21 325.6,765.46 325.86,766.13 326.27,766.8 326.6,766.89 326.78,766.48 327.04,763.46 327.17,757.19 327.32,739.59 327.43,757.24 327.61,764.83 327.82,767.25 327.93,767.81 328.1,768.31 328.33,768.68 328.6,768.91 328.97,768.96 329.1,768.88 329.37,768.4 329.48,767.88 329.6,766.9 329.74,764.24 329.87,757.48 330.02,739.63 330.13,757.5 330.26,764.31 330.52,768.14 330.6,768.6 331.03,769.63 331.6,770.03 332.6,770.3 362.1,770.53 366.1,770.18 367.6,769.89 368.6,769.57 369.6,769.08 370.17,768.67 370.6,768.26 371.1,767.64 371.6,766.78 372.1,765.57 372.6,763.8 373.1,761.17 373.6,757.12 374.35,747.81 374.6,746.23 374.68,746.43 374.85,747.81 375.6,757.12 376.1,761.16 376.6,763.77 377.1,765.5 377.6,766.63 378.1,767.29 378.6,767.11 378.92,764.8 379.2,757.81 379.48,765.05 379.6,766.61 379.76,767.74 380.1,768.7 380.6,769.26 381.1,769.55 382.1,769.88 384.1,770.15 385.15,770.09 385.6,769.88 385.93,769.44 386.1,768.88 386.31,767.25 386.51,762.76 386.7,753.33 386.89,762.77 387.1,767.44 387.47,769.51 387.6,769.75 388.1,770.2 388.6,770.36 420.6,770.66" fill="none" stroke="rgb(255,0,0)" stroke-opacity="0.36" stroke-width="1"/>
<path d="M68,701.3L71,703A1,1 0 0 0 73,703L76,701.3ZM89.3,701.3L89.8,704.5A0.5,0.5 0 0 0 90.8,704.5L91.3,701.3ZM107.25,701.3L108,744.5A1.3,1.3 0 0 0 110.6,744.5L111.35,701.3ZM110.45,701.3L111.2,751.4A1.3,1.3 0 0 0 113.8,751.4L114.55,701.3ZM120.6,701.3L121.4,735.5A1.2,1.2 0 0 0 123.8,735.5L124.6,701.3ZM126.75,701.3L127.5,749.3A1.3,1.3 0 0 0 130.1,749.3L130.85,701.3ZM142.9,701.3L143.7,729.3A1.2,1.2 0 0 0 146.1,729.3L146.9,701.3ZM151,701.3L151.9,745.9A1.3,1.3 0 0 0 154.5,745.9L155.4,701.3ZM172.6,701.3L173.6,722.3A1.2,1.2 0 0 0 176,722.3L177,701.3ZM181.4,701.3L182.2,736.2A1.2,1.2 0 0 0 184.6,736.2L185.4,701.3ZM212.85,701.3L213.35,706.05A0.75,0.75 0 0 0 214.85,706.05L215.35,701.3ZM220.4,701.3L221.6,725.1A1.2,1.2 0 0 0 224,725.1L224.8,701.3ZM257.95,701.3L258.7,745.2A1.3,1.3 0 0 0 261.3,745.2L262.05,701.3ZM266.7,701.3L267.5,726.4A1.3,1.3 0 0 0 270.1,726.4L270.9,701.3ZM321.05,701.3L321.8,750A1.3,1.3 0 0 0 324.4,750L325.15,701.3ZM372.55,701.3L373.3,745.2A1.3,1.3 0 0 0 375.9,745.2L376.65,701.3ZM333.9,701.3L334.4,704A0.5,0.5 0 0 0 335.4,704L335.9,701.3ZM38.34,701.3L39.73,703.28L41.13,701.3ZM40.12,701.3L41.64,703.3L43.15,701.3ZM42.64,701.3L43.58,704.37L44.52,701.3ZM44.66,701.3L45.61,702.91L46.56,701.3ZM47.23,701.3L48.32,703.76L49.41,701.3ZM48.92,701.3L50,704.53L51.08,701.3ZM50.99,701.3L52.59,704.43L54.18,701.3ZM53.85,701.3L54.95,703.64L56.05,701.3ZM55.66,701.3L56.98,703.1L58.29,701.3ZM57.17,701.3L58.47,704.63L59.77,701.3ZM58.4,701.3L59.71,703.85L61.02,701.3ZM61.22,701.3L62.45,703.19L63.69,701.3ZM63.12,701.3L64.16,703.73L65.2,701.3ZM65.55,701.3L66.94,703.8L68.34,701.3ZM69.01,701.3L70.38,704.34L71.76,701.3ZM70.7,701.3L72.09,703.53L73.48,701.3ZM73.5,701.3L74.5,704.58L75.49,701.3ZM75.74,701.3L76.67,703.82L77.6,701.3ZM77.05,701.3L78.12,704.2L79.2,701.3ZM79.3,701.3L80.12,702.99L80.94,701.3ZM80.74,701.3L82.21,704.07L83.67,701.3ZM82.78,701.3L83.62,703.28L84.46,701.3ZM85.69,701.3L87,703.38L88.31,701.3ZM87.29,701.3L88.3,703.29L89.31,701.3ZM89.44,701.3L90.41,703.9L91.37,701.3ZM91.25,701.3L92.36,703.15L93.46,701.3ZM92.18,701.3L93.59,703.85L95,701.3ZM95.56,701.3L97.09,702.85L98.63,701.3ZM97.41,701.3L98.58,703.94L99.75,701.3ZM99.49,701.3L100.64,703.29L101.79,701.3ZM101.07,701.3L102.25,703.73L103.42,701.3ZM103.84,701.3L105.37,704.04L106.89,701.3ZM107.25,701.3L108.76,703.84L110.27,701.3ZM111.07,701.3L112,704.26L112.93,701.3ZM114.13,701.3L115.26,703.42L116.39,701.3ZM116.53,701.3L117.58,703.43L118.62,701.3ZM119.28,701.3L120.22,702.89L121.17,701.3ZM122.59,701.3L123.41,703.64L124.24,701.3ZM124.64,701.3L126.02,703.27L127.4,701.3ZM126.36,701.3L127.76,703.75L129.17,701.3ZM129.74,701.3L130.86,703.76L131.97,701.3ZM133.21,701.3L134.24,704.42L135.28,701.3ZM135.12,701.3L136.28,703.34L137.44,701.3ZM137.84,701.3L138.86,704.58L139.88,701.3ZM140.5,701.3L141.37,702.93L142.24,701.3ZM141.48,701.3L142.83,703.28L144.18,701.3ZM142.67,701.3L144.12,703.37L145.57,701.3ZM144.39,701.3L145.85,703L147.32,701.3ZM146.56,701.3L147.71,703.47L148.86,701.3ZM148.52,701.3L150.03,703.19L151.53,701.3ZM150.48,701.3L151.28,704.18L152.08,701.3ZM152.2,701.3L153.43,703.22L154.66,701.3ZM155.49,701.3L156.62,703.4L157.74,701.3ZM158.16,701.3L159.51,703.3L160.87,701.3ZM160.72,701.3L161.83,703.25L162.94,701.3ZM162.05,701.3L163.06,703.51L164.07,701.3ZM165,701.3L166.04,703.08L167.08,701.3ZM166.78,701.3L167.91,702.9L169.05,701.3ZM169.85,701.3L170.91,703.76L171.97,701.3ZM172.4,701.3L173.44,703.65L174.47,701.3ZM173.28,701.3L174.8,704.2L176.32,701.3ZM175.56,701.3L176.46,704.16L177.37,701.3ZM177.66,701.3L179.07,703.96L180.49,701.3ZM181,701.3L182.19,703.25L183.37,701.3ZM184.06,701.3L185.45,702.91L186.85,701.3ZM187.34,701.3L188.92,703.32L190.49,701.3ZM190.49,701.3L191.46,703.17L192.43,701.3ZM191.72,701.3L193.15,703.38L194.57,701.3ZM193.07,701.3L194.48,703.87L195.89,701.3ZM196.33,701.3L197.79,702.89L199.25,701.3ZM200.15,701.3L201.18,704.57L202.21,701.3ZM202.3,701.3L203.6,703.76L204.9,701.3ZM204.04,701.3L205.59,704.14L207.14,701.3ZM205.36,701.3L206.8,704.58L208.24,701.3ZM207.48,701.3L208.85,703.97L210.21,701.3ZM209.13,701.3L210.61,703.21L212.09,701.3ZM211.09,701.3L212,704.32L212.9,701.3ZM214.43,701.3L215.25,703.2L216.07,701.3ZM214.98,701.3L216.55,704.6L218.13,701.3ZM217.24,701.3L218.79,703.03L220.34,701.3ZM219.12,701.3L220.01,704.55L220.89,701.3ZM220.53,701.3L221.91,704.13L223.28,701.3ZM224.12,701.3L225.1,703.21L226.07,701.3ZM226.83,701.3L227.66,703.25L228.49,701.3ZM228.17,701.3L229.68,704.57L231.19,701.3ZM231.53,701.3L233.01,703L234.5,701.3ZM235.51,701.3L236.35,703.81L237.18,701.3ZM236.16,701.3L237.59,703.21L239.02,701.3ZM238.38,701.3L239.72,703.36L241.05,701.3ZM241.21,701.3L242.73,704.5L244.25,701.3ZM242.96,701.3L244.14,703.89L245.32,701.3ZM245.94,701.3L246.75,703.55L247.56,701.3ZM248.69,701.3L249.78,704.06L250.87,701.3ZM251.53,701.3L252.59,703.36L253.66,701.3ZM254.36,701.3L255.88,702.83L257.4,701.3ZM257.54,701.3L258.98,704.48L260.41,701.3ZM261.38,701.3L262.25,703.31L263.13,701.3ZM264.26,701.3L265.5,703.64L266.75,701.3ZM265.71,701.3L266.88,703.22L268.05,701.3ZM268.01,701.3L269.53,704.01L271.06,701.3ZM271.47,701.3L272.59,703.65L273.72,701.3ZM274.6,701.3L275.52,703.02L276.44,701.3ZM276.4,701.3L277.72,702.91L279.04,701.3ZM279.36,701.3L280.88,703.71L282.41,701.3ZM282,701.3L283.02,703.16L284.04,701.3ZM283.46,701.3L284.39,702.84L285.32,701.3ZM286.49,701.3L287.32,704.41L288.14,701.3ZM289.15,701.3L290.31,703.19L291.47,701.3ZM292.29,701.3L293.24,703.1L294.18,701.3ZM294.98,701.3L296.35,703.67L297.72,701.3ZM297.56,701.3L299,702.86L300.44,701.3ZM300.29,701.3L301.84,704.65L303.4,701.3ZM301.66,701.3L303.26,704.14L304.85,701.3ZM304.92,701.3L306.22,704.26L307.53,701.3ZM307.8,701.3L308.97,703.5L310.13,701.3ZM310.16,701.3L311.34,703.5L312.51,701.3ZM312.26,701.3L313.47,703.12L314.68,701.3ZM313.88,701.3L314.7,703.26L315.53,701.3ZM315.18,701.3L316.25,704.33L317.32,701.3ZM317.86,701.3L319.15,702.92L320.44,701.3ZM321.31,701.3L322.63,702.84L323.95,701.3ZM325.28,701.3L326.11,703.4L326.94,701.3ZM326.9,701.3L328.13,703.72L329.36,701.3ZM329.66,701.3L330.59,704.52L331.51,701.3ZM332.89,701.3L333.76,704.26L334.62,701.3ZM334.22,701.3L335.41,703.54L336.6,701.3ZM335.87,701.3L337.46,702.85L339.05,701.3ZM338,701.3L338.84,703.62L339.68,701.3ZM339.83,701.3L340.85,703.62L341.88,701.3ZM341.89,701.3L343.23,704.41L344.57,701.3ZM343.88,701.3L344.86,704.29L345.84,701.3ZM345.17,701.3L346.14,703.14L347.12,701.3ZM346.52,701.3L348.08,702.91L349.63,701.3ZM348.06,701.3L349.56,703.75L351.06,701.3ZM350.33,701.3L351.57,703.68L352.81,701.3ZM352.11,701.3L353.2,703.02L354.29,701.3ZM355.55,701.3L356.49,703.32L357.43,701.3ZM358.35,701.3L359.92,703.47L361.48,701.3ZM361.77,701.3L363.22,703.05L364.67,701.3ZM364.73,701.3L365.63,703.63L366.53,701.3ZM366.88,701.3L368.01,703.12L369.14,701.3ZM369.36,701.3L370.77,704.57L372.19,701.3ZM373.29,701.3L374.13,703.47L374.97,701.3ZM376.32,701.3L377.43,703.29L378.54,701.3ZM378.55,701.3L379.89,703.84L381.22,701.3ZM382.16,701.3L383.26,703.27L384.36,701.3ZM383.8,701.3L384.93,703.8L386.07,701.3ZM386.8,701.3L387.73,703.92L388.65,701.3ZM389.23,701.3L390.51,703L391.79,701.3ZM391.24,701.3L392.57,702.9L393.91,701.3ZM393.04,701.3L393.85,703.6L394.66,701.3ZM395.57,701.3L396.78,703.27L398,701.3ZM396.84,701.3L398.18,703.91L399.53,701.3ZM398.36,701.3L399.74,703.73L401.12,701.3ZM401.55,701.3L403.02,703.68L404.5,701.3ZM403.14,701.3L404.25,703.8L405.36,701.3ZM405.56,701.3L406.53,703.48L407.49,701.3ZM408.59,701.3L409.88,703.21L411.17,701.3ZM411.82,701.3L412.89,702.94L413.97,701.3ZM413.15,701.3L414.53,704.5L415.91,701.3ZM414.55,701.3L415.94,703.99L417.32,701.3ZM417.17,701.3L418.1,702.84L419.04,701.3ZM418.97,701.3L420.29,703.76L421.6,701.3ZM152.3,702.7L154.1,702.7L153.2,710.5ZM221.6,702.7L223.6,702.7L222.8,705Z" fill="#000" fill-opacity="0.3" fill-rule="evenodd"/>
<rect x="35.6" y="699.7" width="384.1" height="83.9" fill="none" stroke="#000" stroke-width="1"/>
<path d="M35.6,700.9h3M35.6,702.6h1.6M35.6,704.3h1.6M35.6,706h1.6M35.6,707.7h1.6M35.6,709.4h1.6M35.6,711.1h1.6M35.6,712.8h1.6M35.6,714.5h1.6M35.6,716.2h1.6M35.6,717.9h3M35.6,719.6h1.6M35.6,721.3h1.6M35.6,723h1.6M35.6,724.7h1.6M35.6,726.4h1.6M35.6,728.1h1.6M35.6,729.8h1.6M35.6,731.5h1.6M35.6,733.2h1.6M35.6,734.9h3M35.6,736.6h1.6M35.6,738.3h1.6M35.6,740h1.6M35.6,741.7h1.6M35.6,743.4h1.6M35.6,745.1h1.6M35.6,746.8h1.6M35.6,748.5h1.6M35.6,750.2h1.6M35.6,751.9h3M35.6,753.6h1.6M35.6,755.3h1.6M35.6,757h1.6M35.6,758.7h1.6M35.6,760.4h1.6M35.6,762.1h1.6M35.6,763.8h1.6M35.6,765.5h1.6M35.6,767.2h1.6M35.6,768.9h3M35.6,770.6h1.6M35.6,772.3h1.6M35.6,774h1.6M35.6,775.7h1.6M35.6,777.4h1.6M35.6,779.1h1.6M35.6,780.8h1.6M35.6,782.5h1.6M419.7,700.9h-2.6M419.7,717.9h-2.6M419.7,734.9h-2.6M419.7,751.9h-2.6M419.7,768.9h-2.6M40.58,783.6v-1.6M50.56,783.6v-1.6M60.52,783.6v-1.6M70.5,783.6v-3M80.46,783.6v-1.6M90.44,783.6v-1.6M100.4,783.6v-1.6M110.38,783.6v-1.6M120.34,783.6v-3M130.32,783.6v-1.6M140.28,783.6v-1.6M150.26,783.6v-1.6M160.22,783.6v-1.6M170.2,783.6v-3M180.16,783.6v-1.6M190.14,783.6v-1.6M200.1,783.6v-1.6M210.08,783.6v-1.6M220.04,783.6v-3M230.02,783.6v-1.6M239.98,783.6v-1.6M249.96,783.6v-1.6M259.92,783.6v-1.6M269.9,783.6v-3M279.86,783.6v-1.6M289.84,783.6v-1.6M299.8,783.6v-1.6M309.78,783.6v-1.6M319.74,783.6v-3M329.72,783.6v-1.6M339.68,783.6v-1.6M349.66,783.6v-1.6M359.62,783.6v-1.6M369.6,783.6v-3M379.56,783.6v-1.6M389.54,783.6v-1.6M399.5,783.6v-1.6M409.48,783.6v-1.6M419.44,783.6v-3" stroke="#000" stroke-width="1" fill="none"/>
<g><text x="59.3" y="797.8" textLength="22.4" lengthAdjust="spacingAndGlyphs">1.665</text><text x="109.14" y="797.8" textLength="22.4" lengthAdjust="spacingAndGlyphs">1.670</text><text x="159" y="797.8" textLength="22.4" lengthAdjust="spacingAndGlyphs">1.675</text><text x="208.84" y="797.8" textLength="22.4" lengthAdjust="spacingAndGlyphs">1.680</text><text x="258.7" y="797.8" textLength="22.4" lengthAdjust="spacingAndGlyphs">1.685</text><text x="308.54" y="797.8" textLength="22.4" lengthAdjust="spacingAndGlyphs">1.690</text><text x="358.4" y="797.8" textLength="22.4" lengthAdjust="spacingAndGlyphs">1.695</text><text x="408.24" y="797.8" textLength="22.4" lengthAdjust="spacingAndGlyphs">1.700</text><text x="33.1" y="705.2" text-anchor="end">0</text><text x="33.1" y="722.2" text-anchor="end">–10</text><text x="33.1" y="739.2" text-anchor="end">–20</text><text x="33.1" y="756.2" text-anchor="end">–30</text><text x="33.1" y="773.2" text-anchor="end">–40</text><text x="423.9" y="704.5">1</text><text x="423.9" y="722.1" textLength="9.2" lengthAdjust="spacingAndGlyphs">10</text><text x="433.2" y="719.9" font-size="7.8" textLength="9.4" lengthAdjust="spacingAndGlyphs">−1</text><text x="423.9" y="739.1" textLength="9.2" lengthAdjust="spacingAndGlyphs">10</text><text x="433.2" y="736.9" font-size="7.8" textLength="9.4" lengthAdjust="spacingAndGlyphs">−2</text><text x="423.9" y="756.1" textLength="9.2" lengthAdjust="spacingAndGlyphs">10</text><text x="433.2" y="753.9" font-size="7.8" textLength="9.4" lengthAdjust="spacingAndGlyphs">−3</text><text x="423.9" y="773.1" textLength="9.2" lengthAdjust="spacingAndGlyphs">10</text><text x="433.2" y="770.9" font-size="7.8" textLength="9.4" lengthAdjust="spacingAndGlyphs">−4</text><text x="227" y="815.5" text-anchor="middle"><tspan font-style="italic">λ</tspan> (<tspan font-style="italic">μ</tspan>m)</text><text transform="translate(8.0,742.2) rotate(-90)" text-anchor="middle" class="al">Transmission (dB)</text><text transform="translate(460.8,741.5) rotate(-90)" text-anchor="middle" class="al">Transmission</text></g>
</svg>
</body></html>
